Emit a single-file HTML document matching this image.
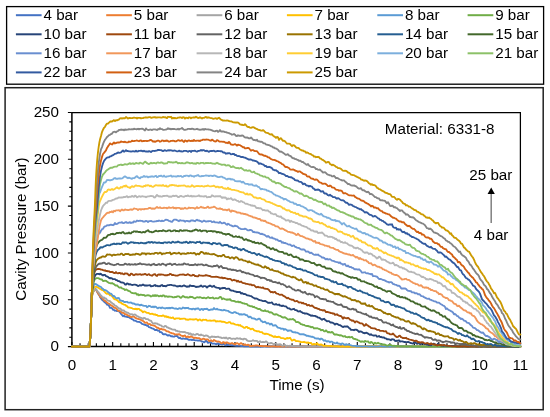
<!DOCTYPE html>
<html><head><meta charset="utf-8"><style>
html,body{margin:0;padding:0;background:#fff;width:550px;height:417px;overflow:hidden}
svg{display:block;will-change:transform}
text{font-family:"Liberation Sans",sans-serif;font-size:15.2px;fill:#000}
</style></head><body>
<svg width="550" height="417" viewBox="0 0 550 417">
<rect x="6.6" y="6.6" width="537" height="77.6" fill="#fff" stroke="#000" stroke-width="1.3"/>
<line x1="15.9" y1="15.2" x2="41.6" y2="15.2" stroke="#4472C4" stroke-width="2"/><text x="43.5" y="20.0">4 bar</text><line x1="106.2" y1="15.2" x2="131.9" y2="15.2" stroke="#ED7D31" stroke-width="2"/><text x="133.8" y="20.0">5 bar</text><line x1="196.6" y1="15.2" x2="222.3" y2="15.2" stroke="#A5A5A5" stroke-width="2"/><text x="224.2" y="20.0">6 bar</text><line x1="286.9" y1="15.2" x2="312.6" y2="15.2" stroke="#FFC000" stroke-width="2"/><text x="314.5" y="20.0">7 bar</text><line x1="377.3" y1="15.2" x2="403.0" y2="15.2" stroke="#5B9BD5" stroke-width="2"/><text x="404.9" y="20.0">8 bar</text><line x1="467.6" y1="15.2" x2="493.3" y2="15.2" stroke="#70AD47" stroke-width="2"/><text x="495.2" y="20.0">9 bar</text><line x1="15.9" y1="34.3" x2="41.6" y2="34.3" stroke="#264478" stroke-width="2"/><text x="43.5" y="39.1">10 bar</text><line x1="106.2" y1="34.3" x2="131.9" y2="34.3" stroke="#9E480E" stroke-width="2"/><text x="133.8" y="39.1">11 bar</text><line x1="196.6" y1="34.3" x2="222.3" y2="34.3" stroke="#636363" stroke-width="2"/><text x="224.2" y="39.1">12 bar</text><line x1="286.9" y1="34.3" x2="312.6" y2="34.3" stroke="#997300" stroke-width="2"/><text x="314.5" y="39.1">13 bar</text><line x1="377.3" y1="34.3" x2="403.0" y2="34.3" stroke="#255E91" stroke-width="2"/><text x="404.9" y="39.1">14 bar</text><line x1="467.6" y1="34.3" x2="493.3" y2="34.3" stroke="#43682B" stroke-width="2"/><text x="495.2" y="39.1">15 bar</text><line x1="15.9" y1="53.3" x2="41.6" y2="53.3" stroke="#698ED0" stroke-width="2"/><text x="43.5" y="58.1">16 bar</text><line x1="106.2" y1="53.3" x2="131.9" y2="53.3" stroke="#F1975A" stroke-width="2"/><text x="133.8" y="58.1">17 bar</text><line x1="196.6" y1="53.3" x2="222.3" y2="53.3" stroke="#B7B7B7" stroke-width="2"/><text x="224.2" y="58.1">18 bar</text><line x1="286.9" y1="53.3" x2="312.6" y2="53.3" stroke="#FFCD33" stroke-width="2"/><text x="314.5" y="58.1">19 bar</text><line x1="377.3" y1="53.3" x2="403.0" y2="53.3" stroke="#7CAFDD" stroke-width="2"/><text x="404.9" y="58.1">20 bar</text><line x1="467.6" y1="53.3" x2="493.3" y2="53.3" stroke="#8CC168" stroke-width="2"/><text x="495.2" y="58.1">21 bar</text><line x1="15.9" y1="72.4" x2="41.6" y2="72.4" stroke="#325AA0" stroke-width="2"/><text x="43.5" y="77.2">22 bar</text><line x1="106.2" y1="72.4" x2="131.9" y2="72.4" stroke="#D26012" stroke-width="2"/><text x="133.8" y="77.2">23 bar</text><line x1="196.6" y1="72.4" x2="222.3" y2="72.4" stroke="#848484" stroke-width="2"/><text x="224.2" y="77.2">24 bar</text><line x1="286.9" y1="72.4" x2="312.6" y2="72.4" stroke="#CC9A00" stroke-width="2"/><text x="314.5" y="77.2">25 bar</text>
<rect x="5.1" y="87.7" width="538.1" height="322" fill="#fff" stroke="#222" stroke-width="1.5"/>
<path d="M71.9,112.5H520.4V346.6" fill="none" stroke="#000" stroke-width="1.25"/>
<path d="M71.9,112.5V346.6H520.4" fill="none" stroke="#000" stroke-width="1.5"/>
<path d="M67.90,346.60H71.9 M69.30,337.24H71.9 M69.30,327.87H71.9 M69.30,318.51H71.9 M69.30,309.14H71.9 M67.90,299.78H71.9 M69.30,290.42H71.9 M69.30,281.05H71.9 M69.30,271.69H71.9 M69.30,262.32H71.9 M67.90,252.96H71.9 M69.30,243.60H71.9 M69.30,234.23H71.9 M69.30,224.87H71.9 M69.30,215.50H71.9 M67.90,206.14H71.9 M69.30,196.78H71.9 M69.30,187.41H71.9 M69.30,178.05H71.9 M69.30,168.68H71.9 M67.90,159.32H71.9 M69.30,149.96H71.9 M69.30,140.59H71.9 M69.30,131.23H71.9 M69.30,121.86H71.9 M67.90,112.50H71.9 M71.90,346.6V342.00 M80.05,346.6V343.20 M88.21,346.6V343.20 M96.36,346.6V343.20 M104.52,346.6V343.20 M112.67,346.6V342.00 M120.82,346.6V343.20 M128.98,346.6V343.20 M137.13,346.6V343.20 M145.29,346.6V343.20 M153.44,346.6V342.00 M161.59,346.6V343.20 M169.75,346.6V343.20 M177.90,346.6V343.20 M186.06,346.6V343.20 M194.21,346.6V342.00 M202.36,346.6V343.20 M210.52,346.6V343.20 M218.67,346.6V343.20 M226.83,346.6V343.20 M234.98,346.6V342.00 M243.13,346.6V343.20 M251.29,346.6V343.20 M259.44,346.6V343.20 M267.60,346.6V343.20 M275.75,346.6V342.00 M283.90,346.6V343.20 M292.06,346.6V343.20 M300.21,346.6V343.20 M308.37,346.6V343.20 M316.52,346.6V342.00 M324.67,346.6V343.20 M332.83,346.6V343.20 M340.98,346.6V343.20 M349.14,346.6V343.20 M357.29,346.6V342.00 M365.44,346.6V343.20 M373.60,346.6V343.20 M381.75,346.6V343.20 M389.91,346.6V343.20 M398.06,346.6V342.00 M406.21,346.6V343.20 M414.37,346.6V343.20 M422.52,346.6V343.20 M430.68,346.6V343.20 M438.83,346.6V342.00 M446.98,346.6V343.20 M455.14,346.6V343.20 M463.29,346.6V343.20 M471.45,346.6V343.20 M479.60,346.6V342.00 M487.75,346.6V343.20 M495.91,346.6V343.20 M504.06,346.6V343.20 M512.22,346.6V343.20 M520.37,346.6V342.00" fill="none" stroke="#000" stroke-width="1.1"/>
<g fill="none" stroke-width="1.85" stroke-linejoin="round" stroke-linecap="round">
<path d="M71.9,346.6 L75.9,346.6 L79.9,346.6 L83.9,346.6 L87.9,346.6 L89.0,346.6 L89.2,346.6 L89.4,346.1 L89.6,344.7 L89.8,342.6 L90.0,340.1 L90.2,337.4 L90.4,334.4 L90.6,330.1 L90.8,325.1 L91.0,319.8 L91.2,315.0 L91.4,310.3 L91.6,305.4 L91.8,300.7 L92.0,297.1 L92.2,295.0 L92.4,294.1 L92.6,293.3 L92.8,292.8 L93.0,292.3 L93.2,291.9 L93.4,291.5 L93.6,291.1 L93.8,290.8 L94.0,290.5 L94.2,290.2 L94.4,290.0 L94.6,289.8 L94.8,289.6 L95.0,289.5 L95.2,289.4 L95.4,289.3 L95.6,289.2 L95.8,289.2 L96.0,289.4 L96.2,289.7 L96.4,290.0 L96.6,290.5 L96.8,290.9 L97.0,291.4 L97.2,291.9 L97.4,292.3 L97.6,292.7 L97.8,293.0 L98.0,293.3 L98.2,293.7 L98.4,294.0 L98.6,294.3 L98.8,294.7 L99.0,295.0 L99.2,295.3 L99.4,295.6 L99.6,295.9 L99.8,296.2 L100.0,297.0 L101.0,298.4 L102.0,299.8 L103.0,300.6 L104.0,301.5 L105.0,302.5 L106.0,303.1 L107.0,304.7 L108.0,304.9 L109.0,305.7 L110.0,307.8 L111.0,307.8 L112.0,308.1 L113.0,309.8 L114.0,309.9 L115.0,310.7 L116.0,310.6 L117.0,311.1 L118.0,311.0 L119.0,311.4 L120.0,312.5 L121.0,313.8 L122.0,315.0 L123.0,316.2 L124.0,315.5 L125.0,316.6 L126.0,316.6 L127.0,317.0 L128.0,316.9 L129.0,317.3 L130.0,318.0 L131.0,318.3 L132.0,319.2 L133.0,319.5 L134.0,320.6 L135.0,320.6 L136.0,321.0 L137.0,321.7 L138.0,321.9 L139.0,321.9 L140.0,322.2 L141.0,322.8 L142.0,323.8 L143.0,324.2 L144.0,324.5 L145.0,325.0 L146.0,325.0 L147.0,325.7 L148.0,325.7 L149.0,327.2 L150.0,327.4 L151.0,327.8 L152.0,328.4 L153.0,328.6 L154.0,329.1 L155.0,330.0 L156.0,330.0 L157.0,330.0 L158.0,330.7 L159.0,330.6 L160.0,332.2 L161.0,332.1 L162.0,332.7 L163.0,334.1 L164.0,334.5 L165.0,334.0 L166.0,334.4 L167.0,335.1 L168.0,335.6 L169.0,335.1 L170.0,335.5 L171.0,336.2 L172.0,336.2 L173.0,336.6 L174.0,336.7 L175.0,336.1 L176.0,336.1 L177.0,335.8 L178.0,337.1 L179.0,338.1 L180.0,337.6 L181.0,338.6 L182.0,338.8 L183.0,338.5 L184.0,338.6 L185.0,338.8 L186.0,338.5 L187.0,338.9 L188.0,339.3 L189.0,339.8 L190.0,339.9 L191.0,339.5 L192.0,340.1 L193.0,339.7 L194.0,340.0 L195.0,340.4 L196.0,340.4 L197.0,340.4 L198.0,340.7 L199.0,340.5 L200.0,340.5 L201.0,341.0 L202.0,341.6 L203.0,341.6 L204.0,342.4 L205.0,341.7 L206.0,340.4 L207.0,341.7 L208.0,342.9 L209.0,342.5 L210.0,342.2 L211.0,342.4 L212.0,343.5 L213.0,343.7 L214.0,343.6 L215.0,343.7 L216.0,344.3 L217.0,344.0 L218.0,343.3 L219.0,344.1 L220.0,344.1 L221.0,344.2 L222.0,344.6 L223.0,344.2 L224.0,343.3 L225.0,345.1 L226.0,345.3 L227.0,344.8 L228.0,344.8 L229.0,345.0 L230.0,344.6 L231.0,345.2 L232.0,345.2 L233.0,345.2 L234.0,345.5 L235.0,345.6 L236.0,345.8 L237.0,345.9 L238.0,345.9 L239.0,345.9 L240.0,345.9 L241.0,346.1 L242.0,346.2 L243.0,346.1 L244.0,346.3 L245.0,346.2 L246.0,346.3 L247.0,346.4 L248.0,346.4 L249.0,346.4 L250.0,346.5 L251.0,346.6 L252.0,346.5 L253.0,346.6 L254.0,346.5 L255.0,346.6 L256.0,346.5 L257.0,346.5 L258.0,346.6 L259.0,346.6 L260.0,346.7 L261.0,346.7 L262.0,346.6 L263.0,346.5 L264.0,346.4 L265.0,346.4 L266.0,346.5 L267.0,346.5 L268.0,346.5 L269.0,346.5 L270.0,346.5 L271.0,346.4 L272.0,346.4 L273.0,346.6 L274.0,346.6 L275.0,346.5 L276.0,346.6 L277.0,346.5 L278.0,346.4 L279.0,346.4 L280.0,346.5 L281.0,346.5 L282.0,346.6 L283.0,346.6 L284.0,346.5 L285.0,346.5 L286.0,346.6 L287.0,346.5 L288.0,346.5 L289.0,346.5 L290.0,346.6 L291.0,346.6 L292.0,346.7 L293.0,346.5 L294.0,346.6 L295.0,346.5 L296.0,346.5 L297.0,346.5 L298.0,346.6 L299.0,346.6 L300.0,346.5 L301.0,346.5 L302.0,346.5 L303.0,346.5 L304.0,346.5 L305.0,346.5 L306.0,346.7 L307.0,346.6 L308.0,346.6 L309.0,346.4 L310.0,346.4 L311.0,346.5 L312.0,346.5 L313.0,346.5 L314.0,346.5 L315.0,346.6 L316.0,346.6 L317.0,346.5 L318.0,346.5 L319.0,346.5 L320.0,346.5 L321.0,346.6 L322.0,346.6 L323.0,346.5 L324.0,346.5 L325.0,346.6 L326.0,346.4 L327.0,346.5 L328.0,346.4 L329.0,346.5 L330.0,346.6 L331.0,346.6 L332.0,346.7 L333.0,346.7 L334.0,346.6 L335.0,346.5 L336.0,346.5 L337.0,346.5 L338.0,346.4 L339.0,346.6 L340.0,346.5 L341.0,346.4 L342.0,346.5 L343.0,346.6 L344.0,346.6 L345.0,346.5 L346.0,346.5 L347.0,346.5 L348.0,346.4 L349.0,346.5 L350.0,346.5 L351.0,346.4 L352.0,346.5 L353.0,346.4 L354.0,346.5 L355.0,346.4 L356.0,346.4 L357.0,346.5 L358.0,346.5 L359.0,346.4 L360.0,346.5 L361.0,346.6 L362.0,346.5 L363.0,346.5 L364.0,346.5 L365.0,346.5 L366.0,346.5 L367.0,346.5 L368.0,346.5 L369.0,346.5 L370.0,346.5 L371.0,346.6 L372.0,346.5 L373.0,346.5 L374.0,346.4 L375.0,346.5 L376.0,346.5 L377.0,346.5 L378.0,346.6 L379.0,346.4 L380.0,346.5 L381.0,346.6 L382.0,346.5 L383.0,346.6 L384.0,346.6 L385.0,346.6 L386.0,346.5 L387.0,346.5 L388.0,346.6 L389.0,346.6 L390.0,346.5 L391.0,346.5 L392.0,346.4 L393.0,346.6 L394.0,346.6 L395.0,346.5 L396.0,346.4 L397.0,346.4 L398.0,346.5 L399.0,346.5 L400.0,346.5 L401.0,346.5 L402.0,346.5 L403.0,346.4 L404.0,346.4 L405.0,346.4 L406.0,346.6 L407.0,346.5 L408.0,346.5 L409.0,346.5 L410.0,346.3 L411.0,346.4 L412.0,346.5 L413.0,346.4 L414.0,346.5 L415.0,346.4 L416.0,346.5 L417.0,346.5 L418.0,346.3 L419.0,346.4 L420.0,346.5 L421.0,346.5 L422.0,346.5 L423.0,346.5 L424.0,346.5 L425.0,346.4 L426.0,346.4 L427.0,346.4 L428.0,346.3 L429.0,346.3 L430.0,346.5 L431.0,346.5 L432.0,346.6 L433.0,346.4 L434.0,346.4 L435.0,346.5 L436.0,346.5 L437.0,346.5 L438.0,346.5 L439.0,346.4 L440.0,346.3 L441.0,346.4 L442.0,346.6 L443.0,346.6 L444.0,346.6 L445.0,346.5 L446.0,346.4 L447.0,346.4 L448.0,346.5 L449.0,346.5 L450.0,346.5 L451.0,346.6 L452.0,346.5 L453.0,346.5 L454.0,346.4 L455.0,346.5 L456.0,346.5 L457.0,346.5 L458.0,346.5 L459.0,346.6 L460.0,346.5 L461.0,346.4 L462.0,346.4 L463.0,346.5 L464.0,346.4 L465.0,346.4 L466.0,346.5 L467.0,346.5 L468.0,346.5 L469.0,346.6 L470.0,346.6 L471.0,346.4 L472.0,346.6 L473.0,346.7 L474.0,346.5 L475.0,346.5 L476.0,346.4 L477.0,346.5 L478.0,346.5 L479.0,346.5 L480.0,346.4 L481.0,346.4 L482.0,346.4 L483.0,346.4 L484.0,346.4 L485.0,346.4 L486.0,346.4 L487.0,346.5 L488.0,346.5 L489.0,346.3 L490.0,346.5 L491.0,346.4 L492.0,346.4 L493.0,346.4 L494.0,346.4 L495.0,346.4 L496.0,346.5 L497.0,346.4 L498.0,346.5 L499.0,346.5 L500.0,346.5 L501.0,346.6 L502.0,346.4 L503.0,346.6 L504.0,346.7 L505.0,346.5 L506.0,346.5 L507.0,346.5 L508.0,346.5 L509.0,346.5 L510.0,346.5 L511.0,346.6 L512.0,346.6 L513.0,346.5 L514.0,346.6 L515.0,346.6 L516.0,346.6 L517.0,346.5 L518.0,346.6 L519.0,346.6 L520.0,346.3 L520.4,346.4" stroke="#4472C4"/><path d="M71.9,346.6 L75.9,346.6 L79.9,346.6 L83.9,346.6 L87.9,346.6 L89.0,346.6 L89.2,346.6 L89.4,346.1 L89.6,344.7 L89.8,342.6 L90.0,340.1 L90.2,337.4 L90.4,334.4 L90.6,330.1 L90.8,325.1 L91.0,319.8 L91.2,315.0 L91.4,310.3 L91.6,305.4 L91.8,300.7 L92.0,297.1 L92.2,295.0 L92.4,294.1 L92.6,293.3 L92.8,292.7 L93.0,292.3 L93.2,291.9 L93.4,291.5 L93.6,291.2 L93.8,290.8 L94.0,290.5 L94.2,290.3 L94.4,290.1 L94.6,290.0 L94.8,289.9 L95.0,289.9 L95.2,289.8 L95.4,289.8 L95.6,289.8 L95.8,289.8 L96.0,289.9 L96.2,290.1 L96.4,290.4 L96.6,290.7 L96.8,291.1 L97.0,291.5 L97.2,291.8 L97.4,292.2 L97.6,292.5 L97.8,292.8 L98.0,293.1 L98.2,293.4 L98.4,293.7 L98.6,294.0 L98.8,294.2 L99.0,294.5 L99.2,294.8 L99.4,295.1 L99.6,295.4 L99.8,295.6 L100.0,296.5 L101.0,297.4 L102.0,297.7 L103.0,298.9 L104.0,300.3 L105.0,300.7 L106.0,301.6 L107.0,302.5 L108.0,303.3 L109.0,303.6 L110.0,304.4 L111.0,305.3 L112.0,305.9 L113.0,306.4 L114.0,307.7 L115.0,307.7 L116.0,308.3 L117.0,309.2 L118.0,310.8 L119.0,310.9 L120.0,311.1 L121.0,311.7 L122.0,312.8 L123.0,312.7 L124.0,313.2 L125.0,314.3 L126.0,314.2 L127.0,314.9 L128.0,315.5 L129.0,315.8 L130.0,316.4 L131.0,317.3 L132.0,316.8 L133.0,316.6 L134.0,316.7 L135.0,317.7 L136.0,318.2 L137.0,318.7 L138.0,318.8 L139.0,319.1 L140.0,319.4 L141.0,319.9 L142.0,320.6 L143.0,320.9 L144.0,321.7 L145.0,322.9 L146.0,322.7 L147.0,322.4 L148.0,324.0 L149.0,324.1 L150.0,324.0 L151.0,325.1 L152.0,325.2 L153.0,325.3 L154.0,325.6 L155.0,326.0 L156.0,326.9 L157.0,327.8 L158.0,327.7 L159.0,328.5 L160.0,329.4 L161.0,328.6 L162.0,329.3 L163.0,329.5 L164.0,329.5 L165.0,329.9 L166.0,330.8 L167.0,331.4 L168.0,331.4 L169.0,331.9 L170.0,332.6 L171.0,332.8 L172.0,333.3 L173.0,333.4 L174.0,333.8 L175.0,334.6 L176.0,334.4 L177.0,334.3 L178.0,334.7 L179.0,334.2 L180.0,334.7 L181.0,335.5 L182.0,335.9 L183.0,336.4 L184.0,335.8 L185.0,335.5 L186.0,337.1 L187.0,337.0 L188.0,336.4 L189.0,337.3 L190.0,337.0 L191.0,336.3 L192.0,336.9 L193.0,337.4 L194.0,338.3 L195.0,337.6 L196.0,337.8 L197.0,338.0 L198.0,338.1 L199.0,338.1 L200.0,338.8 L201.0,339.5 L202.0,339.3 L203.0,338.7 L204.0,338.7 L205.0,339.4 L206.0,339.3 L207.0,339.3 L208.0,339.4 L209.0,341.0 L210.0,340.9 L211.0,340.2 L212.0,341.1 L213.0,341.3 L214.0,339.9 L215.0,340.6 L216.0,341.1 L217.0,341.7 L218.0,341.5 L219.0,341.6 L220.0,342.0 L221.0,343.1 L222.0,343.3 L223.0,342.1 L224.0,342.2 L225.0,343.6 L226.0,342.4 L227.0,342.4 L228.0,342.9 L229.0,343.3 L230.0,343.7 L231.0,343.4 L232.0,343.0 L233.0,343.6 L234.0,343.9 L235.0,344.5 L236.0,343.8 L237.0,343.1 L238.0,343.5 L239.0,344.6 L240.0,343.8 L241.0,343.1 L242.0,343.8 L243.0,344.5 L244.0,345.0 L245.0,344.3 L246.0,345.0 L247.0,345.2 L248.0,344.6 L249.0,345.0 L250.0,346.0 L251.0,346.2 L252.0,345.8 L253.0,345.7 L254.0,345.9 L255.0,345.5 L256.0,345.5 L257.0,345.5 L258.0,345.7 L259.0,345.8 L260.0,346.0 L261.0,345.9 L262.0,346.0 L263.0,346.1 L264.0,346.1 L265.0,346.2 L266.0,346.0 L267.0,346.2 L268.0,346.3 L269.0,346.2 L270.0,346.3 L271.0,346.5 L272.0,346.4 L273.0,346.4 L274.0,346.4 L275.0,346.5 L276.0,346.5 L277.0,346.5 L278.0,346.5 L279.0,346.4 L280.0,346.5 L281.0,346.6 L282.0,346.6 L283.0,346.5 L284.0,346.5 L285.0,346.4 L286.0,346.4 L287.0,346.5 L288.0,346.5 L289.0,346.4 L290.0,346.4 L291.0,346.5 L292.0,346.5 L293.0,346.5 L294.0,346.5 L295.0,346.5 L296.0,346.5 L297.0,346.6 L298.0,346.6 L299.0,346.6 L300.0,346.6 L301.0,346.5 L302.0,346.5 L303.0,346.5 L304.0,346.5 L305.0,346.6 L306.0,346.6 L307.0,346.4 L308.0,346.4 L309.0,346.6 L310.0,346.5 L311.0,346.5 L312.0,346.4 L313.0,346.6 L314.0,346.6 L315.0,346.5 L316.0,346.5 L317.0,346.5 L318.0,346.5 L319.0,346.5 L320.0,346.4 L321.0,346.6 L322.0,346.5 L323.0,346.5 L324.0,346.5 L325.0,346.3 L326.0,346.5 L327.0,346.5 L328.0,346.5 L329.0,346.5 L330.0,346.4 L331.0,346.5 L332.0,346.4 L333.0,346.4 L334.0,346.4 L335.0,346.5 L336.0,346.5 L337.0,346.4 L338.0,346.4 L339.0,346.5 L340.0,346.5 L341.0,346.6 L342.0,346.5 L343.0,346.4 L344.0,346.5 L345.0,346.5 L346.0,346.6 L347.0,346.5 L348.0,346.6 L349.0,346.7 L350.0,346.5 L351.0,346.4 L352.0,346.4 L353.0,346.4 L354.0,346.4 L355.0,346.4 L356.0,346.4 L357.0,346.5 L358.0,346.3 L359.0,346.4 L360.0,346.6 L361.0,346.6 L362.0,346.6 L363.0,346.6 L364.0,346.6 L365.0,346.6 L366.0,346.5 L367.0,346.4 L368.0,346.5 L369.0,346.4 L370.0,346.4 L371.0,346.4 L372.0,346.5 L373.0,346.5 L374.0,346.5 L375.0,346.4 L376.0,346.5 L377.0,346.6 L378.0,346.5 L379.0,346.6 L380.0,346.6 L381.0,346.6 L382.0,346.6 L383.0,346.4 L384.0,346.5 L385.0,346.4 L386.0,346.4 L387.0,346.4 L388.0,346.4 L389.0,346.4 L390.0,346.5 L391.0,346.5 L392.0,346.4 L393.0,346.4 L394.0,346.4 L395.0,346.5 L396.0,346.5 L397.0,346.5 L398.0,346.5 L399.0,346.5 L400.0,346.5 L401.0,346.5 L402.0,346.4 L403.0,346.5 L404.0,346.5 L405.0,346.5 L406.0,346.5 L407.0,346.3 L408.0,346.3 L409.0,346.5 L410.0,346.5 L411.0,346.6 L412.0,346.6 L413.0,346.5 L414.0,346.5 L415.0,346.4 L416.0,346.5 L417.0,346.5 L418.0,346.5 L419.0,346.5 L420.0,346.5 L421.0,346.6 L422.0,346.5 L423.0,346.5 L424.0,346.4 L425.0,346.5 L426.0,346.6 L427.0,346.5 L428.0,346.6 L429.0,346.6 L430.0,346.6 L431.0,346.6 L432.0,346.4 L433.0,346.5 L434.0,346.6 L435.0,346.5 L436.0,346.5 L437.0,346.5 L438.0,346.5 L439.0,346.5 L440.0,346.6 L441.0,346.5 L442.0,346.4 L443.0,346.6 L444.0,346.6 L445.0,346.6 L446.0,346.5 L447.0,346.5 L448.0,346.5 L449.0,346.6 L450.0,346.6 L451.0,346.6 L452.0,346.5 L453.0,346.5 L454.0,346.5 L455.0,346.6 L456.0,346.6 L457.0,346.5 L458.0,346.5 L459.0,346.6 L460.0,346.6 L461.0,346.5 L462.0,346.4 L463.0,346.4 L464.0,346.5 L465.0,346.5 L466.0,346.4 L467.0,346.6 L468.0,346.5 L469.0,346.5 L470.0,346.4 L471.0,346.5 L472.0,346.6 L473.0,346.4 L474.0,346.5 L475.0,346.5 L476.0,346.5 L477.0,346.5 L478.0,346.5 L479.0,346.6 L480.0,346.6 L481.0,346.6 L482.0,346.7 L483.0,346.6 L484.0,346.6 L485.0,346.4 L486.0,346.4 L487.0,346.6 L488.0,346.6 L489.0,346.5 L490.0,346.5 L491.0,346.4 L492.0,346.5 L493.0,346.4 L494.0,346.5 L495.0,346.5 L496.0,346.4 L497.0,346.5 L498.0,346.6 L499.0,346.4 L500.0,346.5 L501.0,346.6 L502.0,346.5 L503.0,346.6 L504.0,346.5 L505.0,346.5 L506.0,346.6 L507.0,346.6 L508.0,346.6 L509.0,346.6 L510.0,346.5 L511.0,346.4 L512.0,346.4 L513.0,346.6 L514.0,346.6 L515.0,346.6 L516.0,346.5 L517.0,346.5 L518.0,346.5 L519.0,346.4 L520.0,346.5 L520.4,346.5" stroke="#ED7D31"/><path d="M71.9,346.6 L75.9,346.6 L79.9,346.6 L83.9,346.6 L87.9,346.6 L89.0,346.6 L89.2,346.6 L89.4,346.1 L89.6,344.7 L89.8,342.6 L90.0,340.1 L90.2,337.4 L90.4,334.4 L90.6,330.1 L90.8,325.1 L91.0,319.8 L91.2,315.0 L91.4,310.3 L91.6,305.4 L91.8,300.7 L92.0,297.1 L92.2,295.0 L92.4,294.1 L92.6,293.3 L92.8,292.7 L93.0,292.3 L93.2,291.9 L93.4,291.5 L93.6,291.2 L93.8,290.8 L94.0,290.6 L94.2,290.3 L94.4,290.1 L94.6,290.0 L94.8,289.9 L95.0,289.8 L95.2,289.8 L95.4,289.7 L95.6,289.7 L95.8,289.7 L96.0,289.8 L96.2,289.9 L96.4,290.0 L96.6,290.2 L96.8,290.4 L97.0,290.6 L97.2,290.9 L97.4,291.1 L97.6,291.3 L97.8,291.6 L98.0,291.8 L98.2,292.0 L98.4,292.2 L98.6,292.5 L98.8,292.7 L99.0,293.0 L99.2,293.3 L99.4,293.5 L99.6,293.7 L99.8,294.0 L100.0,294.7 L101.0,295.4 L102.0,296.6 L103.0,297.6 L104.0,297.4 L105.0,298.6 L106.0,298.4 L107.0,299.9 L108.0,300.6 L109.0,300.8 L110.0,301.2 L111.0,302.3 L112.0,303.0 L113.0,303.9 L114.0,304.4 L115.0,305.7 L116.0,305.9 L117.0,306.8 L118.0,307.7 L119.0,308.8 L120.0,308.4 L121.0,309.3 L122.0,310.6 L123.0,310.3 L124.0,310.5 L125.0,311.6 L126.0,312.0 L127.0,312.8 L128.0,312.6 L129.0,313.4 L130.0,314.1 L131.0,314.5 L132.0,314.1 L133.0,315.2 L134.0,314.7 L135.0,314.5 L136.0,315.2 L137.0,316.1 L138.0,316.4 L139.0,317.1 L140.0,317.5 L141.0,317.8 L142.0,318.1 L143.0,319.0 L144.0,317.8 L145.0,318.1 L146.0,319.1 L147.0,319.2 L148.0,319.1 L149.0,320.2 L150.0,320.6 L151.0,320.6 L152.0,322.4 L153.0,323.4 L154.0,323.6 L155.0,323.2 L156.0,323.6 L157.0,323.5 L158.0,324.3 L159.0,324.5 L160.0,325.2 L161.0,325.4 L162.0,326.3 L163.0,326.7 L164.0,326.9 L165.0,325.9 L166.0,326.1 L167.0,327.3 L168.0,327.5 L169.0,328.2 L170.0,328.5 L171.0,328.8 L172.0,329.4 L173.0,329.6 L174.0,329.7 L175.0,329.6 L176.0,330.9 L177.0,330.8 L178.0,331.3 L179.0,331.4 L180.0,331.9 L181.0,331.8 L182.0,331.9 L183.0,332.1 L184.0,331.9 L185.0,332.1 L186.0,332.6 L187.0,332.8 L188.0,332.9 L189.0,334.3 L190.0,333.3 L191.0,333.8 L192.0,335.0 L193.0,334.1 L194.0,334.7 L195.0,334.8 L196.0,334.5 L197.0,333.9 L198.0,334.1 L199.0,335.0 L200.0,335.2 L201.0,334.4 L202.0,335.2 L203.0,335.3 L204.0,336.0 L205.0,335.8 L206.0,335.4 L207.0,335.6 L208.0,336.1 L209.0,337.0 L210.0,337.8 L211.0,336.8 L212.0,336.5 L213.0,336.8 L214.0,336.7 L215.0,337.0 L216.0,337.0 L217.0,336.8 L218.0,336.6 L219.0,337.1 L220.0,337.5 L221.0,337.5 L222.0,338.1 L223.0,337.9 L224.0,337.6 L225.0,338.2 L226.0,337.4 L227.0,338.3 L228.0,338.8 L229.0,337.9 L230.0,338.0 L231.0,338.6 L232.0,339.0 L233.0,338.6 L234.0,338.6 L235.0,339.0 L236.0,338.7 L237.0,338.1 L238.0,338.6 L239.0,338.7 L240.0,338.3 L241.0,339.1 L242.0,339.0 L243.0,339.5 L244.0,338.7 L245.0,338.9 L246.0,339.1 L247.0,340.4 L248.0,340.9 L249.0,341.1 L250.0,341.2 L251.0,341.1 L252.0,340.9 L253.0,340.1 L254.0,340.9 L255.0,340.9 L256.0,340.9 L257.0,340.9 L258.0,342.1 L259.0,341.8 L260.0,341.2 L261.0,342.1 L262.0,342.1 L263.0,341.8 L264.0,342.1 L265.0,342.0 L266.0,341.4 L267.0,342.0 L268.0,343.2 L269.0,343.4 L270.0,343.4 L271.0,342.9 L272.0,343.2 L273.0,343.8 L274.0,344.1 L275.0,343.6 L276.0,343.7 L277.0,344.7 L278.0,344.5 L279.0,344.3 L280.0,344.2 L281.0,344.6 L282.0,345.7 L283.0,345.7 L284.0,345.0 L285.0,344.9 L286.0,346.3 L287.0,345.7 L288.0,345.8 L289.0,345.8 L290.0,345.7 L291.0,345.8 L292.0,346.0 L293.0,346.0 L294.0,346.1 L295.0,346.1 L296.0,346.1 L297.0,346.3 L298.0,346.3 L299.0,346.3 L300.0,346.4 L301.0,346.5 L302.0,346.6 L303.0,346.6 L304.0,346.4 L305.0,346.5 L306.0,346.5 L307.0,346.5 L308.0,346.4 L309.0,346.5 L310.0,346.6 L311.0,346.5 L312.0,346.4 L313.0,346.5 L314.0,346.4 L315.0,346.5 L316.0,346.6 L317.0,346.4 L318.0,346.4 L319.0,346.5 L320.0,346.5 L321.0,346.6 L322.0,346.5 L323.0,346.5 L324.0,346.4 L325.0,346.6 L326.0,346.5 L327.0,346.6 L328.0,346.5 L329.0,346.3 L330.0,346.3 L331.0,346.4 L332.0,346.5 L333.0,346.5 L334.0,346.5 L335.0,346.5 L336.0,346.5 L337.0,346.6 L338.0,346.5 L339.0,346.4 L340.0,346.5 L341.0,346.6 L342.0,346.5 L343.0,346.6 L344.0,346.6 L345.0,346.5 L346.0,346.5 L347.0,346.4 L348.0,346.5 L349.0,346.4 L350.0,346.4 L351.0,346.4 L352.0,346.5 L353.0,346.5 L354.0,346.5 L355.0,346.5 L356.0,346.5 L357.0,346.6 L358.0,346.7 L359.0,346.5 L360.0,346.4 L361.0,346.4 L362.0,346.5 L363.0,346.5 L364.0,346.5 L365.0,346.3 L366.0,346.4 L367.0,346.4 L368.0,346.5 L369.0,346.5 L370.0,346.3 L371.0,346.5 L372.0,346.6 L373.0,346.6 L374.0,346.3 L375.0,346.5 L376.0,346.6 L377.0,346.6 L378.0,346.5 L379.0,346.4 L380.0,346.4 L381.0,346.5 L382.0,346.5 L383.0,346.6 L384.0,346.5 L385.0,346.5 L386.0,346.4 L387.0,346.4 L388.0,346.5 L389.0,346.5 L390.0,346.5 L391.0,346.6 L392.0,346.5 L393.0,346.4 L394.0,346.5 L395.0,346.4 L396.0,346.4 L397.0,346.4 L398.0,346.6 L399.0,346.6 L400.0,346.4 L401.0,346.6 L402.0,346.6 L403.0,346.5 L404.0,346.6 L405.0,346.7 L406.0,346.6 L407.0,346.6 L408.0,346.6 L409.0,346.4 L410.0,346.4 L411.0,346.4 L412.0,346.5 L413.0,346.5 L414.0,346.4 L415.0,346.4 L416.0,346.5 L417.0,346.5 L418.0,346.5 L419.0,346.5 L420.0,346.5 L421.0,346.5 L422.0,346.5 L423.0,346.4 L424.0,346.4 L425.0,346.6 L426.0,346.8 L427.0,346.6 L428.0,346.4 L429.0,346.5 L430.0,346.6 L431.0,346.4 L432.0,346.4 L433.0,346.5 L434.0,346.4 L435.0,346.4 L436.0,346.6 L437.0,346.5 L438.0,346.5 L439.0,346.6 L440.0,346.4 L441.0,346.4 L442.0,346.6 L443.0,346.7 L444.0,346.6 L445.0,346.5 L446.0,346.4 L447.0,346.4 L448.0,346.6 L449.0,346.6 L450.0,346.6 L451.0,346.5 L452.0,346.4 L453.0,346.4 L454.0,346.4 L455.0,346.5 L456.0,346.4 L457.0,346.5 L458.0,346.6 L459.0,346.6 L460.0,346.5 L461.0,346.5 L462.0,346.5 L463.0,346.4 L464.0,346.5 L465.0,346.5 L466.0,346.5 L467.0,346.5 L468.0,346.5 L469.0,346.6 L470.0,346.5 L471.0,346.5 L472.0,346.5 L473.0,346.5 L474.0,346.6 L475.0,346.6 L476.0,346.5 L477.0,346.4 L478.0,346.4 L479.0,346.4 L480.0,346.5 L481.0,346.4 L482.0,346.4 L483.0,346.4 L484.0,346.4 L485.0,346.4 L486.0,346.5 L487.0,346.6 L488.0,346.6 L489.0,346.4 L490.0,346.4 L491.0,346.5 L492.0,346.6 L493.0,346.6 L494.0,346.5 L495.0,346.6 L496.0,346.6 L497.0,346.5 L498.0,346.5 L499.0,346.6 L500.0,346.6 L501.0,346.5 L502.0,346.6 L503.0,346.6 L504.0,346.5 L505.0,346.4 L506.0,346.5 L507.0,346.6 L508.0,346.6 L509.0,346.6 L510.0,346.5 L511.0,346.6 L512.0,346.5 L513.0,346.6 L514.0,346.5 L515.0,346.5 L516.0,346.6 L517.0,346.4 L518.0,346.4 L519.0,346.5 L520.0,346.4 L520.4,346.4" stroke="#A5A5A5"/><path d="M71.9,346.6 L75.9,346.6 L79.9,346.6 L83.9,346.6 L87.9,346.6 L89.0,346.6 L89.2,346.6 L89.4,346.1 L89.6,344.7 L89.8,342.6 L90.0,340.1 L90.2,337.4 L90.4,334.4 L90.6,330.2 L90.8,325.1 L91.0,319.8 L91.2,315.0 L91.4,310.2 L91.6,305.0 L91.8,300.2 L92.0,296.3 L92.2,294.0 L92.4,292.8 L92.6,291.9 L92.8,291.2 L93.0,290.6 L93.2,290.0 L93.4,289.5 L93.6,289.0 L93.8,288.5 L94.0,288.0 L94.2,287.7 L94.4,287.4 L94.6,287.2 L94.8,287.1 L95.0,286.9 L95.2,286.8 L95.4,286.7 L95.6,286.7 L95.8,286.7 L96.0,286.7 L96.2,286.8 L96.4,286.8 L96.6,286.9 L96.8,287.0 L97.0,287.1 L97.2,287.2 L97.4,287.3 L97.6,287.4 L97.8,287.5 L98.0,287.6 L98.2,287.7 L98.4,287.8 L98.6,287.9 L98.8,288.0 L99.0,288.2 L99.2,288.3 L99.4,288.4 L99.6,288.5 L99.8,288.7 L100.0,288.8 L101.0,289.3 L102.0,290.0 L103.0,290.2 L104.0,291.1 L105.0,292.1 L106.0,293.3 L107.0,293.9 L108.0,293.4 L109.0,294.2 L110.0,295.3 L111.0,295.0 L112.0,296.2 L113.0,297.4 L114.0,298.8 L115.0,299.3 L116.0,299.5 L117.0,300.1 L118.0,301.0 L119.0,302.3 L120.0,302.2 L121.0,302.8 L122.0,303.7 L123.0,304.2 L124.0,304.6 L125.0,304.8 L126.0,305.7 L127.0,306.2 L128.0,307.3 L129.0,307.5 L130.0,307.6 L131.0,308.0 L132.0,308.1 L133.0,308.9 L134.0,308.8 L135.0,309.1 L136.0,308.7 L137.0,309.4 L138.0,308.8 L139.0,308.9 L140.0,310.0 L141.0,310.3 L142.0,311.2 L143.0,312.3 L144.0,311.4 L145.0,311.6 L146.0,312.4 L147.0,312.8 L148.0,312.8 L149.0,313.2 L150.0,313.9 L151.0,314.0 L152.0,313.6 L153.0,314.2 L154.0,314.5 L155.0,314.3 L156.0,315.0 L157.0,315.0 L158.0,315.9 L159.0,315.9 L160.0,315.9 L161.0,315.8 L162.0,316.0 L163.0,315.4 L164.0,315.9 L165.0,316.7 L166.0,316.1 L167.0,317.2 L168.0,316.7 L169.0,317.6 L170.0,317.4 L171.0,318.0 L172.0,317.9 L173.0,317.4 L174.0,318.7 L175.0,319.0 L176.0,318.4 L177.0,318.3 L178.0,318.4 L179.0,318.3 L180.0,319.1 L181.0,318.7 L182.0,318.8 L183.0,318.6 L184.0,318.6 L185.0,318.7 L186.0,319.7 L187.0,319.5 L188.0,319.8 L189.0,319.5 L190.0,319.1 L191.0,319.3 L192.0,319.3 L193.0,319.5 L194.0,319.5 L195.0,319.4 L196.0,319.0 L197.0,319.5 L198.0,320.5 L199.0,319.7 L200.0,319.5 L201.0,320.3 L202.0,320.7 L203.0,319.6 L204.0,319.9 L205.0,319.8 L206.0,319.6 L207.0,320.6 L208.0,320.6 L209.0,320.6 L210.0,320.4 L211.0,320.8 L212.0,320.6 L213.0,320.7 L214.0,320.3 L215.0,320.5 L216.0,321.6 L217.0,321.1 L218.0,321.4 L219.0,321.4 L220.0,321.2 L221.0,321.4 L222.0,321.9 L223.0,321.7 L224.0,321.8 L225.0,322.2 L226.0,322.8 L227.0,322.8 L228.0,322.6 L229.0,322.2 L230.0,322.1 L231.0,323.3 L232.0,323.6 L233.0,323.4 L234.0,323.8 L235.0,324.3 L236.0,324.6 L237.0,324.8 L238.0,324.7 L239.0,325.5 L240.0,325.0 L241.0,326.0 L242.0,326.4 L243.0,327.0 L244.0,327.8 L245.0,327.8 L246.0,326.8 L247.0,326.8 L248.0,328.1 L249.0,328.0 L250.0,328.7 L251.0,329.4 L252.0,328.6 L253.0,328.8 L254.0,330.2 L255.0,330.7 L256.0,330.9 L257.0,331.3 L258.0,331.2 L259.0,331.3 L260.0,332.1 L261.0,332.1 L262.0,332.2 L263.0,333.4 L264.0,333.7 L265.0,334.0 L266.0,333.7 L267.0,333.9 L268.0,334.1 L269.0,334.5 L270.0,335.2 L271.0,335.2 L272.0,335.9 L273.0,336.4 L274.0,337.1 L275.0,336.1 L276.0,337.0 L277.0,337.0 L278.0,337.0 L279.0,336.7 L280.0,337.3 L281.0,338.1 L282.0,338.1 L283.0,338.2 L284.0,338.4 L285.0,339.1 L286.0,338.7 L287.0,337.9 L288.0,338.5 L289.0,338.1 L290.0,337.8 L291.0,339.3 L292.0,340.6 L293.0,340.2 L294.0,339.7 L295.0,340.1 L296.0,341.2 L297.0,341.1 L298.0,341.2 L299.0,341.3 L300.0,341.6 L301.0,342.1 L302.0,342.2 L303.0,342.1 L304.0,341.8 L305.0,342.4 L306.0,342.4 L307.0,343.0 L308.0,342.4 L309.0,342.8 L310.0,343.0 L311.0,342.9 L312.0,344.3 L313.0,344.5 L314.0,343.9 L315.0,344.4 L316.0,344.2 L317.0,343.2 L318.0,344.4 L319.0,344.7 L320.0,344.7 L321.0,344.4 L322.0,344.9 L323.0,345.3 L324.0,346.0 L325.0,345.6 L326.0,345.7 L327.0,345.8 L328.0,345.8 L329.0,345.9 L330.0,345.9 L331.0,346.2 L332.0,346.2 L333.0,346.3 L334.0,346.3 L335.0,346.4 L336.0,346.4 L337.0,346.4 L338.0,346.5 L339.0,346.5 L340.0,346.6 L341.0,346.6 L342.0,346.5 L343.0,346.4 L344.0,346.5 L345.0,346.6 L346.0,346.6 L347.0,346.5 L348.0,346.5 L349.0,346.4 L350.0,346.5 L351.0,346.6 L352.0,346.5 L353.0,346.5 L354.0,346.5 L355.0,346.5 L356.0,346.4 L357.0,346.4 L358.0,346.4 L359.0,346.5 L360.0,346.5 L361.0,346.6 L362.0,346.6 L363.0,346.5 L364.0,346.5 L365.0,346.5 L366.0,346.5 L367.0,346.4 L368.0,346.5 L369.0,346.6 L370.0,346.5 L371.0,346.5 L372.0,346.4 L373.0,346.5 L374.0,346.4 L375.0,346.4 L376.0,346.6 L377.0,346.5 L378.0,346.6 L379.0,346.6 L380.0,346.5 L381.0,346.6 L382.0,346.6 L383.0,346.5 L384.0,346.4 L385.0,346.4 L386.0,346.5 L387.0,346.6 L388.0,346.6 L389.0,346.4 L390.0,346.4 L391.0,346.5 L392.0,346.5 L393.0,346.5 L394.0,346.5 L395.0,346.5 L396.0,346.5 L397.0,346.5 L398.0,346.5 L399.0,346.5 L400.0,346.6 L401.0,346.6 L402.0,346.6 L403.0,346.5 L404.0,346.4 L405.0,346.5 L406.0,346.3 L407.0,346.4 L408.0,346.5 L409.0,346.6 L410.0,346.5 L411.0,346.4 L412.0,346.4 L413.0,346.5 L414.0,346.6 L415.0,346.7 L416.0,346.5 L417.0,346.4 L418.0,346.4 L419.0,346.5 L420.0,346.5 L421.0,346.4 L422.0,346.5 L423.0,346.4 L424.0,346.6 L425.0,346.6 L426.0,346.6 L427.0,346.5 L428.0,346.5 L429.0,346.5 L430.0,346.5 L431.0,346.5 L432.0,346.4 L433.0,346.4 L434.0,346.5 L435.0,346.5 L436.0,346.5 L437.0,346.5 L438.0,346.4 L439.0,346.4 L440.0,346.5 L441.0,346.5 L442.0,346.5 L443.0,346.6 L444.0,346.5 L445.0,346.4 L446.0,346.4 L447.0,346.5 L448.0,346.5 L449.0,346.4 L450.0,346.6 L451.0,346.6 L452.0,346.6 L453.0,346.5 L454.0,346.5 L455.0,346.5 L456.0,346.7 L457.0,346.6 L458.0,346.6 L459.0,346.5 L460.0,346.5 L461.0,346.4 L462.0,346.5 L463.0,346.5 L464.0,346.4 L465.0,346.6 L466.0,346.5 L467.0,346.4 L468.0,346.4 L469.0,346.5 L470.0,346.5 L471.0,346.4 L472.0,346.4 L473.0,346.5 L474.0,346.4 L475.0,346.4 L476.0,346.5 L477.0,346.5 L478.0,346.4 L479.0,346.5 L480.0,346.4 L481.0,346.4 L482.0,346.5 L483.0,346.5 L484.0,346.6 L485.0,346.5 L486.0,346.5 L487.0,346.5 L488.0,346.5 L489.0,346.5 L490.0,346.5 L491.0,346.5 L492.0,346.5 L493.0,346.4 L494.0,346.5 L495.0,346.5 L496.0,346.6 L497.0,346.4 L498.0,346.5 L499.0,346.4 L500.0,346.5 L501.0,346.4 L502.0,346.4 L503.0,346.5 L504.0,346.6 L505.0,346.4 L506.0,346.4 L507.0,346.4 L508.0,346.4 L509.0,346.5 L510.0,346.4 L511.0,346.4 L512.0,346.5 L513.0,346.5 L514.0,346.5 L515.0,346.4 L516.0,346.4 L517.0,346.4 L518.0,346.6 L519.0,346.5 L520.0,346.5 L520.4,346.5" stroke="#FFC000"/><path d="M71.9,346.6 L75.9,346.6 L79.9,346.6 L83.9,346.6 L87.9,346.6 L89.0,346.6 L89.2,346.6 L89.4,346.1 L89.6,344.7 L89.8,342.6 L90.0,340.1 L90.2,337.4 L90.4,334.4 L90.6,330.2 L90.8,325.1 L91.0,319.8 L91.2,315.0 L91.4,310.3 L91.6,305.3 L91.8,300.4 L92.0,296.2 L92.2,293.0 L92.4,291.2 L92.6,289.9 L92.8,288.8 L93.0,287.9 L93.2,287.1 L93.4,286.5 L93.6,285.9 L93.8,285.3 L94.0,284.8 L94.2,284.3 L94.4,284.0 L94.6,283.8 L94.8,283.8 L95.0,283.8 L95.2,283.9 L95.4,284.0 L95.6,284.0 L95.8,284.1 L96.0,284.2 L96.2,284.3 L96.4,284.4 L96.6,284.6 L96.8,284.7 L97.0,284.9 L97.2,285.0 L97.4,285.2 L97.6,285.3 L97.8,285.4 L98.0,285.5 L98.2,285.6 L98.4,285.7 L98.6,285.9 L98.8,286.0 L99.0,286.1 L99.2,286.2 L99.4,286.3 L99.6,286.4 L99.8,286.5 L100.0,286.5 L101.0,287.0 L102.0,288.4 L103.0,288.8 L104.0,290.2 L105.0,290.0 L106.0,290.4 L107.0,291.1 L108.0,292.1 L109.0,292.8 L110.0,293.7 L111.0,293.6 L112.0,294.7 L113.0,296.1 L114.0,296.0 L115.0,297.0 L116.0,298.1 L117.0,298.3 L118.0,298.0 L119.0,298.2 L120.0,300.5 L121.0,300.5 L122.0,301.0 L123.0,300.9 L124.0,302.0 L125.0,302.0 L126.0,301.9 L127.0,301.8 L128.0,302.5 L129.0,302.6 L130.0,302.7 L131.0,302.5 L132.0,303.2 L133.0,303.7 L134.0,303.5 L135.0,304.2 L136.0,304.7 L137.0,304.5 L138.0,304.5 L139.0,304.8 L140.0,305.4 L141.0,304.7 L142.0,305.2 L143.0,305.5 L144.0,305.9 L145.0,305.9 L146.0,305.8 L147.0,307.2 L148.0,306.6 L149.0,305.8 L150.0,306.1 L151.0,306.8 L152.0,307.1 L153.0,306.5 L154.0,307.2 L155.0,306.5 L156.0,306.9 L157.0,307.9 L158.0,308.3 L159.0,307.6 L160.0,307.6 L161.0,308.2 L162.0,307.4 L163.0,307.9 L164.0,308.1 L165.0,308.5 L166.0,308.2 L167.0,308.0 L168.0,308.3 L169.0,307.8 L170.0,308.4 L171.0,307.9 L172.0,307.7 L173.0,308.0 L174.0,308.4 L175.0,308.7 L176.0,308.4 L177.0,308.8 L178.0,309.0 L179.0,308.4 L180.0,308.1 L181.0,308.9 L182.0,308.5 L183.0,307.5 L184.0,307.9 L185.0,308.4 L186.0,307.9 L187.0,308.0 L188.0,307.8 L189.0,308.7 L190.0,308.8 L191.0,308.9 L192.0,309.4 L193.0,308.7 L194.0,308.8 L195.0,309.6 L196.0,308.5 L197.0,308.9 L198.0,308.3 L199.0,309.1 L200.0,310.0 L201.0,309.2 L202.0,308.9 L203.0,310.0 L204.0,309.0 L205.0,308.9 L206.0,309.1 L207.0,308.6 L208.0,309.7 L209.0,310.2 L210.0,309.8 L211.0,309.5 L212.0,309.4 L213.0,309.5 L214.0,308.0 L215.0,309.1 L216.0,309.4 L217.0,308.7 L218.0,309.6 L219.0,309.7 L220.0,309.8 L221.0,310.0 L222.0,310.3 L223.0,310.3 L224.0,309.8 L225.0,310.2 L226.0,310.5 L227.0,310.7 L228.0,310.8 L229.0,311.7 L230.0,312.2 L231.0,312.6 L232.0,313.0 L233.0,312.9 L234.0,312.2 L235.0,312.1 L236.0,312.6 L237.0,313.2 L238.0,313.3 L239.0,314.1 L240.0,314.6 L241.0,314.1 L242.0,314.7 L243.0,314.4 L244.0,314.2 L245.0,314.5 L246.0,315.1 L247.0,315.1 L248.0,316.5 L249.0,317.3 L250.0,316.6 L251.0,317.2 L252.0,318.4 L253.0,318.4 L254.0,318.5 L255.0,318.8 L256.0,319.6 L257.0,319.6 L258.0,319.1 L259.0,318.6 L260.0,319.1 L261.0,320.9 L262.0,321.3 L263.0,322.2 L264.0,322.1 L265.0,321.7 L266.0,322.7 L267.0,323.5 L268.0,323.0 L269.0,323.5 L270.0,324.6 L271.0,323.7 L272.0,324.2 L273.0,325.6 L274.0,325.6 L275.0,325.2 L276.0,325.5 L277.0,326.8 L278.0,327.7 L279.0,327.9 L280.0,328.1 L281.0,328.8 L282.0,328.6 L283.0,328.6 L284.0,329.8 L285.0,329.0 L286.0,329.5 L287.0,330.2 L288.0,331.0 L289.0,330.4 L290.0,330.6 L291.0,330.5 L292.0,331.6 L293.0,332.2 L294.0,332.4 L295.0,332.1 L296.0,332.7 L297.0,332.6 L298.0,333.0 L299.0,333.6 L300.0,334.4 L301.0,334.1 L302.0,334.4 L303.0,334.2 L304.0,334.5 L305.0,334.8 L306.0,335.4 L307.0,336.0 L308.0,335.6 L309.0,336.4 L310.0,336.2 L311.0,336.8 L312.0,336.7 L313.0,337.0 L314.0,337.4 L315.0,338.3 L316.0,338.3 L317.0,338.7 L318.0,338.4 L319.0,338.8 L320.0,339.6 L321.0,338.5 L322.0,338.9 L323.0,339.8 L324.0,340.8 L325.0,340.2 L326.0,341.0 L327.0,341.6 L328.0,341.1 L329.0,341.4 L330.0,342.3 L331.0,341.6 L332.0,341.6 L333.0,342.6 L334.0,342.6 L335.0,343.4 L336.0,343.3 L337.0,342.5 L338.0,343.5 L339.0,343.7 L340.0,343.7 L341.0,344.4 L342.0,343.4 L343.0,343.7 L344.0,344.4 L345.0,345.0 L346.0,344.2 L347.0,344.5 L348.0,344.6 L349.0,344.5 L350.0,345.0 L351.0,345.5 L352.0,345.7 L353.0,345.8 L354.0,345.8 L355.0,345.9 L356.0,346.0 L357.0,346.0 L358.0,346.1 L359.0,346.1 L360.0,346.3 L361.0,346.3 L362.0,346.6 L363.0,346.4 L364.0,346.4 L365.0,346.3 L366.0,346.4 L367.0,346.4 L368.0,346.5 L369.0,346.6 L370.0,346.5 L371.0,346.4 L372.0,346.5 L373.0,346.4 L374.0,346.5 L375.0,346.6 L376.0,346.6 L377.0,346.6 L378.0,346.6 L379.0,346.5 L380.0,346.4 L381.0,346.4 L382.0,346.5 L383.0,346.6 L384.0,346.6 L385.0,346.5 L386.0,346.5 L387.0,346.6 L388.0,346.6 L389.0,346.5 L390.0,346.5 L391.0,346.5 L392.0,346.5 L393.0,346.5 L394.0,346.5 L395.0,346.5 L396.0,346.5 L397.0,346.4 L398.0,346.4 L399.0,346.6 L400.0,346.4 L401.0,346.5 L402.0,346.5 L403.0,346.5 L404.0,346.5 L405.0,346.6 L406.0,346.5 L407.0,346.5 L408.0,346.4 L409.0,346.5 L410.0,346.4 L411.0,346.4 L412.0,346.5 L413.0,346.6 L414.0,346.6 L415.0,346.5 L416.0,346.5 L417.0,346.6 L418.0,346.6 L419.0,346.7 L420.0,346.6 L421.0,346.5 L422.0,346.6 L423.0,346.7 L424.0,346.6 L425.0,346.5 L426.0,346.5 L427.0,346.6 L428.0,346.5 L429.0,346.5 L430.0,346.5 L431.0,346.4 L432.0,346.4 L433.0,346.4 L434.0,346.5 L435.0,346.6 L436.0,346.6 L437.0,346.5 L438.0,346.6 L439.0,346.5 L440.0,346.4 L441.0,346.5 L442.0,346.5 L443.0,346.5 L444.0,346.3 L445.0,346.5 L446.0,346.5 L447.0,346.5 L448.0,346.6 L449.0,346.5 L450.0,346.7 L451.0,346.6 L452.0,346.5 L453.0,346.3 L454.0,346.4 L455.0,346.6 L456.0,346.6 L457.0,346.6 L458.0,346.5 L459.0,346.5 L460.0,346.5 L461.0,346.5 L462.0,346.6 L463.0,346.5 L464.0,346.5 L465.0,346.5 L466.0,346.6 L467.0,346.6 L468.0,346.5 L469.0,346.5 L470.0,346.5 L471.0,346.6 L472.0,346.5 L473.0,346.5 L474.0,346.6 L475.0,346.6 L476.0,346.6 L477.0,346.5 L478.0,346.5 L479.0,346.4 L480.0,346.4 L481.0,346.5 L482.0,346.5 L483.0,346.5 L484.0,346.5 L485.0,346.6 L486.0,346.6 L487.0,346.5 L488.0,346.5 L489.0,346.6 L490.0,346.5 L491.0,346.5 L492.0,346.6 L493.0,346.5 L494.0,346.5 L495.0,346.5 L496.0,346.4 L497.0,346.5 L498.0,346.5 L499.0,346.7 L500.0,346.6 L501.0,346.5 L502.0,346.5 L503.0,346.5 L504.0,346.6 L505.0,346.5 L506.0,346.4 L507.0,346.5 L508.0,346.4 L509.0,346.6 L510.0,346.6 L511.0,346.5 L512.0,346.5 L513.0,346.5 L514.0,346.5 L515.0,346.6 L516.0,346.5 L517.0,346.6 L518.0,346.5 L519.0,346.5 L520.0,346.6 L520.4,346.6" stroke="#5B9BD5"/><path d="M71.9,346.6 L75.9,346.6 L79.9,346.6 L83.9,346.6 L87.9,346.6 L89.0,346.6 L89.2,346.6 L89.4,346.1 L89.6,344.7 L89.8,342.6 L90.0,340.1 L90.2,337.4 L90.4,334.4 L90.6,330.2 L90.8,325.1 L91.0,319.8 L91.2,315.0 L91.4,310.4 L91.6,305.5 L91.8,300.6 L92.0,296.2 L92.2,292.6 L92.4,290.0 L92.6,288.2 L92.8,286.7 L93.0,285.4 L93.2,284.3 L93.4,283.4 L93.6,282.6 L93.8,281.9 L94.0,281.2 L94.2,280.6 L94.4,280.1 L94.6,279.7 L94.8,279.4 L95.0,279.1 L95.2,278.9 L95.4,278.7 L95.6,278.5 L95.8,278.3 L96.0,278.3 L96.2,278.2 L96.4,278.2 L96.6,278.2 L96.8,278.1 L97.0,278.1 L97.2,278.1 L97.4,278.1 L97.6,278.1 L97.8,278.1 L98.0,278.1 L98.2,278.2 L98.4,278.3 L98.6,278.3 L98.8,278.4 L99.0,278.5 L99.2,278.6 L99.4,278.7 L99.6,278.8 L99.8,278.9 L100.0,279.1 L101.0,279.5 L102.0,279.4 L103.0,281.1 L104.0,280.8 L105.0,280.6 L106.0,280.8 L107.0,281.6 L108.0,282.2 L109.0,282.9 L110.0,283.1 L111.0,283.5 L112.0,283.0 L113.0,283.6 L114.0,284.1 L115.0,285.1 L116.0,285.6 L117.0,285.3 L118.0,286.3 L119.0,287.3 L120.0,287.7 L121.0,287.3 L122.0,288.3 L123.0,288.7 L124.0,289.0 L125.0,290.1 L126.0,289.4 L127.0,289.9 L128.0,290.7 L129.0,291.0 L130.0,291.4 L131.0,292.5 L132.0,293.0 L133.0,293.2 L134.0,293.4 L135.0,293.2 L136.0,293.2 L137.0,294.7 L138.0,294.1 L139.0,295.3 L140.0,294.7 L141.0,294.7 L142.0,294.8 L143.0,295.2 L144.0,295.0 L145.0,295.9 L146.0,295.6 L147.0,295.3 L148.0,295.1 L149.0,295.5 L150.0,295.7 L151.0,296.5 L152.0,296.1 L153.0,295.2 L154.0,296.1 L155.0,295.0 L156.0,296.1 L157.0,295.2 L158.0,295.8 L159.0,296.4 L160.0,296.0 L161.0,295.7 L162.0,296.4 L163.0,295.3 L164.0,295.5 L165.0,296.7 L166.0,296.1 L167.0,296.5 L168.0,296.8 L169.0,296.5 L170.0,296.6 L171.0,296.7 L172.0,296.8 L173.0,297.3 L174.0,297.3 L175.0,297.0 L176.0,297.1 L177.0,296.5 L178.0,296.3 L179.0,296.4 L180.0,297.3 L181.0,297.8 L182.0,296.9 L183.0,296.0 L184.0,296.6 L185.0,297.2 L186.0,297.2 L187.0,297.2 L188.0,297.7 L189.0,297.5 L190.0,296.7 L191.0,297.2 L192.0,296.9 L193.0,297.4 L194.0,298.1 L195.0,298.4 L196.0,297.8 L197.0,297.2 L198.0,297.3 L199.0,297.6 L200.0,297.1 L201.0,297.5 L202.0,298.0 L203.0,298.1 L204.0,297.6 L205.0,298.0 L206.0,298.4 L207.0,297.9 L208.0,297.1 L209.0,297.8 L210.0,298.0 L211.0,297.8 L212.0,297.8 L213.0,297.5 L214.0,298.6 L215.0,298.4 L216.0,298.0 L217.0,298.4 L218.0,298.4 L219.0,297.8 L220.0,296.9 L221.0,297.2 L222.0,299.2 L223.0,298.5 L224.0,298.7 L225.0,299.3 L226.0,299.3 L227.0,299.8 L228.0,299.3 L229.0,299.7 L230.0,299.1 L231.0,300.4 L232.0,300.8 L233.0,300.9 L234.0,301.0 L235.0,301.3 L236.0,301.8 L237.0,301.9 L238.0,301.5 L239.0,302.3 L240.0,301.9 L241.0,302.5 L242.0,302.8 L243.0,303.3 L244.0,303.4 L245.0,303.9 L246.0,303.9 L247.0,304.1 L248.0,305.4 L249.0,305.7 L250.0,306.0 L251.0,306.4 L252.0,306.1 L253.0,307.0 L254.0,306.8 L255.0,307.6 L256.0,307.9 L257.0,308.4 L258.0,309.0 L259.0,308.9 L260.0,309.0 L261.0,310.1 L262.0,310.7 L263.0,310.9 L264.0,311.0 L265.0,310.3 L266.0,311.2 L267.0,311.4 L268.0,311.1 L269.0,312.2 L270.0,312.6 L271.0,312.2 L272.0,312.8 L273.0,313.7 L274.0,314.4 L275.0,314.7 L276.0,314.2 L277.0,314.4 L278.0,315.1 L279.0,315.6 L280.0,315.8 L281.0,316.4 L282.0,317.2 L283.0,317.5 L284.0,317.5 L285.0,317.2 L286.0,317.9 L287.0,318.8 L288.0,319.4 L289.0,319.6 L290.0,319.1 L291.0,319.4 L292.0,319.3 L293.0,318.9 L294.0,319.9 L295.0,320.4 L296.0,322.1 L297.0,322.2 L298.0,322.0 L299.0,322.6 L300.0,323.3 L301.0,324.2 L302.0,324.3 L303.0,324.8 L304.0,324.9 L305.0,325.5 L306.0,325.9 L307.0,326.0 L308.0,325.9 L309.0,326.5 L310.0,326.5 L311.0,327.3 L312.0,327.0 L313.0,327.2 L314.0,328.5 L315.0,328.1 L316.0,328.3 L317.0,328.1 L318.0,328.5 L319.0,329.0 L320.0,329.2 L321.0,330.3 L322.0,329.9 L323.0,330.0 L324.0,331.3 L325.0,331.3 L326.0,330.3 L327.0,331.3 L328.0,332.3 L329.0,332.0 L330.0,332.3 L331.0,332.5 L332.0,331.9 L333.0,332.8 L334.0,334.1 L335.0,334.7 L336.0,334.3 L337.0,334.5 L338.0,335.0 L339.0,335.2 L340.0,335.5 L341.0,335.2 L342.0,335.8 L343.0,336.4 L344.0,336.5 L345.0,336.0 L346.0,337.1 L347.0,337.2 L348.0,337.2 L349.0,336.8 L350.0,337.5 L351.0,337.1 L352.0,336.9 L353.0,338.3 L354.0,338.8 L355.0,339.0 L356.0,339.3 L357.0,339.6 L358.0,340.3 L359.0,340.6 L360.0,341.3 L361.0,341.8 L362.0,341.3 L363.0,341.5 L364.0,342.0 L365.0,341.0 L366.0,341.3 L367.0,341.6 L368.0,341.3 L369.0,342.6 L370.0,343.0 L371.0,342.0 L372.0,342.3 L373.0,343.4 L374.0,343.6 L375.0,342.6 L376.0,343.5 L377.0,343.3 L378.0,342.8 L379.0,343.4 L380.0,343.7 L381.0,344.1 L382.0,344.3 L383.0,344.3 L384.0,344.5 L385.0,344.7 L386.0,345.2 L387.0,345.6 L388.0,345.6 L389.0,344.8 L390.0,344.8 L391.0,345.2 L392.0,345.7 L393.0,345.8 L394.0,345.7 L395.0,345.8 L396.0,345.9 L397.0,346.0 L398.0,346.0 L399.0,346.2 L400.0,346.3 L401.0,346.2 L402.0,346.3 L403.0,346.2 L404.0,346.3 L405.0,346.4 L406.0,346.3 L407.0,346.5 L408.0,346.4 L409.0,346.4 L410.0,346.4 L411.0,346.5 L412.0,346.4 L413.0,346.5 L414.0,346.4 L415.0,346.5 L416.0,346.5 L417.0,346.5 L418.0,346.6 L419.0,346.5 L420.0,346.6 L421.0,346.6 L422.0,346.5 L423.0,346.5 L424.0,346.5 L425.0,346.6 L426.0,346.6 L427.0,346.7 L428.0,346.6 L429.0,346.5 L430.0,346.5 L431.0,346.6 L432.0,346.6 L433.0,346.6 L434.0,346.4 L435.0,346.5 L436.0,346.4 L437.0,346.4 L438.0,346.4 L439.0,346.5 L440.0,346.6 L441.0,346.5 L442.0,346.5 L443.0,346.5 L444.0,346.6 L445.0,346.4 L446.0,346.6 L447.0,346.5 L448.0,346.4 L449.0,346.5 L450.0,346.6 L451.0,346.7 L452.0,346.6 L453.0,346.5 L454.0,346.5 L455.0,346.4 L456.0,346.5 L457.0,346.6 L458.0,346.5 L459.0,346.5 L460.0,346.4 L461.0,346.4 L462.0,346.4 L463.0,346.4 L464.0,346.4 L465.0,346.5 L466.0,346.4 L467.0,346.5 L468.0,346.6 L469.0,346.6 L470.0,346.6 L471.0,346.4 L472.0,346.4 L473.0,346.5 L474.0,346.4 L475.0,346.4 L476.0,346.5 L477.0,346.5 L478.0,346.5 L479.0,346.4 L480.0,346.4 L481.0,346.5 L482.0,346.4 L483.0,346.5 L484.0,346.5 L485.0,346.5 L486.0,346.5 L487.0,346.5 L488.0,346.5 L489.0,346.4 L490.0,346.4 L491.0,346.6 L492.0,346.5 L493.0,346.3 L494.0,346.6 L495.0,346.5 L496.0,346.7 L497.0,346.7 L498.0,346.6 L499.0,346.5 L500.0,346.5 L501.0,346.5 L502.0,346.5 L503.0,346.6 L504.0,346.5 L505.0,346.4 L506.0,346.4 L507.0,346.5 L508.0,346.5 L509.0,346.5 L510.0,346.5 L511.0,346.6 L512.0,346.5 L513.0,346.5 L514.0,346.4 L515.0,346.6 L516.0,346.6 L517.0,346.6 L518.0,346.5 L519.0,346.4 L520.0,346.5 L520.4,346.6" stroke="#70AD47"/><path d="M71.9,346.6 L75.9,346.6 L79.9,346.6 L83.9,346.6 L87.9,346.6 L89.0,346.6 L89.2,346.6 L89.4,346.1 L89.6,344.7 L89.8,342.6 L90.0,340.1 L90.2,337.4 L90.4,334.5 L90.6,330.5 L90.8,325.8 L91.0,320.5 L91.2,315.0 L91.4,308.2 L91.6,300.3 L91.8,293.9 L92.0,290.8 L92.2,289.1 L92.4,287.7 L92.6,286.3 L92.8,284.8 L93.0,283.4 L93.2,282.1 L93.4,281.0 L93.6,280.0 L93.8,279.2 L94.0,278.5 L94.2,277.8 L94.4,277.2 L94.6,276.7 L94.8,276.3 L95.0,275.9 L95.2,275.5 L95.4,275.2 L95.6,274.9 L95.8,274.7 L96.0,274.5 L96.2,274.4 L96.4,274.2 L96.6,274.1 L96.8,274.0 L97.0,273.9 L97.2,273.9 L97.4,273.8 L97.6,273.8 L97.8,273.8 L98.0,273.8 L98.2,273.9 L98.4,273.9 L98.6,274.0 L98.8,274.0 L99.0,274.1 L99.2,274.1 L99.4,274.2 L99.6,274.2 L99.8,274.3 L100.0,273.7 L101.0,274.0 L102.0,274.9 L103.0,275.5 L104.0,274.9 L105.0,274.9 L106.0,276.1 L107.0,276.5 L108.0,276.8 L109.0,277.8 L110.0,278.3 L111.0,278.0 L112.0,278.4 L113.0,279.2 L114.0,279.1 L115.0,279.1 L116.0,280.0 L117.0,280.2 L118.0,281.0 L119.0,281.2 L120.0,281.7 L121.0,282.4 L122.0,282.5 L123.0,282.6 L124.0,283.0 L125.0,284.5 L126.0,284.5 L127.0,283.5 L128.0,283.7 L129.0,284.5 L130.0,284.2 L131.0,284.6 L132.0,285.0 L133.0,284.8 L134.0,284.7 L135.0,284.6 L136.0,284.8 L137.0,285.3 L138.0,286.0 L139.0,285.7 L140.0,285.2 L141.0,285.6 L142.0,285.2 L143.0,284.5 L144.0,285.2 L145.0,285.7 L146.0,285.3 L147.0,285.7 L148.0,285.4 L149.0,285.3 L150.0,285.1 L151.0,286.4 L152.0,286.1 L153.0,286.1 L154.0,285.4 L155.0,285.0 L156.0,286.0 L157.0,285.6 L158.0,286.4 L159.0,286.0 L160.0,286.4 L161.0,285.4 L162.0,285.0 L163.0,286.0 L164.0,285.9 L165.0,286.0 L166.0,286.3 L167.0,285.5 L168.0,285.1 L169.0,285.1 L170.0,284.9 L171.0,284.9 L172.0,285.2 L173.0,285.4 L174.0,285.7 L175.0,285.5 L176.0,286.0 L177.0,286.5 L178.0,286.2 L179.0,286.2 L180.0,285.8 L181.0,286.3 L182.0,286.4 L183.0,285.8 L184.0,285.4 L185.0,286.0 L186.0,286.3 L187.0,286.9 L188.0,286.4 L189.0,286.7 L190.0,285.3 L191.0,285.8 L192.0,286.0 L193.0,286.0 L194.0,286.0 L195.0,286.4 L196.0,287.1 L197.0,286.6 L198.0,286.9 L199.0,286.5 L200.0,286.3 L201.0,285.4 L202.0,286.4 L203.0,286.8 L204.0,286.1 L205.0,286.2 L206.0,286.5 L207.0,287.6 L208.0,286.5 L209.0,286.2 L210.0,285.5 L211.0,286.1 L212.0,286.9 L213.0,286.3 L214.0,285.8 L215.0,287.0 L216.0,287.5 L217.0,287.7 L218.0,287.8 L219.0,287.8 L220.0,289.1 L221.0,288.2 L222.0,288.3 L223.0,287.8 L224.0,288.0 L225.0,288.0 L226.0,288.9 L227.0,288.9 L228.0,288.7 L229.0,288.6 L230.0,289.9 L231.0,290.5 L232.0,290.7 L233.0,290.6 L234.0,291.1 L235.0,291.5 L236.0,291.7 L237.0,292.2 L238.0,291.9 L239.0,292.1 L240.0,292.0 L241.0,293.6 L242.0,293.0 L243.0,293.6 L244.0,294.1 L245.0,293.9 L246.0,294.6 L247.0,295.3 L248.0,295.4 L249.0,295.6 L250.0,295.9 L251.0,296.1 L252.0,296.8 L253.0,297.5 L254.0,298.0 L255.0,298.6 L256.0,298.5 L257.0,298.6 L258.0,299.4 L259.0,299.8 L260.0,300.2 L261.0,300.3 L262.0,300.7 L263.0,301.0 L264.0,301.2 L265.0,300.9 L266.0,301.4 L267.0,302.1 L268.0,302.9 L269.0,302.6 L270.0,302.9 L271.0,302.7 L272.0,302.4 L273.0,304.0 L274.0,304.4 L275.0,304.6 L276.0,303.9 L277.0,304.7 L278.0,304.9 L279.0,304.5 L280.0,305.5 L281.0,305.6 L282.0,306.1 L283.0,305.5 L284.0,306.0 L285.0,306.4 L286.0,306.4 L287.0,307.5 L288.0,308.4 L289.0,308.3 L290.0,308.9 L291.0,309.6 L292.0,309.4 L293.0,309.1 L294.0,308.8 L295.0,310.0 L296.0,310.2 L297.0,310.5 L298.0,311.4 L299.0,311.5 L300.0,311.0 L301.0,311.9 L302.0,312.3 L303.0,313.1 L304.0,313.2 L305.0,313.7 L306.0,313.5 L307.0,313.7 L308.0,314.1 L309.0,314.6 L310.0,315.1 L311.0,315.8 L312.0,315.4 L313.0,315.9 L314.0,315.8 L315.0,315.9 L316.0,316.5 L317.0,316.7 L318.0,317.6 L319.0,317.7 L320.0,318.2 L321.0,319.1 L322.0,319.8 L323.0,319.1 L324.0,318.8 L325.0,319.7 L326.0,320.5 L327.0,321.3 L328.0,321.1 L329.0,321.1 L330.0,322.2 L331.0,322.7 L332.0,322.5 L333.0,322.9 L334.0,323.6 L335.0,324.6 L336.0,323.7 L337.0,323.8 L338.0,324.4 L339.0,325.1 L340.0,325.1 L341.0,325.7 L342.0,326.4 L343.0,327.1 L344.0,326.5 L345.0,326.5 L346.0,326.7 L347.0,326.3 L348.0,326.9 L349.0,327.9 L350.0,328.6 L351.0,329.9 L352.0,329.8 L353.0,329.8 L354.0,330.2 L355.0,329.6 L356.0,329.7 L357.0,330.0 L358.0,330.8 L359.0,332.0 L360.0,331.4 L361.0,331.4 L362.0,332.1 L363.0,332.8 L364.0,333.0 L365.0,333.3 L366.0,332.7 L367.0,333.0 L368.0,333.6 L369.0,334.3 L370.0,334.9 L371.0,334.3 L372.0,335.1 L373.0,335.3 L374.0,335.7 L375.0,335.4 L376.0,335.4 L377.0,336.7 L378.0,336.6 L379.0,335.9 L380.0,337.0 L381.0,336.8 L382.0,337.3 L383.0,337.5 L384.0,337.4 L385.0,338.4 L386.0,338.4 L387.0,339.3 L388.0,339.2 L389.0,339.3 L390.0,339.6 L391.0,340.2 L392.0,339.2 L393.0,339.3 L394.0,339.7 L395.0,340.8 L396.0,341.0 L397.0,340.7 L398.0,340.7 L399.0,340.3 L400.0,341.6 L401.0,341.3 L402.0,341.4 L403.0,341.5 L404.0,342.0 L405.0,341.9 L406.0,342.1 L407.0,342.2 L408.0,342.0 L409.0,342.2 L410.0,342.8 L411.0,343.0 L412.0,343.4 L413.0,343.6 L414.0,342.4 L415.0,342.1 L416.0,343.0 L417.0,343.9 L418.0,343.4 L419.0,342.9 L420.0,344.3 L421.0,344.1 L422.0,343.2 L423.0,343.5 L424.0,344.0 L425.0,343.9 L426.0,344.2 L427.0,344.6 L428.0,344.6 L429.0,345.2 L430.0,344.8 L431.0,345.3 L432.0,344.5 L433.0,344.0 L434.0,343.7 L435.0,344.4 L436.0,345.1 L437.0,345.2 L438.0,343.6 L439.0,344.8 L440.0,344.9 L441.0,345.5 L442.0,345.3 L443.0,345.7 L444.0,345.7 L445.0,345.6 L446.0,345.7 L447.0,345.8 L448.0,345.8 L449.0,345.8 L450.0,345.8 L451.0,345.9 L452.0,345.9 L453.0,346.0 L454.0,346.1 L455.0,346.2 L456.0,346.3 L457.0,346.2 L458.0,346.3 L459.0,346.3 L460.0,346.2 L461.0,346.4 L462.0,346.4 L463.0,346.5 L464.0,346.4 L465.0,346.4 L466.0,346.4 L467.0,346.5 L468.0,346.6 L469.0,346.5 L470.0,346.4 L471.0,346.4 L472.0,346.4 L473.0,346.4 L474.0,346.4 L475.0,346.4 L476.0,346.5 L477.0,346.5 L478.0,346.5 L479.0,346.5 L480.0,346.5 L481.0,346.6 L482.0,346.5 L483.0,346.4 L484.0,346.4 L485.0,346.4 L486.0,346.4 L487.0,346.6 L488.0,346.4 L489.0,346.5 L490.0,346.4 L491.0,346.5 L492.0,346.4 L493.0,346.3 L494.0,346.5 L495.0,346.5 L496.0,346.4 L497.0,346.5 L498.0,346.4 L499.0,346.6 L500.0,346.6 L501.0,346.6 L502.0,346.5 L503.0,346.5 L504.0,346.5 L505.0,346.5 L506.0,346.5 L507.0,346.5 L508.0,346.4 L509.0,346.5 L510.0,346.6 L511.0,346.6 L512.0,346.5 L513.0,346.5 L514.0,346.6 L515.0,346.5 L516.0,346.3 L517.0,346.5 L518.0,346.6 L519.0,346.5 L520.0,346.4 L520.4,346.4" stroke="#264478"/><path d="M71.9,346.6 L75.9,346.6 L79.9,346.6 L83.9,346.6 L87.9,346.6 L89.0,346.6 L89.2,346.6 L89.4,346.1 L89.6,344.7 L89.8,342.6 L90.0,340.1 L90.2,337.4 L90.4,334.5 L90.6,330.5 L90.8,325.8 L91.0,320.5 L91.2,315.0 L91.4,308.3 L91.6,300.5 L91.8,294.1 L92.0,290.6 L92.2,288.4 L92.4,286.7 L92.6,285.0 L92.8,283.0 L93.0,281.0 L93.2,279.0 L93.4,277.3 L93.6,276.0 L93.8,275.0 L94.0,274.1 L94.2,273.2 L94.4,272.5 L94.6,272.0 L94.8,271.5 L95.0,271.1 L95.2,270.8 L95.4,270.4 L95.6,270.2 L95.8,269.9 L96.0,269.7 L96.2,269.6 L96.4,269.5 L96.6,269.4 L96.8,269.3 L97.0,269.2 L97.2,269.1 L97.4,269.1 L97.6,269.0 L97.8,269.0 L98.0,269.0 L98.2,269.0 L98.4,269.0 L98.6,269.0 L98.8,269.0 L99.0,269.0 L99.2,269.0 L99.4,269.0 L99.6,269.1 L99.8,269.1 L100.0,269.1 L101.0,269.6 L102.0,269.7 L103.0,270.1 L104.0,270.5 L105.0,270.3 L106.0,271.0 L107.0,271.0 L108.0,271.3 L109.0,271.2 L110.0,272.0 L111.0,272.0 L112.0,271.8 L113.0,272.4 L114.0,273.0 L115.0,273.2 L116.0,272.1 L117.0,273.1 L118.0,273.3 L119.0,273.0 L120.0,272.9 L121.0,273.8 L122.0,273.2 L123.0,274.0 L124.0,274.4 L125.0,273.3 L126.0,273.6 L127.0,273.5 L128.0,274.3 L129.0,275.2 L130.0,275.2 L131.0,273.6 L132.0,273.9 L133.0,274.8 L134.0,275.2 L135.0,274.7 L136.0,274.2 L137.0,274.5 L138.0,274.5 L139.0,274.3 L140.0,274.2 L141.0,274.7 L142.0,274.7 L143.0,274.5 L144.0,274.3 L145.0,273.9 L146.0,274.4 L147.0,275.1 L148.0,274.5 L149.0,274.1 L150.0,275.2 L151.0,275.3 L152.0,275.7 L153.0,274.9 L154.0,274.4 L155.0,274.1 L156.0,275.5 L157.0,276.0 L158.0,274.6 L159.0,274.4 L160.0,274.9 L161.0,274.4 L162.0,274.6 L163.0,274.6 L164.0,275.0 L165.0,275.4 L166.0,275.1 L167.0,275.3 L168.0,274.8 L169.0,274.8 L170.0,273.8 L171.0,274.1 L172.0,275.1 L173.0,274.8 L174.0,275.2 L175.0,275.4 L176.0,275.7 L177.0,275.6 L178.0,275.5 L179.0,275.0 L180.0,274.6 L181.0,274.6 L182.0,274.6 L183.0,274.4 L184.0,274.7 L185.0,275.0 L186.0,275.1 L187.0,274.7 L188.0,274.1 L189.0,274.9 L190.0,275.3 L191.0,275.7 L192.0,275.5 L193.0,274.8 L194.0,275.0 L195.0,276.1 L196.0,276.0 L197.0,276.4 L198.0,276.4 L199.0,275.1 L200.0,275.4 L201.0,275.6 L202.0,275.7 L203.0,275.8 L204.0,275.7 L205.0,275.6 L206.0,275.0 L207.0,275.5 L208.0,275.6 L209.0,276.0 L210.0,276.0 L211.0,276.6 L212.0,276.9 L213.0,276.8 L214.0,276.9 L215.0,276.8 L216.0,276.7 L217.0,276.9 L218.0,277.0 L219.0,277.5 L220.0,277.7 L221.0,277.9 L222.0,277.4 L223.0,278.3 L224.0,277.9 L225.0,278.0 L226.0,278.4 L227.0,278.6 L228.0,279.1 L229.0,278.9 L230.0,278.9 L231.0,279.3 L232.0,280.5 L233.0,280.2 L234.0,279.8 L235.0,280.3 L236.0,280.3 L237.0,281.6 L238.0,280.8 L239.0,281.7 L240.0,282.0 L241.0,281.5 L242.0,282.4 L243.0,283.1 L244.0,283.2 L245.0,283.4 L246.0,283.9 L247.0,283.9 L248.0,284.1 L249.0,284.3 L250.0,284.7 L251.0,284.5 L252.0,285.3 L253.0,285.1 L254.0,285.2 L255.0,286.2 L256.0,287.2 L257.0,287.2 L258.0,286.8 L259.0,287.4 L260.0,287.3 L261.0,287.7 L262.0,287.9 L263.0,287.4 L264.0,288.5 L265.0,288.6 L266.0,288.9 L267.0,288.9 L268.0,289.2 L269.0,290.0 L270.0,291.4 L271.0,292.2 L272.0,291.9 L273.0,292.5 L274.0,292.2 L275.0,291.9 L276.0,293.1 L277.0,293.7 L278.0,293.8 L279.0,294.5 L280.0,294.9 L281.0,294.6 L282.0,294.7 L283.0,295.6 L284.0,296.1 L285.0,296.6 L286.0,297.6 L287.0,298.3 L288.0,297.8 L289.0,298.5 L290.0,299.1 L291.0,299.4 L292.0,299.8 L293.0,299.6 L294.0,300.5 L295.0,301.4 L296.0,301.2 L297.0,300.9 L298.0,301.8 L299.0,302.5 L300.0,302.4 L301.0,302.4 L302.0,303.4 L303.0,302.8 L304.0,303.7 L305.0,303.9 L306.0,303.9 L307.0,305.2 L308.0,305.2 L309.0,304.9 L310.0,305.9 L311.0,305.8 L312.0,305.5 L313.0,306.3 L314.0,307.3 L315.0,307.9 L316.0,308.0 L317.0,308.3 L318.0,308.8 L319.0,309.0 L320.0,309.8 L321.0,309.9 L322.0,310.2 L323.0,310.5 L324.0,310.2 L325.0,310.7 L326.0,312.1 L327.0,312.0 L328.0,312.0 L329.0,312.5 L330.0,312.6 L331.0,313.1 L332.0,313.2 L333.0,313.7 L334.0,313.5 L335.0,314.9 L336.0,314.5 L337.0,314.3 L338.0,315.2 L339.0,315.6 L340.0,316.0 L341.0,316.0 L342.0,317.2 L343.0,318.8 L344.0,317.3 L345.0,317.8 L346.0,318.1 L347.0,318.4 L348.0,317.9 L349.0,318.5 L350.0,319.6 L351.0,320.0 L352.0,320.9 L353.0,320.4 L354.0,321.2 L355.0,322.5 L356.0,321.4 L357.0,321.4 L358.0,322.1 L359.0,322.6 L360.0,323.3 L361.0,323.4 L362.0,323.4 L363.0,324.3 L364.0,325.8 L365.0,325.4 L366.0,324.0 L367.0,325.1 L368.0,325.6 L369.0,326.5 L370.0,326.8 L371.0,328.0 L372.0,328.1 L373.0,328.3 L374.0,328.3 L375.0,328.5 L376.0,329.1 L377.0,329.9 L378.0,329.9 L379.0,329.9 L380.0,330.9 L381.0,330.8 L382.0,330.9 L383.0,330.9 L384.0,331.3 L385.0,331.4 L386.0,331.1 L387.0,333.0 L388.0,333.4 L389.0,333.5 L390.0,334.3 L391.0,334.4 L392.0,334.3 L393.0,333.5 L394.0,334.7 L395.0,335.7 L396.0,336.6 L397.0,337.1 L398.0,336.9 L399.0,335.9 L400.0,335.7 L401.0,337.1 L402.0,337.5 L403.0,338.1 L404.0,338.0 L405.0,338.1 L406.0,337.8 L407.0,338.7 L408.0,338.9 L409.0,339.4 L410.0,339.7 L411.0,339.8 L412.0,340.1 L413.0,340.4 L414.0,340.9 L415.0,341.0 L416.0,340.7 L417.0,341.1 L418.0,342.3 L419.0,342.0 L420.0,342.5 L421.0,342.5 L422.0,342.2 L423.0,342.3 L424.0,343.0 L425.0,343.4 L426.0,343.6 L427.0,342.9 L428.0,343.3 L429.0,343.9 L430.0,344.5 L431.0,343.2 L432.0,344.1 L433.0,344.2 L434.0,344.5 L435.0,344.4 L436.0,344.9 L437.0,345.5 L438.0,345.2 L439.0,345.1 L440.0,345.0 L441.0,344.8 L442.0,345.3 L443.0,345.1 L444.0,344.9 L445.0,345.3 L446.0,345.6 L447.0,345.7 L448.0,345.8 L449.0,345.9 L450.0,346.1 L451.0,346.2 L452.0,346.3 L453.0,346.3 L454.0,346.3 L455.0,346.3 L456.0,346.4 L457.0,346.5 L458.0,346.5 L459.0,346.4 L460.0,346.5 L461.0,346.4 L462.0,346.5 L463.0,346.4 L464.0,346.4 L465.0,346.5 L466.0,346.5 L467.0,346.4 L468.0,346.6 L469.0,346.6 L470.0,346.5 L471.0,346.6 L472.0,346.5 L473.0,346.5 L474.0,346.5 L475.0,346.4 L476.0,346.6 L477.0,346.5 L478.0,346.5 L479.0,346.4 L480.0,346.4 L481.0,346.5 L482.0,346.5 L483.0,346.4 L484.0,346.4 L485.0,346.5 L486.0,346.6 L487.0,346.6 L488.0,346.5 L489.0,346.4 L490.0,346.5 L491.0,346.5 L492.0,346.5 L493.0,346.6 L494.0,346.6 L495.0,346.5 L496.0,346.5 L497.0,346.5 L498.0,346.4 L499.0,346.5 L500.0,346.5 L501.0,346.7 L502.0,346.6 L503.0,346.5 L504.0,346.5 L505.0,346.3 L506.0,346.5 L507.0,346.6 L508.0,346.5 L509.0,346.5 L510.0,346.5 L511.0,346.4 L512.0,346.6 L513.0,346.6 L514.0,346.5 L515.0,346.5 L516.0,346.5 L517.0,346.4 L518.0,346.5 L519.0,346.6 L520.0,346.4 L520.4,346.6" stroke="#9E480E"/><path d="M71.9,346.6 L75.9,346.6 L79.9,346.6 L83.9,346.6 L87.9,346.6 L89.0,346.6 L89.2,346.6 L89.4,346.1 L89.6,344.7 L89.8,342.6 L90.0,340.1 L90.2,337.4 L90.4,334.5 L90.6,330.5 L90.8,325.8 L91.0,320.5 L91.2,315.0 L91.4,308.3 L91.6,300.6 L91.8,294.1 L92.0,290.5 L92.2,287.9 L92.4,285.7 L92.6,283.9 L92.8,282.3 L93.0,280.8 L93.2,279.2 L93.4,277.6 L93.6,276.1 L93.8,274.8 L94.0,273.5 L94.2,272.5 L94.4,271.6 L94.6,270.8 L94.8,270.1 L95.0,269.4 L95.2,268.8 L95.4,268.3 L95.6,267.8 L95.8,267.4 L96.0,267.0 L96.2,266.7 L96.4,266.3 L96.6,266.0 L96.8,265.8 L97.0,265.5 L97.2,265.3 L97.4,265.1 L97.6,264.9 L97.8,264.7 L98.0,264.5 L98.2,264.4 L98.4,264.2 L98.6,264.1 L98.8,263.9 L99.0,263.8 L99.2,263.7 L99.4,263.6 L99.6,263.6 L99.8,263.5 L100.0,263.8 L101.0,263.4 L102.0,263.5 L103.0,262.9 L104.0,262.7 L105.0,263.2 L106.0,264.0 L107.0,264.1 L108.0,263.3 L109.0,263.2 L110.0,264.0 L111.0,264.3 L112.0,264.5 L113.0,264.9 L114.0,265.2 L115.0,264.8 L116.0,264.7 L117.0,263.9 L118.0,263.8 L119.0,264.5 L120.0,264.9 L121.0,264.9 L122.0,264.9 L123.0,264.9 L124.0,264.7 L125.0,263.6 L126.0,263.9 L127.0,264.6 L128.0,264.6 L129.0,263.9 L130.0,264.8 L131.0,264.3 L132.0,264.3 L133.0,264.6 L134.0,264.6 L135.0,263.9 L136.0,264.7 L137.0,264.5 L138.0,264.0 L139.0,264.0 L140.0,263.3 L141.0,263.9 L142.0,264.3 L143.0,264.1 L144.0,264.2 L145.0,264.3 L146.0,264.5 L147.0,264.9 L148.0,264.5 L149.0,264.3 L150.0,264.8 L151.0,265.4 L152.0,264.5 L153.0,264.4 L154.0,263.8 L155.0,264.9 L156.0,265.0 L157.0,265.1 L158.0,264.4 L159.0,264.0 L160.0,264.8 L161.0,264.8 L162.0,263.9 L163.0,263.7 L164.0,264.4 L165.0,264.6 L166.0,265.6 L167.0,264.3 L168.0,264.1 L169.0,264.1 L170.0,263.5 L171.0,264.0 L172.0,265.1 L173.0,264.4 L174.0,264.0 L175.0,263.8 L176.0,264.6 L177.0,264.8 L178.0,264.6 L179.0,264.3 L180.0,264.6 L181.0,264.6 L182.0,264.3 L183.0,264.5 L184.0,263.5 L185.0,263.7 L186.0,264.3 L187.0,264.4 L188.0,264.1 L189.0,264.8 L190.0,265.2 L191.0,265.0 L192.0,264.9 L193.0,265.2 L194.0,264.9 L195.0,264.2 L196.0,264.7 L197.0,265.3 L198.0,264.4 L199.0,264.7 L200.0,264.6 L201.0,264.4 L202.0,264.4 L203.0,265.0 L204.0,265.3 L205.0,265.2 L206.0,264.6 L207.0,265.1 L208.0,265.7 L209.0,266.1 L210.0,266.2 L211.0,266.4 L212.0,266.6 L213.0,266.5 L214.0,265.9 L215.0,266.2 L216.0,265.9 L217.0,265.2 L218.0,265.9 L219.0,267.6 L220.0,266.5 L221.0,266.0 L222.0,267.0 L223.0,268.2 L224.0,267.9 L225.0,268.1 L226.0,268.1 L227.0,268.4 L228.0,269.3 L229.0,269.3 L230.0,269.1 L231.0,269.7 L232.0,270.0 L233.0,269.7 L234.0,270.0 L235.0,270.2 L236.0,270.2 L237.0,271.0 L238.0,270.8 L239.0,270.6 L240.0,270.4 L241.0,271.0 L242.0,272.3 L243.0,271.8 L244.0,272.4 L245.0,272.6 L246.0,273.2 L247.0,273.5 L248.0,273.1 L249.0,273.6 L250.0,274.1 L251.0,274.4 L252.0,274.6 L253.0,274.8 L254.0,275.6 L255.0,276.2 L256.0,276.1 L257.0,275.8 L258.0,276.5 L259.0,276.8 L260.0,277.4 L261.0,278.2 L262.0,277.7 L263.0,277.8 L264.0,277.8 L265.0,278.3 L266.0,278.8 L267.0,280.0 L268.0,279.8 L269.0,279.9 L270.0,281.0 L271.0,280.3 L272.0,281.4 L273.0,282.0 L274.0,282.1 L275.0,282.0 L276.0,282.3 L277.0,282.7 L278.0,283.3 L279.0,282.5 L280.0,283.4 L281.0,284.2 L282.0,284.2 L283.0,284.1 L284.0,285.0 L285.0,285.4 L286.0,286.5 L287.0,287.2 L288.0,286.8 L289.0,286.2 L290.0,287.1 L291.0,287.5 L292.0,288.6 L293.0,289.4 L294.0,289.4 L295.0,290.4 L296.0,290.6 L297.0,290.3 L298.0,289.9 L299.0,290.5 L300.0,290.4 L301.0,291.7 L302.0,292.0 L303.0,292.7 L304.0,292.5 L305.0,291.9 L306.0,293.3 L307.0,294.1 L308.0,294.5 L309.0,293.7 L310.0,293.9 L311.0,294.6 L312.0,294.5 L313.0,294.6 L314.0,295.4 L315.0,297.2 L316.0,296.4 L317.0,296.2 L318.0,296.9 L319.0,297.6 L320.0,298.6 L321.0,298.9 L322.0,299.0 L323.0,299.0 L324.0,299.3 L325.0,299.2 L326.0,299.4 L327.0,301.1 L328.0,300.8 L329.0,301.4 L330.0,301.3 L331.0,301.7 L332.0,301.9 L333.0,301.8 L334.0,302.7 L335.0,303.4 L336.0,304.0 L337.0,304.3 L338.0,304.8 L339.0,304.8 L340.0,304.8 L341.0,304.3 L342.0,305.4 L343.0,306.7 L344.0,306.7 L345.0,307.1 L346.0,307.0 L347.0,307.3 L348.0,308.8 L349.0,308.7 L350.0,309.4 L351.0,309.3 L352.0,309.0 L353.0,308.6 L354.0,309.7 L355.0,309.4 L356.0,309.7 L357.0,311.6 L358.0,312.0 L359.0,312.2 L360.0,312.3 L361.0,312.7 L362.0,313.3 L363.0,313.6 L364.0,314.0 L365.0,314.4 L366.0,313.7 L367.0,315.2 L368.0,315.4 L369.0,316.3 L370.0,316.8 L371.0,316.5 L372.0,317.5 L373.0,317.9 L374.0,317.6 L375.0,318.0 L376.0,318.5 L377.0,318.0 L378.0,319.1 L379.0,319.9 L380.0,319.9 L381.0,319.8 L382.0,320.9 L383.0,322.3 L384.0,322.6 L385.0,322.3 L386.0,322.3 L387.0,323.0 L388.0,323.4 L389.0,323.5 L390.0,324.1 L391.0,325.0 L392.0,325.3 L393.0,324.4 L394.0,326.0 L395.0,326.4 L396.0,327.0 L397.0,327.0 L398.0,327.6 L399.0,328.1 L400.0,326.9 L401.0,328.8 L402.0,328.7 L403.0,327.9 L404.0,328.0 L405.0,329.5 L406.0,329.7 L407.0,330.8 L408.0,331.0 L409.0,331.2 L410.0,332.0 L411.0,332.1 L412.0,332.7 L413.0,333.1 L414.0,333.3 L415.0,333.8 L416.0,334.0 L417.0,333.5 L418.0,334.1 L419.0,334.7 L420.0,334.8 L421.0,334.7 L422.0,335.5 L423.0,336.4 L424.0,336.9 L425.0,337.7 L426.0,337.1 L427.0,337.3 L428.0,337.5 L429.0,337.9 L430.0,337.9 L431.0,337.8 L432.0,339.0 L433.0,339.8 L434.0,339.9 L435.0,339.2 L436.0,339.8 L437.0,340.9 L438.0,340.4 L439.0,340.5 L440.0,340.6 L441.0,341.3 L442.0,341.7 L443.0,342.4 L444.0,341.8 L445.0,341.6 L446.0,341.1 L447.0,341.5 L448.0,341.6 L449.0,341.8 L450.0,341.8 L451.0,342.9 L452.0,342.3 L453.0,342.7 L454.0,342.5 L455.0,343.4 L456.0,344.0 L457.0,343.3 L458.0,343.7 L459.0,343.8 L460.0,344.0 L461.0,344.2 L462.0,343.8 L463.0,344.0 L464.0,344.0 L465.0,343.9 L466.0,344.0 L467.0,344.9 L468.0,344.6 L469.0,345.2 L470.0,345.2 L471.0,344.8 L472.0,345.5 L473.0,345.1 L474.0,345.8 L475.0,345.6 L476.0,345.6 L477.0,345.6 L478.0,345.8 L479.0,346.0 L480.0,346.0 L481.0,346.0 L482.0,346.2 L483.0,346.2 L484.0,346.3 L485.0,346.3 L486.0,346.2 L487.0,346.3 L488.0,346.4 L489.0,346.3 L490.0,346.4 L491.0,346.4 L492.0,346.6 L493.0,346.6 L494.0,346.5 L495.0,346.4 L496.0,346.4 L497.0,346.5 L498.0,346.6 L499.0,346.6 L500.0,346.5 L501.0,346.5 L502.0,346.5 L503.0,346.4 L504.0,346.4 L505.0,346.5 L506.0,346.4 L507.0,346.5 L508.0,346.6 L509.0,346.5 L510.0,346.5 L511.0,346.4 L512.0,346.5 L513.0,346.5 L514.0,346.5 L515.0,346.5 L516.0,346.5 L517.0,346.6 L518.0,346.6 L519.0,346.5 L520.0,346.5 L520.4,346.5" stroke="#636363"/><path d="M71.9,346.6 L75.9,346.6 L79.9,346.6 L83.9,346.6 L87.9,346.6 L89.0,346.6 L89.2,346.6 L89.4,346.1 L89.6,344.7 L89.8,342.6 L90.0,340.1 L90.2,337.4 L90.4,334.5 L90.6,330.5 L90.8,325.8 L91.0,320.5 L91.2,315.0 L91.4,308.3 L91.6,300.7 L91.8,294.2 L92.0,290.4 L92.2,287.6 L92.4,285.2 L92.6,283.2 L92.8,281.4 L93.0,279.7 L93.2,278.0 L93.4,276.2 L93.6,274.5 L93.8,272.9 L94.0,271.3 L94.2,269.9 L94.4,268.6 L94.6,267.4 L94.8,266.3 L95.0,265.3 L95.2,264.3 L95.4,263.5 L95.6,262.7 L95.8,262.1 L96.0,261.6 L96.2,261.1 L96.4,260.8 L96.6,260.4 L96.8,260.1 L97.0,259.8 L97.2,259.6 L97.4,259.4 L97.6,259.2 L97.8,259.0 L98.0,258.9 L98.2,258.7 L98.4,258.6 L98.6,258.4 L98.8,258.3 L99.0,258.2 L99.2,258.1 L99.4,258.0 L99.6,257.9 L99.8,257.8 L100.0,257.5 L101.0,257.5 L102.0,256.6 L103.0,256.3 L104.0,256.7 L105.0,256.8 L106.0,256.0 L107.0,254.4 L108.0,254.7 L109.0,254.6 L110.0,254.5 L111.0,255.0 L112.0,255.8 L113.0,254.9 L114.0,254.6 L115.0,255.1 L116.0,254.9 L117.0,254.7 L118.0,254.4 L119.0,254.6 L120.0,254.6 L121.0,253.6 L122.0,253.7 L123.0,255.0 L124.0,255.0 L125.0,254.2 L126.0,253.9 L127.0,254.1 L128.0,253.8 L129.0,254.3 L130.0,255.1 L131.0,254.6 L132.0,254.8 L133.0,254.3 L134.0,254.5 L135.0,254.7 L136.0,253.6 L137.0,253.8 L138.0,254.0 L139.0,254.3 L140.0,254.8 L141.0,254.3 L142.0,253.2 L143.0,253.5 L144.0,253.3 L145.0,253.5 L146.0,254.5 L147.0,253.4 L148.0,253.6 L149.0,253.4 L150.0,254.0 L151.0,253.8 L152.0,253.6 L153.0,253.6 L154.0,253.9 L155.0,253.0 L156.0,252.9 L157.0,252.9 L158.0,253.8 L159.0,253.2 L160.0,252.7 L161.0,253.2 L162.0,254.4 L163.0,253.5 L164.0,253.7 L165.0,253.5 L166.0,253.2 L167.0,252.8 L168.0,252.9 L169.0,252.8 L170.0,252.4 L171.0,254.3 L172.0,253.9 L173.0,253.3 L174.0,253.0 L175.0,252.9 L176.0,253.6 L177.0,253.3 L178.0,253.3 L179.0,252.6 L180.0,253.5 L181.0,254.2 L182.0,253.4 L183.0,253.6 L184.0,253.4 L185.0,253.9 L186.0,253.8 L187.0,253.3 L188.0,253.0 L189.0,253.3 L190.0,253.2 L191.0,253.0 L192.0,253.4 L193.0,253.4 L194.0,252.9 L195.0,253.4 L196.0,254.7 L197.0,254.0 L198.0,253.7 L199.0,254.4 L200.0,253.1 L201.0,251.9 L202.0,252.0 L203.0,252.5 L204.0,253.5 L205.0,253.8 L206.0,252.8 L207.0,253.8 L208.0,253.3 L209.0,253.9 L210.0,254.2 L211.0,254.3 L212.0,254.2 L213.0,254.2 L214.0,253.9 L215.0,254.6 L216.0,255.2 L217.0,255.6 L218.0,256.3 L219.0,255.9 L220.0,255.9 L221.0,256.3 L222.0,255.8 L223.0,255.0 L224.0,254.9 L225.0,256.6 L226.0,256.9 L227.0,257.1 L228.0,256.8 L229.0,257.4 L230.0,258.3 L231.0,257.8 L232.0,257.2 L233.0,257.8 L234.0,258.7 L235.0,257.8 L236.0,257.1 L237.0,257.5 L238.0,258.4 L239.0,259.7 L240.0,259.7 L241.0,259.5 L242.0,259.5 L243.0,260.3 L244.0,260.6 L245.0,260.7 L246.0,261.1 L247.0,261.4 L248.0,262.4 L249.0,261.3 L250.0,262.2 L251.0,262.4 L252.0,263.3 L253.0,263.3 L254.0,263.9 L255.0,264.3 L256.0,264.5 L257.0,264.9 L258.0,264.4 L259.0,265.5 L260.0,265.5 L261.0,266.1 L262.0,267.0 L263.0,267.4 L264.0,267.6 L265.0,266.2 L266.0,266.9 L267.0,268.1 L268.0,267.7 L269.0,268.5 L270.0,269.8 L271.0,269.8 L272.0,269.3 L273.0,270.2 L274.0,270.8 L275.0,270.9 L276.0,271.1 L277.0,271.4 L278.0,271.2 L279.0,272.1 L280.0,272.3 L281.0,273.2 L282.0,273.6 L283.0,273.5 L284.0,274.5 L285.0,274.8 L286.0,275.1 L287.0,275.7 L288.0,275.6 L289.0,276.0 L290.0,276.5 L291.0,277.0 L292.0,277.5 L293.0,276.6 L294.0,277.4 L295.0,277.3 L296.0,278.3 L297.0,279.2 L298.0,279.6 L299.0,280.3 L300.0,280.2 L301.0,279.2 L302.0,280.3 L303.0,282.1 L304.0,282.6 L305.0,282.2 L306.0,282.0 L307.0,283.5 L308.0,282.5 L309.0,283.6 L310.0,284.0 L311.0,284.4 L312.0,284.2 L313.0,284.9 L314.0,285.9 L315.0,285.6 L316.0,285.5 L317.0,286.5 L318.0,287.0 L319.0,287.2 L320.0,287.4 L321.0,288.3 L322.0,288.4 L323.0,288.3 L324.0,289.2 L325.0,289.6 L326.0,289.9 L327.0,289.5 L328.0,290.2 L329.0,291.3 L330.0,292.0 L331.0,292.1 L332.0,292.4 L333.0,293.0 L334.0,293.6 L335.0,294.3 L336.0,294.0 L337.0,293.8 L338.0,294.4 L339.0,293.9 L340.0,294.9 L341.0,295.3 L342.0,295.8 L343.0,296.5 L344.0,296.5 L345.0,296.2 L346.0,296.9 L347.0,297.3 L348.0,298.0 L349.0,298.5 L350.0,298.4 L351.0,299.5 L352.0,300.2 L353.0,300.0 L354.0,300.4 L355.0,299.9 L356.0,300.7 L357.0,301.6 L358.0,300.9 L359.0,301.6 L360.0,302.1 L361.0,303.4 L362.0,303.8 L363.0,303.5 L364.0,303.8 L365.0,303.3 L366.0,305.0 L367.0,305.6 L368.0,306.0 L369.0,305.1 L370.0,306.3 L371.0,306.4 L372.0,305.9 L373.0,307.0 L374.0,308.0 L375.0,308.8 L376.0,309.0 L377.0,309.1 L378.0,309.8 L379.0,310.0 L380.0,310.0 L381.0,310.3 L382.0,311.3 L383.0,312.0 L384.0,313.0 L385.0,312.7 L386.0,313.7 L387.0,313.8 L388.0,314.3 L389.0,313.8 L390.0,314.1 L391.0,314.8 L392.0,315.8 L393.0,316.0 L394.0,316.6 L395.0,316.9 L396.0,317.5 L397.0,317.5 L398.0,317.5 L399.0,318.3 L400.0,318.8 L401.0,319.7 L402.0,319.4 L403.0,319.7 L404.0,320.1 L405.0,321.1 L406.0,321.5 L407.0,321.6 L408.0,321.0 L409.0,321.3 L410.0,322.5 L411.0,323.4 L412.0,323.9 L413.0,323.0 L414.0,323.8 L415.0,323.7 L416.0,324.4 L417.0,325.4 L418.0,326.4 L419.0,326.2 L420.0,326.5 L421.0,327.3 L422.0,328.6 L423.0,329.4 L424.0,328.2 L425.0,328.9 L426.0,329.5 L427.0,330.5 L428.0,330.8 L429.0,331.4 L430.0,330.8 L431.0,331.3 L432.0,331.5 L433.0,331.6 L434.0,332.2 L435.0,332.5 L436.0,334.2 L437.0,333.8 L438.0,333.3 L439.0,333.9 L440.0,335.1 L441.0,334.8 L442.0,335.4 L443.0,335.9 L444.0,336.4 L445.0,336.5 L446.0,336.4 L447.0,336.3 L448.0,336.2 L449.0,337.3 L450.0,337.8 L451.0,337.9 L452.0,338.2 L453.0,338.4 L454.0,339.9 L455.0,339.2 L456.0,339.0 L457.0,339.5 L458.0,340.2 L459.0,340.6 L460.0,339.7 L461.0,341.0 L462.0,341.0 L463.0,341.5 L464.0,342.3 L465.0,342.4 L466.0,341.9 L467.0,342.5 L468.0,343.6 L469.0,343.7 L470.0,343.5 L471.0,343.2 L472.0,343.7 L473.0,343.6 L474.0,343.2 L475.0,343.2 L476.0,344.0 L477.0,344.3 L478.0,344.6 L479.0,344.2 L480.0,344.9 L481.0,344.6 L482.0,345.2 L483.0,345.0 L484.0,344.5 L485.0,344.4 L486.0,344.9 L487.0,345.1 L488.0,345.6 L489.0,344.9 L490.0,344.6 L491.0,345.5 L492.0,345.7 L493.0,345.8 L494.0,345.7 L495.0,345.7 L496.0,345.8 L497.0,345.8 L498.0,345.9 L499.0,345.9 L500.0,345.9 L501.0,346.0 L502.0,346.0 L503.0,346.1 L504.0,346.1 L505.0,346.2 L506.0,346.1 L507.0,346.2 L508.0,346.3 L509.0,346.6 L510.0,346.5 L511.0,346.5 L512.0,346.5 L513.0,346.4 L514.0,346.4 L515.0,346.5 L516.0,346.5 L517.0,346.6 L518.0,346.6 L519.0,346.3 L520.0,346.4 L520.4,346.5" stroke="#997300"/><path d="M71.9,346.6 L75.9,346.6 L79.9,346.6 L83.9,346.6 L87.9,346.6 L89.0,346.6 L89.2,346.6 L89.4,346.1 L89.6,344.7 L89.8,342.6 L90.0,340.1 L90.2,337.4 L90.4,334.5 L90.6,330.5 L90.8,325.8 L91.0,320.5 L91.2,315.0 L91.4,308.4 L91.6,300.9 L91.8,294.3 L92.0,290.2 L92.2,287.1 L92.4,284.5 L92.6,282.2 L92.8,280.2 L93.0,278.2 L93.2,276.1 L93.4,273.8 L93.6,271.5 L93.8,269.1 L94.0,266.8 L94.2,264.7 L94.4,262.8 L94.6,261.3 L94.8,259.8 L95.0,258.5 L95.2,257.3 L95.4,256.1 L95.6,255.2 L95.8,254.3 L96.0,253.7 L96.2,253.1 L96.4,252.6 L96.6,252.1 L96.8,251.7 L97.0,251.3 L97.2,251.0 L97.4,250.7 L97.6,250.4 L97.8,250.1 L98.0,249.9 L98.2,249.7 L98.4,249.5 L98.6,249.3 L98.8,249.2 L99.0,249.0 L99.2,248.9 L99.4,248.7 L99.6,248.6 L99.8,248.5 L100.0,247.7 L101.0,247.2 L102.0,247.6 L103.0,247.1 L104.0,246.4 L105.0,246.1 L106.0,245.6 L107.0,245.2 L108.0,245.1 L109.0,245.3 L110.0,245.4 L111.0,244.5 L112.0,244.3 L113.0,244.0 L114.0,243.5 L115.0,244.1 L116.0,244.2 L117.0,243.5 L118.0,243.9 L119.0,243.5 L120.0,244.1 L121.0,244.1 L122.0,243.1 L123.0,242.3 L124.0,242.8 L125.0,242.4 L126.0,242.4 L127.0,243.0 L128.0,243.7 L129.0,243.1 L130.0,242.7 L131.0,242.1 L132.0,242.4 L133.0,242.3 L134.0,243.0 L135.0,242.7 L136.0,242.8 L137.0,242.8 L138.0,242.8 L139.0,243.3 L140.0,243.1 L141.0,242.7 L142.0,242.8 L143.0,243.1 L144.0,243.4 L145.0,243.0 L146.0,243.3 L147.0,242.5 L148.0,242.3 L149.0,242.0 L150.0,242.7 L151.0,242.1 L152.0,242.0 L153.0,242.8 L154.0,242.3 L155.0,242.2 L156.0,242.8 L157.0,242.6 L158.0,242.8 L159.0,242.4 L160.0,242.9 L161.0,243.0 L162.0,242.8 L163.0,243.2 L164.0,242.4 L165.0,242.3 L166.0,242.5 L167.0,242.9 L168.0,242.3 L169.0,242.2 L170.0,242.6 L171.0,243.0 L172.0,242.2 L173.0,241.7 L174.0,242.3 L175.0,242.6 L176.0,242.2 L177.0,242.2 L178.0,241.5 L179.0,242.2 L180.0,242.5 L181.0,242.7 L182.0,242.7 L183.0,242.7 L184.0,242.1 L185.0,242.5 L186.0,241.7 L187.0,242.1 L188.0,243.0 L189.0,242.8 L190.0,241.7 L191.0,242.5 L192.0,242.2 L193.0,242.1 L194.0,242.5 L195.0,242.7 L196.0,243.0 L197.0,241.9 L198.0,242.1 L199.0,242.2 L200.0,241.7 L201.0,243.1 L202.0,243.4 L203.0,242.5 L204.0,242.7 L205.0,242.6 L206.0,242.8 L207.0,242.7 L208.0,243.2 L209.0,242.7 L210.0,243.7 L211.0,243.8 L212.0,244.4 L213.0,242.9 L214.0,243.2 L215.0,243.1 L216.0,243.7 L217.0,244.1 L218.0,243.6 L219.0,243.3 L220.0,243.5 L221.0,244.7 L222.0,245.5 L223.0,245.7 L224.0,245.2 L225.0,244.9 L226.0,245.2 L227.0,244.9 L228.0,245.3 L229.0,246.6 L230.0,246.5 L231.0,246.8 L232.0,247.0 L233.0,247.9 L234.0,248.2 L235.0,247.4 L236.0,247.6 L237.0,247.9 L238.0,249.1 L239.0,249.4 L240.0,249.2 L241.0,250.3 L242.0,249.6 L243.0,249.0 L244.0,249.0 L245.0,250.1 L246.0,250.7 L247.0,250.7 L248.0,251.5 L249.0,252.1 L250.0,252.0 L251.0,252.7 L252.0,253.3 L253.0,253.1 L254.0,252.9 L255.0,253.5 L256.0,254.2 L257.0,255.0 L258.0,254.1 L259.0,253.8 L260.0,254.9 L261.0,255.4 L262.0,255.4 L263.0,256.1 L264.0,256.5 L265.0,257.0 L266.0,256.5 L267.0,256.8 L268.0,257.4 L269.0,257.8 L270.0,258.9 L271.0,259.0 L272.0,259.2 L273.0,260.1 L274.0,260.2 L275.0,260.6 L276.0,260.9 L277.0,260.8 L278.0,261.0 L279.0,261.4 L280.0,261.3 L281.0,262.0 L282.0,263.0 L283.0,263.1 L284.0,263.2 L285.0,264.6 L286.0,263.9 L287.0,264.7 L288.0,265.3 L289.0,265.7 L290.0,265.2 L291.0,265.8 L292.0,266.2 L293.0,267.1 L294.0,267.3 L295.0,267.6 L296.0,268.1 L297.0,269.1 L298.0,269.0 L299.0,269.1 L300.0,268.8 L301.0,269.6 L302.0,269.4 L303.0,270.5 L304.0,270.6 L305.0,270.4 L306.0,270.6 L307.0,271.5 L308.0,272.0 L309.0,272.1 L310.0,272.5 L311.0,272.8 L312.0,273.1 L313.0,273.7 L314.0,274.4 L315.0,275.2 L316.0,275.3 L317.0,275.2 L318.0,276.4 L319.0,276.7 L320.0,276.5 L321.0,277.1 L322.0,276.9 L323.0,277.0 L324.0,277.6 L325.0,278.9 L326.0,278.8 L327.0,279.1 L328.0,279.4 L329.0,279.6 L330.0,280.3 L331.0,281.0 L332.0,281.7 L333.0,281.2 L334.0,282.3 L335.0,282.3 L336.0,281.7 L337.0,283.2 L338.0,284.1 L339.0,284.2 L340.0,284.1 L341.0,284.1 L342.0,283.7 L343.0,284.9 L344.0,285.4 L345.0,285.3 L346.0,286.0 L347.0,286.4 L348.0,287.7 L349.0,286.8 L350.0,286.8 L351.0,286.8 L352.0,287.9 L353.0,288.7 L354.0,289.0 L355.0,289.2 L356.0,290.1 L357.0,290.5 L358.0,291.1 L359.0,290.8 L360.0,290.4 L361.0,291.3 L362.0,291.6 L363.0,292.7 L364.0,292.6 L365.0,293.0 L366.0,293.4 L367.0,293.3 L368.0,294.2 L369.0,295.1 L370.0,295.0 L371.0,295.5 L372.0,296.0 L373.0,296.1 L374.0,296.7 L375.0,297.4 L376.0,297.5 L377.0,298.0 L378.0,298.3 L379.0,298.2 L380.0,298.8 L381.0,300.6 L382.0,300.9 L383.0,300.7 L384.0,301.5 L385.0,302.1 L386.0,302.3 L387.0,302.0 L388.0,301.8 L389.0,302.3 L390.0,303.3 L391.0,304.6 L392.0,305.1 L393.0,304.6 L394.0,304.9 L395.0,306.1 L396.0,306.8 L397.0,306.0 L398.0,306.7 L399.0,307.1 L400.0,307.2 L401.0,307.6 L402.0,308.0 L403.0,308.4 L404.0,308.3 L405.0,309.3 L406.0,310.3 L407.0,310.8 L408.0,311.1 L409.0,311.3 L410.0,311.8 L411.0,312.9 L412.0,312.5 L413.0,313.0 L414.0,313.9 L415.0,313.8 L416.0,313.5 L417.0,314.2 L418.0,314.9 L419.0,315.4 L420.0,315.9 L421.0,317.0 L422.0,317.5 L423.0,317.8 L424.0,318.0 L425.0,319.0 L426.0,319.7 L427.0,320.4 L428.0,319.7 L429.0,320.2 L430.0,321.1 L431.0,320.6 L432.0,321.4 L433.0,321.9 L434.0,322.2 L435.0,322.2 L436.0,322.8 L437.0,322.9 L438.0,324.2 L439.0,324.1 L440.0,324.7 L441.0,325.1 L442.0,325.6 L443.0,326.1 L444.0,326.6 L445.0,326.8 L446.0,327.3 L447.0,327.2 L448.0,327.6 L449.0,328.2 L450.0,328.6 L451.0,328.9 L452.0,329.8 L453.0,330.9 L454.0,331.3 L455.0,331.4 L456.0,332.1 L457.0,332.9 L458.0,334.0 L459.0,332.9 L460.0,333.6 L461.0,333.8 L462.0,335.1 L463.0,335.2 L464.0,335.7 L465.0,336.1 L466.0,336.4 L467.0,335.3 L468.0,336.3 L469.0,337.3 L470.0,337.4 L471.0,338.6 L472.0,339.2 L473.0,338.6 L474.0,339.2 L475.0,340.3 L476.0,341.2 L477.0,341.3 L478.0,341.3 L479.0,341.0 L480.0,341.6 L481.0,342.0 L482.0,342.1 L483.0,342.8 L484.0,342.8 L485.0,343.3 L486.0,344.5 L487.0,344.1 L488.0,344.8 L489.0,344.2 L490.0,344.3 L491.0,344.0 L492.0,344.7 L493.0,345.8 L494.0,345.2 L495.0,344.7 L496.0,345.7 L497.0,345.7 L498.0,345.8 L499.0,345.9 L500.0,345.9 L501.0,346.1 L502.0,346.2 L503.0,346.1 L504.0,346.2 L505.0,346.2 L506.0,346.2 L507.0,346.2 L508.0,346.2 L509.0,346.3 L510.0,346.3 L511.0,346.5 L512.0,346.4 L513.0,346.5 L514.0,346.5 L515.0,346.5 L516.0,346.5 L517.0,346.6 L518.0,346.6 L519.0,346.5 L520.0,346.5 L520.4,346.5" stroke="#255E91"/><path d="M71.9,346.6 L75.9,346.6 L79.9,346.6 L83.9,346.6 L87.9,346.6 L89.0,346.6 L89.2,346.6 L89.4,346.1 L89.6,344.7 L89.8,342.6 L90.0,340.1 L90.2,337.4 L90.4,334.5 L90.6,330.5 L90.8,325.8 L91.0,320.5 L91.2,315.0 L91.4,308.5 L91.6,301.0 L91.8,294.4 L92.0,290.1 L92.2,286.6 L92.4,283.6 L92.6,281.0 L92.8,278.6 L93.0,276.4 L93.2,274.2 L93.4,272.0 L93.6,269.8 L93.8,267.6 L94.0,265.6 L94.2,263.6 L94.4,261.7 L94.6,259.8 L94.8,258.0 L95.0,256.2 L95.2,254.3 L95.4,252.5 L95.6,250.9 L95.8,249.5 L96.0,248.5 L96.2,247.6 L96.4,246.8 L96.6,246.1 L96.8,245.5 L97.0,245.0 L97.2,244.5 L97.4,244.1 L97.6,243.7 L97.8,243.4 L98.0,243.0 L98.2,242.8 L98.4,242.5 L98.6,242.2 L98.8,242.0 L99.0,241.8 L99.2,241.6 L99.4,241.4 L99.6,241.2 L99.8,241.0 L100.0,240.8 L101.0,240.2 L102.0,239.8 L103.0,238.9 L104.0,237.6 L105.0,237.8 L106.0,237.6 L107.0,236.4 L108.0,235.1 L109.0,234.9 L110.0,234.8 L111.0,234.0 L112.0,234.1 L113.0,233.7 L114.0,234.4 L115.0,234.2 L116.0,233.5 L117.0,232.9 L118.0,233.2 L119.0,232.8 L120.0,232.7 L121.0,233.3 L122.0,232.4 L123.0,232.0 L124.0,233.0 L125.0,233.6 L126.0,233.4 L127.0,233.1 L128.0,233.3 L129.0,232.5 L130.0,233.4 L131.0,233.3 L132.0,232.2 L133.0,232.1 L134.0,231.3 L135.0,231.4 L136.0,231.9 L137.0,231.4 L138.0,231.8 L139.0,232.0 L140.0,231.9 L141.0,232.3 L142.0,232.6 L143.0,231.9 L144.0,232.2 L145.0,232.2 L146.0,231.3 L147.0,230.8 L148.0,230.2 L149.0,231.4 L150.0,231.9 L151.0,231.8 L152.0,232.4 L153.0,232.2 L154.0,231.7 L155.0,231.1 L156.0,230.7 L157.0,231.1 L158.0,231.3 L159.0,231.0 L160.0,230.8 L161.0,230.8 L162.0,231.1 L163.0,230.2 L164.0,230.6 L165.0,231.0 L166.0,231.3 L167.0,231.2 L168.0,230.7 L169.0,230.4 L170.0,230.3 L171.0,231.3 L172.0,231.2 L173.0,230.9 L174.0,230.3 L175.0,230.3 L176.0,231.2 L177.0,230.9 L178.0,231.1 L179.0,231.5 L180.0,230.1 L181.0,230.2 L182.0,230.9 L183.0,230.9 L184.0,230.3 L185.0,230.5 L186.0,230.3 L187.0,230.4 L188.0,230.8 L189.0,230.9 L190.0,231.3 L191.0,231.2 L192.0,231.3 L193.0,230.4 L194.0,230.6 L195.0,229.8 L196.0,229.5 L197.0,229.9 L198.0,230.8 L199.0,230.6 L200.0,230.0 L201.0,231.2 L202.0,231.2 L203.0,230.7 L204.0,230.6 L205.0,230.7 L206.0,230.6 L207.0,231.9 L208.0,231.1 L209.0,231.1 L210.0,231.1 L211.0,231.0 L212.0,231.1 L213.0,231.7 L214.0,231.2 L215.0,231.3 L216.0,231.7 L217.0,232.5 L218.0,231.9 L219.0,232.1 L220.0,232.7 L221.0,232.4 L222.0,233.0 L223.0,233.8 L224.0,233.9 L225.0,234.0 L226.0,234.7 L227.0,234.2 L228.0,234.0 L229.0,233.9 L230.0,234.9 L231.0,235.5 L232.0,235.4 L233.0,236.7 L234.0,236.8 L235.0,236.7 L236.0,236.1 L237.0,236.9 L238.0,237.1 L239.0,236.4 L240.0,237.4 L241.0,237.7 L242.0,237.5 L243.0,238.8 L244.0,240.0 L245.0,239.7 L246.0,239.1 L247.0,239.7 L248.0,240.6 L249.0,240.2 L250.0,240.9 L251.0,241.2 L252.0,241.7 L253.0,242.4 L254.0,241.7 L255.0,242.9 L256.0,243.0 L257.0,242.9 L258.0,242.7 L259.0,243.7 L260.0,243.6 L261.0,242.9 L262.0,243.7 L263.0,244.3 L264.0,244.8 L265.0,245.3 L266.0,245.8 L267.0,247.3 L268.0,247.5 L269.0,247.4 L270.0,248.5 L271.0,249.2 L272.0,248.6 L273.0,248.1 L274.0,249.2 L275.0,250.0 L276.0,249.5 L277.0,250.2 L278.0,251.1 L279.0,251.7 L280.0,251.9 L281.0,251.9 L282.0,252.0 L283.0,252.2 L284.0,253.3 L285.0,253.7 L286.0,253.3 L287.0,253.7 L288.0,254.9 L289.0,255.2 L290.0,254.6 L291.0,254.5 L292.0,255.7 L293.0,256.6 L294.0,257.1 L295.0,257.1 L296.0,256.5 L297.0,257.4 L298.0,257.7 L299.0,258.2 L300.0,259.8 L301.0,259.3 L302.0,259.5 L303.0,259.7 L304.0,260.5 L305.0,261.1 L306.0,260.8 L307.0,261.1 L308.0,261.2 L309.0,261.4 L310.0,262.1 L311.0,262.8 L312.0,263.0 L313.0,263.1 L314.0,262.9 L315.0,264.1 L316.0,264.7 L317.0,265.5 L318.0,264.9 L319.0,264.6 L320.0,264.8 L321.0,265.7 L322.0,266.5 L323.0,266.9 L324.0,266.5 L325.0,267.3 L326.0,268.4 L327.0,268.5 L328.0,268.5 L329.0,268.7 L330.0,268.5 L331.0,268.9 L332.0,269.9 L333.0,271.1 L334.0,271.5 L335.0,271.3 L336.0,271.8 L337.0,272.3 L338.0,272.7 L339.0,272.4 L340.0,273.1 L341.0,273.6 L342.0,273.1 L343.0,273.8 L344.0,274.5 L345.0,275.0 L346.0,275.4 L347.0,275.8 L348.0,276.4 L349.0,276.9 L350.0,277.0 L351.0,277.9 L352.0,277.2 L353.0,277.5 L354.0,278.0 L355.0,277.8 L356.0,277.8 L357.0,278.4 L358.0,279.8 L359.0,279.4 L360.0,279.6 L361.0,281.3 L362.0,281.3 L363.0,281.4 L364.0,281.3 L365.0,282.1 L366.0,282.3 L367.0,283.0 L368.0,283.3 L369.0,283.7 L370.0,284.1 L371.0,284.1 L372.0,284.6 L373.0,285.0 L374.0,286.0 L375.0,286.6 L376.0,286.9 L377.0,286.4 L378.0,288.0 L379.0,287.9 L380.0,288.2 L381.0,288.6 L382.0,289.2 L383.0,290.1 L384.0,290.1 L385.0,290.6 L386.0,291.4 L387.0,291.8 L388.0,291.1 L389.0,291.1 L390.0,291.2 L391.0,291.7 L392.0,293.1 L393.0,293.6 L394.0,294.0 L395.0,294.5 L396.0,295.0 L397.0,295.9 L398.0,296.4 L399.0,295.9 L400.0,297.1 L401.0,297.3 L402.0,296.9 L403.0,297.5 L404.0,297.6 L405.0,297.5 L406.0,298.5 L407.0,298.5 L408.0,299.4 L409.0,299.6 L410.0,300.3 L411.0,301.3 L412.0,301.4 L413.0,301.5 L414.0,302.3 L415.0,303.1 L416.0,303.6 L417.0,303.4 L418.0,304.4 L419.0,304.4 L420.0,304.7 L421.0,305.9 L422.0,306.3 L423.0,306.6 L424.0,306.6 L425.0,306.4 L426.0,307.6 L427.0,308.3 L428.0,308.5 L429.0,309.6 L430.0,309.6 L431.0,310.6 L432.0,310.8 L433.0,310.3 L434.0,310.5 L435.0,311.2 L436.0,312.0 L437.0,312.7 L438.0,312.6 L439.0,313.1 L440.0,314.8 L441.0,314.8 L442.0,315.5 L443.0,316.7 L444.0,316.6 L445.0,316.2 L446.0,317.9 L447.0,318.6 L448.0,319.7 L449.0,319.5 L450.0,321.0 L451.0,322.3 L452.0,323.3 L453.0,323.9 L454.0,324.4 L455.0,324.6 L456.0,325.1 L457.0,325.4 L458.0,327.0 L459.0,328.0 L460.0,328.0 L461.0,327.8 L462.0,328.1 L463.0,329.3 L464.0,330.8 L465.0,330.8 L466.0,330.7 L467.0,331.5 L468.0,332.5 L469.0,332.5 L470.0,332.9 L471.0,333.3 L472.0,333.9 L473.0,335.4 L474.0,334.9 L475.0,335.7 L476.0,336.5 L477.0,336.4 L478.0,336.6 L479.0,337.1 L480.0,337.5 L481.0,337.8 L482.0,338.0 L483.0,338.5 L484.0,339.2 L485.0,340.1 L486.0,339.7 L487.0,340.3 L488.0,340.2 L489.0,340.0 L490.0,340.3 L491.0,341.1 L492.0,340.9 L493.0,341.8 L494.0,342.1 L495.0,342.9 L496.0,342.3 L497.0,343.3 L498.0,343.9 L499.0,343.8 L500.0,343.4 L501.0,343.9 L502.0,344.2 L503.0,344.4 L504.0,345.0 L505.0,345.0 L506.0,345.4 L507.0,345.9 L508.0,345.5 L509.0,345.7 L510.0,345.8 L511.0,345.8 L512.0,345.8 L513.0,346.0 L514.0,346.2 L515.0,346.2 L516.0,346.2 L517.0,346.4 L518.0,346.4 L519.0,346.5 L520.0,346.6 L520.4,346.6" stroke="#43682B"/><path d="M71.9,346.6 L75.9,346.6 L79.9,346.6 L83.9,346.6 L87.9,346.6 L89.0,346.6 L89.2,346.6 L89.4,346.1 L89.6,344.7 L89.8,342.6 L90.0,340.1 L90.2,337.4 L90.4,334.5 L90.6,330.5 L90.8,325.8 L91.0,320.5 L91.2,315.0 L91.4,308.6 L91.6,301.2 L91.8,294.6 L92.0,289.8 L92.2,285.7 L92.4,282.0 L92.6,278.6 L92.8,275.5 L93.0,272.8 L93.2,270.3 L93.4,268.0 L93.6,266.0 L93.8,264.2 L94.0,262.6 L94.2,261.1 L94.4,259.7 L94.6,258.2 L94.8,256.7 L95.0,255.0 L95.2,253.0 L95.4,250.9 L95.6,248.6 L95.8,246.5 L96.0,244.6 L96.2,243.0 L96.4,241.8 L96.6,240.6 L96.8,239.7 L97.0,238.8 L97.2,238.0 L97.4,237.3 L97.6,236.6 L97.8,236.0 L98.0,235.4 L98.2,234.9 L98.4,234.4 L98.6,234.0 L98.8,233.6 L99.0,233.3 L99.2,232.9 L99.4,232.6 L99.6,232.3 L99.8,232.1 L100.0,232.8 L101.0,230.7 L102.0,229.2 L103.0,228.9 L104.0,227.0 L105.0,226.4 L106.0,226.1 L107.0,225.3 L108.0,225.2 L109.0,225.3 L110.0,224.9 L111.0,224.6 L112.0,225.0 L113.0,225.2 L114.0,224.6 L115.0,223.0 L116.0,224.1 L117.0,223.9 L118.0,223.4 L119.0,222.6 L120.0,222.6 L121.0,222.6 L122.0,222.2 L123.0,223.1 L124.0,223.1 L125.0,222.4 L126.0,222.0 L127.0,222.9 L128.0,222.7 L129.0,222.7 L130.0,222.2 L131.0,223.1 L132.0,222.4 L133.0,222.6 L134.0,221.2 L135.0,221.8 L136.0,221.6 L137.0,220.5 L138.0,221.0 L139.0,220.8 L140.0,220.7 L141.0,220.9 L142.0,220.9 L143.0,221.5 L144.0,221.7 L145.0,221.5 L146.0,220.9 L147.0,221.1 L148.0,222.0 L149.0,221.2 L150.0,221.1 L151.0,220.9 L152.0,221.4 L153.0,221.6 L154.0,221.6 L155.0,221.4 L156.0,221.3 L157.0,221.0 L158.0,221.1 L159.0,220.5 L160.0,220.9 L161.0,221.2 L162.0,220.6 L163.0,221.1 L164.0,220.9 L165.0,220.1 L166.0,219.7 L167.0,219.8 L168.0,220.2 L169.0,220.9 L170.0,221.1 L171.0,221.6 L172.0,221.9 L173.0,220.6 L174.0,219.6 L175.0,219.7 L176.0,219.6 L177.0,220.2 L178.0,220.6 L179.0,221.2 L180.0,220.2 L181.0,220.5 L182.0,220.6 L183.0,220.7 L184.0,220.7 L185.0,221.7 L186.0,220.9 L187.0,220.9 L188.0,221.2 L189.0,221.2 L190.0,221.5 L191.0,220.4 L192.0,220.5 L193.0,220.5 L194.0,220.8 L195.0,221.2 L196.0,220.4 L197.0,219.8 L198.0,220.5 L199.0,220.4 L200.0,221.0 L201.0,221.2 L202.0,221.9 L203.0,221.3 L204.0,220.6 L205.0,221.2 L206.0,221.6 L207.0,221.3 L208.0,221.2 L209.0,221.2 L210.0,221.1 L211.0,221.2 L212.0,222.2 L213.0,221.9 L214.0,221.4 L215.0,222.4 L216.0,222.3 L217.0,222.4 L218.0,222.6 L219.0,222.9 L220.0,221.8 L221.0,222.8 L222.0,223.4 L223.0,223.2 L224.0,222.7 L225.0,223.1 L226.0,224.2 L227.0,224.8 L228.0,223.7 L229.0,224.3 L230.0,225.1 L231.0,225.4 L232.0,225.9 L233.0,226.4 L234.0,226.3 L235.0,225.6 L236.0,226.1 L237.0,226.2 L238.0,227.0 L239.0,228.1 L240.0,228.4 L241.0,229.1 L242.0,229.1 L243.0,229.1 L244.0,229.2 L245.0,228.7 L246.0,229.1 L247.0,229.8 L248.0,230.3 L249.0,230.4 L250.0,229.9 L251.0,230.0 L252.0,230.5 L253.0,232.1 L254.0,231.8 L255.0,232.3 L256.0,232.3 L257.0,232.5 L258.0,232.7 L259.0,233.0 L260.0,233.6 L261.0,234.1 L262.0,233.7 L263.0,234.4 L264.0,234.7 L265.0,235.1 L266.0,236.0 L267.0,236.7 L268.0,235.9 L269.0,236.8 L270.0,237.7 L271.0,237.8 L272.0,237.3 L273.0,238.3 L274.0,238.5 L275.0,238.9 L276.0,239.7 L277.0,239.5 L278.0,240.4 L279.0,241.0 L280.0,240.8 L281.0,241.2 L282.0,242.7 L283.0,242.2 L284.0,243.1 L285.0,242.9 L286.0,243.4 L287.0,243.7 L288.0,244.3 L289.0,244.6 L290.0,244.5 L291.0,245.3 L292.0,246.1 L293.0,245.7 L294.0,245.5 L295.0,246.8 L296.0,247.0 L297.0,247.7 L298.0,247.9 L299.0,248.0 L300.0,248.7 L301.0,249.4 L302.0,249.7 L303.0,249.3 L304.0,249.5 L305.0,250.2 L306.0,251.6 L307.0,251.6 L308.0,251.5 L309.0,252.2 L310.0,253.1 L311.0,252.6 L312.0,253.2 L313.0,254.2 L314.0,254.6 L315.0,254.8 L316.0,254.5 L317.0,254.9 L318.0,254.5 L319.0,255.5 L320.0,256.0 L321.0,256.5 L322.0,257.6 L323.0,257.5 L324.0,257.8 L325.0,258.7 L326.0,259.4 L327.0,258.8 L328.0,259.5 L329.0,259.4 L330.0,259.1 L331.0,259.9 L332.0,260.7 L333.0,260.9 L334.0,261.1 L335.0,261.6 L336.0,261.9 L337.0,262.1 L338.0,262.3 L339.0,263.0 L340.0,262.4 L341.0,263.6 L342.0,263.9 L343.0,264.7 L344.0,264.1 L345.0,264.0 L346.0,265.7 L347.0,266.3 L348.0,265.5 L349.0,266.7 L350.0,267.1 L351.0,267.0 L352.0,267.8 L353.0,267.8 L354.0,268.9 L355.0,269.4 L356.0,269.1 L357.0,269.3 L358.0,269.7 L359.0,269.3 L360.0,270.1 L361.0,271.2 L362.0,272.6 L363.0,272.6 L364.0,272.4 L365.0,272.3 L366.0,273.1 L367.0,273.4 L368.0,273.2 L369.0,273.8 L370.0,273.9 L371.0,274.3 L372.0,274.0 L373.0,276.2 L374.0,276.1 L375.0,276.1 L376.0,276.5 L377.0,276.6 L378.0,277.8 L379.0,279.0 L380.0,279.0 L381.0,279.0 L382.0,279.5 L383.0,280.0 L384.0,280.2 L385.0,280.5 L386.0,281.2 L387.0,281.7 L388.0,281.9 L389.0,282.5 L390.0,282.2 L391.0,282.1 L392.0,282.6 L393.0,284.0 L394.0,284.1 L395.0,284.7 L396.0,284.8 L397.0,285.4 L398.0,285.9 L399.0,285.7 L400.0,286.5 L401.0,288.1 L402.0,288.7 L403.0,288.3 L404.0,288.5 L405.0,288.5 L406.0,288.8 L407.0,290.1 L408.0,290.8 L409.0,290.9 L410.0,291.2 L411.0,291.2 L412.0,292.3 L413.0,292.4 L414.0,292.5 L415.0,293.4 L416.0,293.1 L417.0,293.4 L418.0,294.2 L419.0,294.2 L420.0,294.7 L421.0,295.8 L422.0,296.1 L423.0,296.3 L424.0,297.2 L425.0,297.6 L426.0,298.2 L427.0,298.7 L428.0,298.9 L429.0,298.5 L430.0,299.6 L431.0,299.8 L432.0,300.3 L433.0,300.7 L434.0,301.3 L435.0,301.4 L436.0,301.7 L437.0,302.5 L438.0,302.6 L439.0,302.7 L440.0,303.5 L441.0,304.2 L442.0,304.8 L443.0,305.5 L444.0,305.9 L445.0,306.9 L446.0,309.0 L447.0,308.4 L448.0,309.4 L449.0,310.1 L450.0,310.5 L451.0,311.1 L452.0,311.6 L453.0,312.5 L454.0,314.3 L455.0,314.0 L456.0,314.7 L457.0,316.0 L458.0,316.1 L459.0,317.6 L460.0,318.0 L461.0,319.0 L462.0,318.7 L463.0,319.4 L464.0,320.6 L465.0,320.8 L466.0,321.4 L467.0,322.7 L468.0,322.9 L469.0,323.2 L470.0,324.3 L471.0,325.2 L472.0,325.9 L473.0,327.6 L474.0,327.8 L475.0,328.1 L476.0,329.0 L477.0,330.1 L478.0,330.2 L479.0,331.0 L480.0,331.9 L481.0,332.5 L482.0,332.8 L483.0,332.5 L484.0,333.9 L485.0,335.1 L486.0,336.0 L487.0,335.8 L488.0,336.4 L489.0,336.9 L490.0,337.6 L491.0,338.9 L492.0,339.3 L493.0,339.5 L494.0,338.6 L495.0,339.0 L496.0,339.9 L497.0,339.8 L498.0,341.1 L499.0,342.4 L500.0,341.1 L501.0,341.9 L502.0,342.1 L503.0,342.5 L504.0,342.4 L505.0,342.1 L506.0,342.8 L507.0,343.0 L508.0,343.2 L509.0,344.0 L510.0,344.4 L511.0,344.3 L512.0,345.1 L513.0,345.2 L514.0,345.6 L515.0,345.6 L516.0,345.7 L517.0,346.0 L518.0,346.1 L519.0,346.2 L520.0,346.2 L520.4,346.3" stroke="#698ED0"/><path d="M71.9,346.6 L75.9,346.6 L79.9,346.6 L83.9,346.6 L87.9,346.6 L89.0,346.6 L89.2,346.6 L89.4,346.1 L89.6,344.7 L89.8,342.6 L90.0,340.1 L90.2,337.4 L90.4,334.5 L90.6,330.5 L90.8,325.8 L91.0,320.5 L91.2,315.0 L91.4,308.6 L91.6,301.4 L91.8,294.7 L92.0,289.6 L92.2,285.2 L92.4,281.0 L92.6,277.2 L92.8,273.8 L93.0,270.8 L93.2,268.1 L93.4,265.9 L93.6,264.0 L93.8,262.2 L94.0,260.6 L94.2,259.2 L94.4,257.8 L94.6,256.5 L94.8,255.2 L95.0,254.0 L95.2,252.8 L95.4,251.7 L95.6,250.6 L95.8,249.6 L96.0,248.6 L96.2,247.6 L96.4,246.6 L96.6,245.4 L96.8,244.3 L97.0,243.1 L97.2,241.9 L97.4,240.6 L97.6,239.4 L97.8,238.1 L98.0,236.7 L98.2,235.4 L98.4,234.0 L98.6,232.7 L98.8,231.3 L99.0,230.0 L99.2,228.6 L99.4,227.2 L99.6,226.0 L99.8,225.0 L100.0,224.3 L101.0,220.3 L102.0,218.5 L103.0,217.4 L104.0,216.2 L105.0,215.1 L106.0,214.0 L107.0,213.0 L108.0,212.6 L109.0,212.9 L110.0,211.8 L111.0,212.1 L112.0,211.3 L113.0,212.3 L114.0,210.7 L115.0,211.3 L116.0,210.4 L117.0,210.4 L118.0,210.3 L119.0,210.2 L120.0,211.2 L121.0,210.3 L122.0,209.5 L123.0,210.2 L124.0,210.2 L125.0,209.4 L126.0,209.9 L127.0,209.8 L128.0,210.1 L129.0,210.0 L130.0,209.5 L131.0,209.3 L132.0,209.8 L133.0,209.4 L134.0,208.5 L135.0,208.7 L136.0,208.8 L137.0,209.1 L138.0,210.0 L139.0,209.1 L140.0,209.2 L141.0,209.7 L142.0,209.2 L143.0,209.1 L144.0,209.4 L145.0,208.9 L146.0,208.8 L147.0,208.9 L148.0,208.7 L149.0,208.0 L150.0,207.8 L151.0,208.3 L152.0,208.9 L153.0,208.4 L154.0,208.8 L155.0,208.5 L156.0,207.8 L157.0,206.9 L158.0,207.9 L159.0,207.8 L160.0,207.3 L161.0,208.1 L162.0,208.1 L163.0,208.1 L164.0,207.7 L165.0,207.9 L166.0,207.8 L167.0,208.4 L168.0,207.9 L169.0,207.3 L170.0,207.9 L171.0,207.9 L172.0,207.7 L173.0,207.3 L174.0,208.2 L175.0,207.8 L176.0,208.5 L177.0,207.8 L178.0,207.9 L179.0,207.9 L180.0,208.2 L181.0,209.1 L182.0,208.2 L183.0,208.9 L184.0,208.4 L185.0,207.8 L186.0,208.5 L187.0,208.6 L188.0,208.3 L189.0,207.5 L190.0,208.0 L191.0,207.8 L192.0,207.8 L193.0,207.9 L194.0,208.1 L195.0,208.8 L196.0,208.1 L197.0,207.1 L198.0,208.2 L199.0,207.9 L200.0,207.5 L201.0,206.8 L202.0,207.5 L203.0,207.4 L204.0,208.0 L205.0,207.9 L206.0,207.9 L207.0,207.2 L208.0,206.7 L209.0,207.9 L210.0,207.9 L211.0,207.5 L212.0,207.3 L213.0,207.1 L214.0,206.7 L215.0,207.1 L216.0,207.9 L217.0,208.7 L218.0,208.6 L219.0,208.9 L220.0,208.2 L221.0,209.0 L222.0,208.9 L223.0,209.8 L224.0,209.9 L225.0,209.6 L226.0,209.9 L227.0,210.4 L228.0,209.7 L229.0,209.3 L230.0,211.0 L231.0,211.8 L232.0,210.4 L233.0,211.1 L234.0,211.0 L235.0,211.5 L236.0,211.7 L237.0,212.6 L238.0,212.4 L239.0,212.6 L240.0,212.7 L241.0,213.6 L242.0,213.5 L243.0,213.7 L244.0,214.0 L245.0,213.9 L246.0,214.5 L247.0,214.4 L248.0,215.1 L249.0,215.6 L250.0,215.9 L251.0,216.3 L252.0,216.5 L253.0,217.4 L254.0,217.5 L255.0,217.7 L256.0,218.0 L257.0,218.3 L258.0,218.8 L259.0,219.0 L260.0,219.0 L261.0,220.6 L262.0,220.4 L263.0,220.5 L264.0,221.1 L265.0,220.6 L266.0,221.7 L267.0,222.5 L268.0,222.7 L269.0,223.2 L270.0,223.4 L271.0,223.8 L272.0,224.4 L273.0,224.9 L274.0,224.9 L275.0,225.8 L276.0,226.3 L277.0,226.3 L278.0,226.7 L279.0,227.6 L280.0,228.6 L281.0,228.9 L282.0,228.4 L283.0,228.8 L284.0,229.4 L285.0,230.2 L286.0,230.5 L287.0,231.1 L288.0,231.9 L289.0,231.9 L290.0,232.2 L291.0,232.5 L292.0,232.4 L293.0,233.0 L294.0,233.3 L295.0,233.8 L296.0,235.0 L297.0,234.8 L298.0,233.7 L299.0,234.8 L300.0,235.7 L301.0,236.1 L302.0,236.2 L303.0,236.7 L304.0,237.1 L305.0,237.6 L306.0,238.4 L307.0,238.5 L308.0,238.6 L309.0,239.1 L310.0,239.6 L311.0,239.5 L312.0,240.2 L313.0,241.2 L314.0,241.6 L315.0,240.9 L316.0,242.9 L317.0,242.5 L318.0,243.0 L319.0,242.7 L320.0,243.8 L321.0,244.1 L322.0,244.3 L323.0,244.6 L324.0,245.0 L325.0,245.7 L326.0,245.6 L327.0,246.0 L328.0,246.3 L329.0,246.2 L330.0,247.3 L331.0,247.7 L332.0,247.8 L333.0,247.8 L334.0,248.6 L335.0,249.2 L336.0,249.6 L337.0,249.9 L338.0,249.9 L339.0,251.2 L340.0,251.7 L341.0,252.0 L342.0,252.4 L343.0,253.0 L344.0,253.3 L345.0,253.7 L346.0,253.7 L347.0,254.0 L348.0,254.5 L349.0,254.3 L350.0,254.8 L351.0,255.4 L352.0,255.3 L353.0,254.9 L354.0,256.0 L355.0,256.6 L356.0,257.5 L357.0,256.9 L358.0,257.8 L359.0,259.0 L360.0,258.0 L361.0,258.9 L362.0,259.3 L363.0,259.4 L364.0,260.4 L365.0,260.4 L366.0,260.1 L367.0,261.3 L368.0,261.8 L369.0,263.2 L370.0,263.3 L371.0,263.2 L372.0,264.4 L373.0,265.4 L374.0,264.6 L375.0,264.9 L376.0,265.8 L377.0,266.4 L378.0,266.8 L379.0,266.6 L380.0,267.5 L381.0,267.6 L382.0,268.3 L383.0,269.4 L384.0,269.4 L385.0,270.2 L386.0,270.4 L387.0,271.0 L388.0,271.5 L389.0,272.2 L390.0,272.6 L391.0,272.6 L392.0,273.9 L393.0,274.1 L394.0,274.6 L395.0,275.0 L396.0,274.8 L397.0,275.2 L398.0,275.8 L399.0,276.5 L400.0,277.6 L401.0,278.5 L402.0,279.5 L403.0,279.3 L404.0,279.3 L405.0,278.9 L406.0,278.8 L407.0,279.6 L408.0,279.9 L409.0,280.0 L410.0,280.8 L411.0,281.6 L412.0,282.0 L413.0,282.8 L414.0,283.2 L415.0,283.5 L416.0,284.2 L417.0,284.1 L418.0,284.6 L419.0,285.6 L420.0,285.7 L421.0,285.1 L422.0,286.1 L423.0,287.3 L424.0,287.4 L425.0,287.8 L426.0,287.2 L427.0,287.9 L428.0,287.6 L429.0,288.8 L430.0,288.9 L431.0,290.1 L432.0,289.9 L433.0,290.5 L434.0,291.0 L435.0,291.2 L436.0,291.1 L437.0,292.3 L438.0,292.7 L439.0,294.2 L440.0,293.8 L441.0,294.3 L442.0,294.9 L443.0,296.4 L444.0,297.1 L445.0,297.5 L446.0,298.1 L447.0,298.0 L448.0,298.7 L449.0,300.3 L450.0,300.3 L451.0,300.9 L452.0,301.2 L453.0,302.4 L454.0,303.6 L455.0,304.0 L456.0,304.2 L457.0,305.8 L458.0,306.2 L459.0,305.7 L460.0,306.8 L461.0,307.9 L462.0,308.5 L463.0,309.5 L464.0,310.3 L465.0,310.3 L466.0,310.8 L467.0,312.0 L468.0,312.5 L469.0,312.4 L470.0,313.5 L471.0,313.2 L472.0,315.2 L473.0,315.8 L474.0,316.0 L475.0,317.2 L476.0,318.8 L477.0,320.7 L478.0,321.9 L479.0,322.7 L480.0,323.4 L481.0,324.2 L482.0,324.4 L483.0,325.3 L484.0,325.9 L485.0,326.9 L486.0,328.1 L487.0,328.6 L488.0,329.1 L489.0,331.1 L490.0,331.8 L491.0,332.6 L492.0,333.0 L493.0,333.9 L494.0,334.9 L495.0,336.2 L496.0,336.1 L497.0,337.5 L498.0,338.1 L499.0,339.0 L500.0,339.0 L501.0,339.3 L502.0,340.9 L503.0,341.2 L504.0,342.0 L505.0,342.5 L506.0,341.9 L507.0,342.8 L508.0,343.6 L509.0,344.4 L510.0,344.8 L511.0,345.1 L512.0,345.1 L513.0,345.8 L514.0,345.6 L515.0,345.6 L516.0,345.8 L517.0,345.9 L518.0,346.1 L519.0,346.2 L520.0,346.3 L520.4,346.5" stroke="#F1975A"/><path d="M71.9,346.6 L75.9,346.6 L79.9,346.6 L83.9,346.6 L87.9,346.6 L89.0,346.6 L89.2,346.6 L89.4,346.1 L89.6,344.7 L89.8,342.6 L90.0,340.1 L90.2,337.4 L90.4,334.5 L90.6,330.5 L90.8,325.8 L91.0,320.5 L91.2,315.0 L91.4,308.7 L91.6,301.6 L91.8,294.9 L92.0,289.4 L92.2,284.6 L92.4,280.1 L92.6,275.9 L92.8,272.0 L93.0,268.3 L93.2,265.0 L93.4,261.9 L93.6,258.8 L93.8,256.0 L94.0,253.4 L94.2,251.0 L94.4,248.9 L94.6,247.1 L94.8,245.5 L95.0,244.1 L95.2,242.7 L95.4,241.5 L95.6,240.3 L95.8,239.2 L96.0,238.0 L96.2,236.9 L96.4,235.6 L96.6,234.3 L96.8,233.0 L97.0,231.7 L97.2,230.4 L97.4,229.0 L97.6,227.7 L97.8,226.4 L98.0,225.2 L98.2,224.0 L98.4,222.8 L98.6,221.7 L98.8,220.6 L99.0,219.5 L99.2,218.5 L99.4,217.5 L99.6,216.5 L99.8,215.6 L100.0,214.6 L101.0,210.5 L102.0,208.0 L103.0,206.0 L104.0,204.8 L105.0,203.8 L106.0,202.7 L107.0,202.9 L108.0,201.3 L109.0,200.9 L110.0,200.9 L111.0,200.8 L112.0,200.3 L113.0,199.8 L114.0,199.6 L115.0,199.1 L116.0,198.4 L117.0,198.6 L118.0,197.9 L119.0,197.4 L120.0,197.6 L121.0,197.4 L122.0,197.5 L123.0,197.4 L124.0,196.9 L125.0,197.1 L126.0,196.7 L127.0,196.2 L128.0,197.3 L129.0,196.9 L130.0,196.7 L131.0,196.9 L132.0,196.0 L133.0,196.3 L134.0,196.8 L135.0,195.7 L136.0,196.2 L137.0,197.3 L138.0,196.9 L139.0,196.1 L140.0,196.5 L141.0,196.8 L142.0,196.2 L143.0,196.4 L144.0,196.6 L145.0,196.6 L146.0,197.2 L147.0,196.6 L148.0,196.4 L149.0,196.4 L150.0,196.1 L151.0,195.9 L152.0,196.1 L153.0,196.2 L154.0,197.4 L155.0,197.5 L156.0,196.1 L157.0,194.9 L158.0,195.9 L159.0,196.5 L160.0,196.2 L161.0,196.6 L162.0,196.6 L163.0,196.0 L164.0,196.0 L165.0,195.8 L166.0,195.9 L167.0,195.7 L168.0,196.1 L169.0,196.9 L170.0,196.4 L171.0,196.8 L172.0,196.4 L173.0,195.6 L174.0,196.1 L175.0,196.0 L176.0,195.6 L177.0,196.1 L178.0,197.0 L179.0,197.0 L180.0,196.2 L181.0,195.9 L182.0,196.3 L183.0,196.6 L184.0,196.9 L185.0,196.1 L186.0,195.8 L187.0,196.0 L188.0,195.4 L189.0,196.2 L190.0,196.4 L191.0,195.6 L192.0,196.6 L193.0,196.2 L194.0,196.2 L195.0,196.3 L196.0,196.3 L197.0,196.2 L198.0,195.8 L199.0,195.3 L200.0,196.3 L201.0,196.2 L202.0,196.3 L203.0,196.3 L204.0,196.6 L205.0,196.1 L206.0,196.1 L207.0,197.4 L208.0,197.2 L209.0,196.8 L210.0,197.0 L211.0,196.8 L212.0,195.3 L213.0,195.8 L214.0,196.4 L215.0,196.6 L216.0,196.2 L217.0,196.4 L218.0,196.1 L219.0,196.4 L220.0,196.0 L221.0,196.9 L222.0,198.0 L223.0,197.2 L224.0,197.8 L225.0,197.4 L226.0,197.9 L227.0,199.4 L228.0,198.5 L229.0,198.8 L230.0,198.7 L231.0,198.1 L232.0,199.3 L233.0,200.1 L234.0,199.4 L235.0,199.5 L236.0,200.1 L237.0,200.9 L238.0,200.8 L239.0,201.8 L240.0,201.9 L241.0,201.0 L242.0,201.4 L243.0,202.2 L244.0,202.4 L245.0,203.5 L246.0,203.9 L247.0,203.6 L248.0,204.4 L249.0,204.7 L250.0,204.8 L251.0,205.5 L252.0,205.3 L253.0,205.8 L254.0,205.7 L255.0,206.1 L256.0,207.6 L257.0,208.1 L258.0,207.9 L259.0,208.4 L260.0,208.2 L261.0,208.4 L262.0,209.4 L263.0,210.2 L264.0,210.0 L265.0,210.3 L266.0,210.6 L267.0,210.4 L268.0,210.5 L269.0,211.6 L270.0,211.8 L271.0,213.4 L272.0,213.5 L273.0,214.0 L274.0,214.4 L275.0,214.0 L276.0,214.4 L277.0,216.0 L278.0,216.2 L279.0,216.5 L280.0,216.9 L281.0,216.4 L282.0,218.0 L283.0,218.3 L284.0,218.9 L285.0,219.6 L286.0,220.5 L287.0,220.4 L288.0,220.2 L289.0,220.5 L290.0,222.0 L291.0,220.7 L292.0,221.5 L293.0,222.0 L294.0,222.1 L295.0,222.5 L296.0,223.1 L297.0,223.0 L298.0,223.8 L299.0,224.4 L300.0,224.1 L301.0,225.0 L302.0,225.7 L303.0,225.9 L304.0,226.3 L305.0,226.7 L306.0,226.9 L307.0,227.3 L308.0,228.3 L309.0,228.6 L310.0,229.2 L311.0,230.3 L312.0,230.5 L313.0,230.4 L314.0,231.5 L315.0,231.4 L316.0,231.9 L317.0,231.4 L318.0,233.0 L319.0,232.8 L320.0,232.7 L321.0,232.8 L322.0,232.5 L323.0,233.4 L324.0,234.4 L325.0,235.7 L326.0,235.6 L327.0,235.8 L328.0,236.8 L329.0,236.9 L330.0,236.7 L331.0,236.8 L332.0,236.9 L333.0,237.8 L334.0,237.7 L335.0,239.0 L336.0,238.7 L337.0,239.8 L338.0,240.6 L339.0,240.3 L340.0,241.1 L341.0,242.2 L342.0,241.9 L343.0,242.7 L344.0,242.9 L345.0,242.2 L346.0,243.2 L347.0,243.3 L348.0,244.2 L349.0,244.9 L350.0,245.6 L351.0,245.5 L352.0,245.9 L353.0,246.7 L354.0,247.8 L355.0,247.7 L356.0,248.4 L357.0,247.7 L358.0,247.9 L359.0,248.9 L360.0,248.9 L361.0,249.7 L362.0,250.3 L363.0,251.7 L364.0,252.3 L365.0,252.8 L366.0,252.5 L367.0,252.4 L368.0,253.0 L369.0,254.1 L370.0,253.4 L371.0,253.8 L372.0,254.3 L373.0,255.6 L374.0,255.8 L375.0,256.6 L376.0,257.5 L377.0,258.5 L378.0,257.9 L379.0,256.6 L380.0,257.1 L381.0,258.6 L382.0,259.9 L383.0,259.4 L384.0,259.8 L385.0,259.9 L386.0,260.7 L387.0,261.6 L388.0,262.0 L389.0,262.6 L390.0,263.3 L391.0,263.3 L392.0,263.1 L393.0,262.7 L394.0,263.9 L395.0,265.4 L396.0,264.9 L397.0,265.4 L398.0,265.8 L399.0,266.7 L400.0,267.4 L401.0,267.2 L402.0,267.6 L403.0,268.5 L404.0,268.2 L405.0,269.2 L406.0,269.4 L407.0,270.1 L408.0,271.1 L409.0,271.6 L410.0,271.9 L411.0,271.7 L412.0,272.2 L413.0,272.3 L414.0,272.5 L415.0,273.3 L416.0,274.0 L417.0,274.4 L418.0,274.6 L419.0,274.6 L420.0,275.4 L421.0,276.2 L422.0,277.1 L423.0,276.7 L424.0,277.5 L425.0,277.9 L426.0,279.3 L427.0,279.0 L428.0,279.5 L429.0,279.3 L430.0,278.8 L431.0,279.1 L432.0,279.7 L433.0,279.9 L434.0,280.7 L435.0,280.8 L436.0,281.2 L437.0,281.4 L438.0,283.0 L439.0,282.5 L440.0,283.1 L441.0,283.6 L442.0,284.7 L443.0,286.0 L444.0,286.3 L445.0,286.0 L446.0,287.5 L447.0,288.9 L448.0,289.7 L449.0,289.6 L450.0,290.0 L451.0,290.6 L452.0,292.9 L453.0,292.8 L454.0,293.2 L455.0,293.9 L456.0,295.0 L457.0,296.1 L458.0,296.8 L459.0,296.9 L460.0,297.3 L461.0,298.8 L462.0,299.3 L463.0,301.0 L464.0,301.3 L465.0,301.6 L466.0,302.8 L467.0,302.5 L468.0,303.8 L469.0,304.8 L470.0,305.5 L471.0,305.7 L472.0,306.8 L473.0,307.9 L474.0,308.7 L475.0,308.9 L476.0,309.2 L477.0,310.6 L478.0,311.0 L479.0,312.3 L480.0,313.8 L481.0,315.9 L482.0,315.8 L483.0,316.3 L484.0,318.1 L485.0,320.1 L486.0,321.1 L487.0,323.0 L488.0,323.6 L489.0,325.1 L490.0,326.2 L491.0,326.7 L492.0,328.4 L493.0,329.7 L494.0,331.4 L495.0,332.7 L496.0,334.4 L497.0,335.4 L498.0,336.9 L499.0,337.7 L500.0,338.8 L501.0,340.4 L502.0,340.7 L503.0,341.0 L504.0,341.8 L505.0,343.1 L506.0,344.2 L507.0,344.2 L508.0,344.7 L509.0,344.6 L510.0,344.8 L511.0,345.3 L512.0,345.5 L513.0,345.7 L514.0,345.8 L515.0,346.0 L516.0,346.0 L517.0,346.1 L518.0,346.1 L519.0,346.2 L520.0,346.2 L520.4,346.2" stroke="#B7B7B7"/><path d="M71.9,346.6 L75.9,346.6 L79.9,346.6 L83.9,346.6 L87.9,346.6 L89.0,346.6 L89.2,346.6 L89.4,346.1 L89.6,344.7 L89.8,342.6 L90.0,340.1 L90.2,337.4 L90.4,334.5 L90.6,330.5 L90.8,325.8 L91.0,320.5 L91.2,315.0 L91.4,308.7 L91.6,301.7 L91.8,294.9 L92.0,289.3 L92.2,284.3 L92.4,279.6 L92.6,275.1 L92.8,270.9 L93.0,266.9 L93.2,263.1 L93.4,259.3 L93.6,255.6 L93.8,252.2 L94.0,249.0 L94.2,246.2 L94.4,243.9 L94.6,241.8 L94.8,239.9 L95.0,238.2 L95.2,236.5 L95.4,235.0 L95.6,233.5 L95.8,232.0 L96.0,230.5 L96.2,228.8 L96.4,227.1 L96.6,225.4 L96.8,223.7 L97.0,221.9 L97.2,220.2 L97.4,218.4 L97.6,216.7 L97.8,215.0 L98.0,213.2 L98.2,211.4 L98.4,209.5 L98.6,207.8 L98.8,206.2 L99.0,205.0 L99.2,204.0 L99.4,203.1 L99.6,202.3 L99.8,201.6 L100.0,201.1 L101.0,198.8 L102.0,196.6 L103.0,194.7 L104.0,192.9 L105.0,191.8 L106.0,192.0 L107.0,191.2 L108.0,189.6 L109.0,189.5 L110.0,190.0 L111.0,189.7 L112.0,189.0 L113.0,189.8 L114.0,189.4 L115.0,188.8 L116.0,188.0 L117.0,187.3 L118.0,188.2 L119.0,188.6 L120.0,188.0 L121.0,187.0 L122.0,187.5 L123.0,186.6 L124.0,185.9 L125.0,186.5 L126.0,185.5 L127.0,186.5 L128.0,187.2 L129.0,187.4 L130.0,188.0 L131.0,187.0 L132.0,186.1 L133.0,186.7 L134.0,186.7 L135.0,185.9 L136.0,185.4 L137.0,185.8 L138.0,185.8 L139.0,185.9 L140.0,186.1 L141.0,186.5 L142.0,186.6 L143.0,186.8 L144.0,186.0 L145.0,186.2 L146.0,185.3 L147.0,185.6 L148.0,185.1 L149.0,185.5 L150.0,186.2 L151.0,185.7 L152.0,186.6 L153.0,186.9 L154.0,186.2 L155.0,185.6 L156.0,185.2 L157.0,185.3 L158.0,185.6 L159.0,185.3 L160.0,185.5 L161.0,185.4 L162.0,185.8 L163.0,185.0 L164.0,185.9 L165.0,186.1 L166.0,185.5 L167.0,186.5 L168.0,186.6 L169.0,186.0 L170.0,185.1 L171.0,185.5 L172.0,184.9 L173.0,185.2 L174.0,185.1 L175.0,185.6 L176.0,185.4 L177.0,185.9 L178.0,186.2 L179.0,185.6 L180.0,185.9 L181.0,185.6 L182.0,185.7 L183.0,185.6 L184.0,185.4 L185.0,185.6 L186.0,186.4 L187.0,186.5 L188.0,186.2 L189.0,186.5 L190.0,186.7 L191.0,186.3 L192.0,185.2 L193.0,186.0 L194.0,186.8 L195.0,186.5 L196.0,186.1 L197.0,186.0 L198.0,186.2 L199.0,186.0 L200.0,186.4 L201.0,186.1 L202.0,186.0 L203.0,186.4 L204.0,186.6 L205.0,186.1 L206.0,186.2 L207.0,185.8 L208.0,185.5 L209.0,186.0 L210.0,186.4 L211.0,186.4 L212.0,186.2 L213.0,186.0 L214.0,185.7 L215.0,186.4 L216.0,187.2 L217.0,186.6 L218.0,186.7 L219.0,187.5 L220.0,187.2 L221.0,187.2 L222.0,187.0 L223.0,188.0 L224.0,188.5 L225.0,188.3 L226.0,188.9 L227.0,188.8 L228.0,187.7 L229.0,189.2 L230.0,188.7 L231.0,189.5 L232.0,189.9 L233.0,189.8 L234.0,189.9 L235.0,190.2 L236.0,190.4 L237.0,190.6 L238.0,190.8 L239.0,191.4 L240.0,191.8 L241.0,192.0 L242.0,192.4 L243.0,192.3 L244.0,193.1 L245.0,193.8 L246.0,194.3 L247.0,193.5 L248.0,194.5 L249.0,194.6 L250.0,194.0 L251.0,194.7 L252.0,195.2 L253.0,196.3 L254.0,197.3 L255.0,197.5 L256.0,197.5 L257.0,198.2 L258.0,198.2 L259.0,198.2 L260.0,197.9 L261.0,198.5 L262.0,199.1 L263.0,199.3 L264.0,199.6 L265.0,200.3 L266.0,201.4 L267.0,201.7 L268.0,201.9 L269.0,202.0 L270.0,202.3 L271.0,202.9 L272.0,203.1 L273.0,203.8 L274.0,204.2 L275.0,204.6 L276.0,205.2 L277.0,205.6 L278.0,206.0 L279.0,205.9 L280.0,206.2 L281.0,206.7 L282.0,207.3 L283.0,208.6 L284.0,208.3 L285.0,209.2 L286.0,209.9 L287.0,210.5 L288.0,210.2 L289.0,210.3 L290.0,211.2 L291.0,212.2 L292.0,211.9 L293.0,212.6 L294.0,213.0 L295.0,212.6 L296.0,213.8 L297.0,214.0 L298.0,213.6 L299.0,214.9 L300.0,215.6 L301.0,215.5 L302.0,215.9 L303.0,216.5 L304.0,216.7 L305.0,216.5 L306.0,216.6 L307.0,217.2 L308.0,217.8 L309.0,218.6 L310.0,218.3 L311.0,218.8 L312.0,219.4 L313.0,220.9 L314.0,221.6 L315.0,221.5 L316.0,221.9 L317.0,222.1 L318.0,221.8 L319.0,222.3 L320.0,223.3 L321.0,223.4 L322.0,222.9 L323.0,223.7 L324.0,224.5 L325.0,224.6 L326.0,225.8 L327.0,226.5 L328.0,227.0 L329.0,226.4 L330.0,227.1 L331.0,228.0 L332.0,227.8 L333.0,228.4 L334.0,228.7 L335.0,229.2 L336.0,229.3 L337.0,230.3 L338.0,231.6 L339.0,231.8 L340.0,231.4 L341.0,231.8 L342.0,232.0 L343.0,233.3 L344.0,233.6 L345.0,234.3 L346.0,234.2 L347.0,234.4 L348.0,235.2 L349.0,235.0 L350.0,235.9 L351.0,236.8 L352.0,236.4 L353.0,235.8 L354.0,237.2 L355.0,238.9 L356.0,238.5 L357.0,238.4 L358.0,239.3 L359.0,240.5 L360.0,240.3 L361.0,240.6 L362.0,242.2 L363.0,242.2 L364.0,242.6 L365.0,242.4 L366.0,243.9 L367.0,244.3 L368.0,245.3 L369.0,245.6 L370.0,245.5 L371.0,246.0 L372.0,246.7 L373.0,248.3 L374.0,248.2 L375.0,248.7 L376.0,248.7 L377.0,247.9 L378.0,248.7 L379.0,250.4 L380.0,250.5 L381.0,250.5 L382.0,251.4 L383.0,252.1 L384.0,253.2 L385.0,252.5 L386.0,252.8 L387.0,253.8 L388.0,254.6 L389.0,254.7 L390.0,255.3 L391.0,255.4 L392.0,255.8 L393.0,256.1 L394.0,256.6 L395.0,257.4 L396.0,257.5 L397.0,258.3 L398.0,257.5 L399.0,257.9 L400.0,260.2 L401.0,259.5 L402.0,260.4 L403.0,260.8 L404.0,261.6 L405.0,262.6 L406.0,262.2 L407.0,262.6 L408.0,262.6 L409.0,263.2 L410.0,263.1 L411.0,264.5 L412.0,264.4 L413.0,264.3 L414.0,265.0 L415.0,265.6 L416.0,266.4 L417.0,265.7 L418.0,266.2 L419.0,267.3 L420.0,267.3 L421.0,267.9 L422.0,268.4 L423.0,268.3 L424.0,269.0 L425.0,268.6 L426.0,268.9 L427.0,269.9 L428.0,270.0 L429.0,270.2 L430.0,270.6 L431.0,271.4 L432.0,271.8 L433.0,272.3 L434.0,273.2 L435.0,274.0 L436.0,273.7 L437.0,274.5 L438.0,274.3 L439.0,274.4 L440.0,275.4 L441.0,276.1 L442.0,277.3 L443.0,277.1 L444.0,278.2 L445.0,279.3 L446.0,280.1 L447.0,281.3 L448.0,280.9 L449.0,282.0 L450.0,283.1 L451.0,284.3 L452.0,283.8 L453.0,284.4 L454.0,286.0 L455.0,287.3 L456.0,287.9 L457.0,288.8 L458.0,289.9 L459.0,291.2 L460.0,292.2 L461.0,292.3 L462.0,292.7 L463.0,293.8 L464.0,294.1 L465.0,295.4 L466.0,295.3 L467.0,296.0 L468.0,296.3 L469.0,297.7 L470.0,298.4 L471.0,299.3 L472.0,300.6 L473.0,301.6 L474.0,302.9 L475.0,303.7 L476.0,304.9 L477.0,305.7 L478.0,306.6 L479.0,308.4 L480.0,309.1 L481.0,310.1 L482.0,311.2 L483.0,312.5 L484.0,312.6 L485.0,313.3 L486.0,315.0 L487.0,316.2 L488.0,317.5 L489.0,319.3 L490.0,321.2 L491.0,321.8 L492.0,322.5 L493.0,323.4 L494.0,324.8 L495.0,326.0 L496.0,327.3 L497.0,329.5 L498.0,331.7 L499.0,333.2 L500.0,334.6 L501.0,335.9 L502.0,337.2 L503.0,338.1 L504.0,338.9 L505.0,340.5 L506.0,341.2 L507.0,341.8 L508.0,342.1 L509.0,343.8 L510.0,344.2 L511.0,343.5 L512.0,343.6 L513.0,344.2 L514.0,345.4 L515.0,345.9 L516.0,345.6 L517.0,345.7 L518.0,345.9 L519.0,346.1 L520.0,346.2 L520.4,346.2" stroke="#FFCD33"/><path d="M71.9,346.6 L75.9,346.6 L79.9,346.6 L83.9,346.6 L87.9,346.6 L89.0,346.6 L89.2,346.6 L89.4,346.1 L89.6,344.7 L89.8,342.6 L90.0,340.1 L90.2,337.4 L90.4,334.5 L90.6,330.5 L90.8,325.8 L91.0,320.5 L91.2,315.0 L91.4,308.8 L91.6,301.8 L91.8,295.0 L92.0,289.2 L92.2,283.8 L92.4,278.7 L92.6,273.9 L92.8,269.3 L93.0,265.0 L93.2,260.9 L93.4,256.9 L93.6,253.1 L93.8,249.6 L94.0,246.4 L94.2,243.7 L94.4,241.2 L94.6,238.9 L94.8,236.7 L95.0,234.7 L95.2,232.7 L95.4,230.8 L95.6,228.9 L95.8,227.0 L96.0,225.0 L96.2,223.0 L96.4,221.0 L96.6,219.0 L96.8,217.0 L97.0,215.1 L97.2,213.1 L97.4,211.0 L97.6,208.9 L97.8,206.5 L98.0,204.1 L98.2,201.7 L98.4,199.6 L98.6,198.0 L98.8,196.8 L99.0,195.6 L99.2,194.6 L99.4,193.8 L99.6,192.9 L99.8,192.2 L100.0,192.5 L101.0,189.4 L102.0,187.0 L103.0,184.6 L104.0,182.4 L105.0,182.6 L106.0,181.7 L107.0,179.9 L108.0,180.1 L109.0,180.0 L110.0,180.5 L111.0,180.0 L112.0,179.8 L113.0,179.4 L114.0,178.4 L115.0,178.0 L116.0,178.8 L117.0,178.7 L118.0,178.7 L119.0,178.5 L120.0,178.3 L121.0,178.6 L122.0,178.4 L123.0,177.7 L124.0,176.9 L125.0,176.4 L126.0,177.0 L127.0,177.7 L128.0,178.2 L129.0,177.7 L130.0,178.1 L131.0,178.5 L132.0,178.8 L133.0,178.1 L134.0,178.2 L135.0,177.6 L136.0,176.6 L137.0,176.1 L138.0,177.3 L139.0,177.9 L140.0,178.3 L141.0,177.1 L142.0,177.2 L143.0,176.8 L144.0,175.9 L145.0,176.8 L146.0,176.6 L147.0,176.4 L148.0,177.4 L149.0,176.7 L150.0,176.8 L151.0,176.5 L152.0,176.3 L153.0,176.5 L154.0,176.9 L155.0,176.1 L156.0,175.8 L157.0,177.2 L158.0,176.8 L159.0,176.0 L160.0,176.1 L161.0,175.6 L162.0,176.3 L163.0,176.6 L164.0,175.6 L165.0,176.6 L166.0,176.8 L167.0,176.3 L168.0,176.3 L169.0,176.1 L170.0,175.9 L171.0,175.5 L172.0,176.8 L173.0,176.2 L174.0,176.3 L175.0,176.3 L176.0,176.5 L177.0,176.5 L178.0,175.9 L179.0,176.3 L180.0,176.1 L181.0,176.0 L182.0,176.9 L183.0,176.9 L184.0,176.0 L185.0,176.0 L186.0,175.7 L187.0,175.6 L188.0,175.8 L189.0,176.3 L190.0,175.5 L191.0,175.5 L192.0,176.2 L193.0,176.1 L194.0,176.7 L195.0,175.9 L196.0,175.8 L197.0,175.5 L198.0,175.0 L199.0,176.0 L200.0,176.4 L201.0,176.4 L202.0,175.9 L203.0,176.1 L204.0,175.8 L205.0,175.7 L206.0,175.5 L207.0,175.7 L208.0,175.6 L209.0,176.1 L210.0,175.7 L211.0,175.6 L212.0,176.0 L213.0,176.1 L214.0,175.4 L215.0,175.7 L216.0,176.1 L217.0,176.7 L218.0,177.0 L219.0,177.2 L220.0,176.9 L221.0,176.6 L222.0,176.7 L223.0,177.5 L224.0,177.7 L225.0,178.3 L226.0,179.0 L227.0,179.5 L228.0,178.6 L229.0,179.0 L230.0,178.6 L231.0,179.6 L232.0,179.2 L233.0,179.6 L234.0,179.7 L235.0,181.0 L236.0,181.1 L237.0,181.3 L238.0,181.2 L239.0,181.4 L240.0,181.1 L241.0,181.7 L242.0,182.5 L243.0,181.6 L244.0,182.6 L245.0,183.6 L246.0,183.9 L247.0,183.9 L248.0,184.0 L249.0,184.7 L250.0,184.4 L251.0,184.5 L252.0,184.3 L253.0,185.4 L254.0,185.6 L255.0,185.8 L256.0,185.3 L257.0,186.0 L258.0,186.9 L259.0,187.0 L260.0,188.3 L261.0,189.3 L262.0,188.9 L263.0,189.2 L264.0,189.3 L265.0,189.5 L266.0,189.6 L267.0,190.7 L268.0,190.6 L269.0,191.2 L270.0,191.6 L271.0,191.8 L272.0,192.5 L273.0,193.4 L274.0,194.4 L275.0,194.6 L276.0,195.5 L277.0,195.6 L278.0,196.0 L279.0,196.5 L280.0,196.8 L281.0,197.7 L282.0,197.9 L283.0,198.5 L284.0,199.5 L285.0,198.9 L286.0,199.1 L287.0,200.0 L288.0,200.6 L289.0,201.0 L290.0,201.8 L291.0,202.1 L292.0,202.3 L293.0,202.3 L294.0,203.8 L295.0,203.7 L296.0,203.7 L297.0,205.0 L298.0,205.0 L299.0,204.9 L300.0,205.2 L301.0,206.1 L302.0,206.3 L303.0,206.6 L304.0,207.4 L305.0,207.8 L306.0,208.3 L307.0,209.4 L308.0,210.3 L309.0,210.6 L310.0,210.1 L311.0,210.2 L312.0,210.3 L313.0,211.2 L314.0,211.5 L315.0,212.4 L316.0,212.8 L317.0,213.5 L318.0,213.8 L319.0,214.4 L320.0,214.6 L321.0,213.8 L322.0,214.7 L323.0,215.8 L324.0,216.3 L325.0,216.7 L326.0,216.9 L327.0,217.7 L328.0,217.7 L329.0,218.1 L330.0,218.5 L331.0,219.5 L332.0,220.0 L333.0,220.1 L334.0,220.3 L335.0,219.9 L336.0,221.2 L337.0,220.7 L338.0,221.3 L339.0,221.2 L340.0,222.2 L341.0,223.1 L342.0,224.4 L343.0,223.4 L344.0,223.1 L345.0,224.6 L346.0,225.3 L347.0,226.3 L348.0,226.4 L349.0,225.8 L350.0,226.6 L351.0,227.2 L352.0,227.8 L353.0,228.0 L354.0,228.5 L355.0,229.0 L356.0,228.5 L357.0,229.4 L358.0,231.0 L359.0,231.5 L360.0,231.4 L361.0,232.0 L362.0,232.7 L363.0,233.3 L364.0,233.0 L365.0,233.2 L366.0,234.4 L367.0,234.2 L368.0,234.4 L369.0,235.4 L370.0,235.7 L371.0,236.1 L372.0,236.6 L373.0,237.4 L374.0,237.7 L375.0,237.9 L376.0,237.6 L377.0,238.0 L378.0,238.6 L379.0,239.5 L380.0,240.7 L381.0,240.5 L382.0,241.1 L383.0,242.6 L384.0,242.4 L385.0,242.5 L386.0,243.3 L387.0,243.8 L388.0,244.7 L389.0,244.8 L390.0,244.7 L391.0,245.7 L392.0,245.5 L393.0,247.1 L394.0,246.9 L395.0,246.4 L396.0,248.3 L397.0,247.6 L398.0,247.4 L399.0,249.4 L400.0,249.0 L401.0,249.5 L402.0,250.0 L403.0,250.6 L404.0,251.1 L405.0,250.9 L406.0,253.0 L407.0,252.9 L408.0,252.9 L409.0,253.5 L410.0,253.9 L411.0,254.6 L412.0,255.0 L413.0,255.5 L414.0,255.8 L415.0,255.9 L416.0,256.4 L417.0,256.7 L418.0,257.3 L419.0,256.9 L420.0,257.4 L421.0,258.7 L422.0,258.4 L423.0,259.6 L424.0,260.1 L425.0,259.4 L426.0,260.8 L427.0,262.0 L428.0,261.7 L429.0,262.7 L430.0,261.9 L431.0,261.7 L432.0,262.6 L433.0,263.4 L434.0,264.6 L435.0,264.7 L436.0,264.9 L437.0,265.5 L438.0,266.7 L439.0,265.9 L440.0,266.5 L441.0,267.6 L442.0,268.7 L443.0,269.9 L444.0,270.7 L445.0,270.8 L446.0,271.8 L447.0,272.3 L448.0,274.5 L449.0,274.3 L450.0,274.4 L451.0,276.1 L452.0,276.8 L453.0,278.0 L454.0,278.5 L455.0,278.3 L456.0,279.9 L457.0,280.4 L458.0,281.1 L459.0,282.1 L460.0,283.0 L461.0,284.0 L462.0,285.1 L463.0,285.5 L464.0,286.4 L465.0,287.6 L466.0,287.7 L467.0,288.5 L468.0,289.2 L469.0,290.1 L470.0,289.9 L471.0,291.0 L472.0,292.1 L473.0,292.7 L474.0,293.7 L475.0,294.7 L476.0,296.0 L477.0,297.1 L478.0,298.5 L479.0,299.3 L480.0,300.2 L481.0,301.5 L482.0,302.9 L483.0,305.4 L484.0,306.1 L485.0,307.1 L486.0,308.5 L487.0,310.4 L488.0,311.3 L489.0,312.7 L490.0,314.0 L491.0,315.4 L492.0,316.7 L493.0,317.9 L494.0,319.8 L495.0,321.0 L496.0,323.6 L497.0,326.0 L498.0,327.1 L499.0,328.9 L500.0,331.1 L501.0,332.1 L502.0,333.8 L503.0,335.3 L504.0,336.6 L505.0,337.5 L506.0,339.1 L507.0,339.8 L508.0,340.4 L509.0,341.0 L510.0,341.3 L511.0,342.6 L512.0,343.3 L513.0,344.0 L514.0,343.8 L515.0,345.0 L516.0,345.0 L517.0,345.4 L518.0,344.6 L519.0,345.4 L520.0,345.7 L520.4,344.8" stroke="#7CAFDD"/><path d="M71.9,346.6 L75.9,346.6 L79.9,346.6 L83.9,346.6 L87.9,346.6 L89.0,346.6 L89.2,346.6 L89.4,346.1 L89.6,344.7 L89.8,342.6 L90.0,340.1 L90.2,337.4 L90.4,334.5 L90.6,330.5 L90.8,325.8 L91.0,320.5 L91.2,315.0 L91.4,308.9 L91.6,302.0 L91.8,295.1 L92.0,289.0 L92.2,283.2 L92.4,277.6 L92.6,272.3 L92.8,267.3 L93.0,262.7 L93.2,258.3 L93.4,254.1 L93.6,250.2 L93.8,246.6 L94.0,243.5 L94.2,240.5 L94.4,237.6 L94.6,235.0 L94.8,232.5 L95.0,230.1 L95.2,228.0 L95.4,225.9 L95.6,224.1 L95.8,222.5 L96.0,221.1 L96.2,219.8 L96.4,218.5 L96.6,217.3 L96.8,216.1 L97.0,214.8 L97.2,213.4 L97.4,211.8 L97.6,210.0 L97.8,207.7 L98.0,204.9 L98.2,202.0 L98.4,199.2 L98.6,196.9 L98.8,194.6 L99.0,192.5 L99.2,190.5 L99.4,188.8 L99.6,187.3 L99.8,186.0 L100.0,184.4 L101.0,180.1 L102.0,176.6 L103.0,174.5 L104.0,173.5 L105.0,172.4 L106.0,171.0 L107.0,170.1 L108.0,169.4 L109.0,168.7 L110.0,168.1 L111.0,167.6 L112.0,167.9 L113.0,167.3 L114.0,166.9 L115.0,166.7 L116.0,166.6 L117.0,166.5 L118.0,165.4 L119.0,165.0 L120.0,164.9 L121.0,164.5 L122.0,165.1 L123.0,165.0 L124.0,164.6 L125.0,164.2 L126.0,164.4 L127.0,164.6 L128.0,164.2 L129.0,163.6 L130.0,163.1 L131.0,164.0 L132.0,163.5 L133.0,163.3 L134.0,164.0 L135.0,163.7 L136.0,162.9 L137.0,163.3 L138.0,163.4 L139.0,163.7 L140.0,162.6 L141.0,163.0 L142.0,163.4 L143.0,163.8 L144.0,162.6 L145.0,161.6 L146.0,162.3 L147.0,163.2 L148.0,163.7 L149.0,164.1 L150.0,163.4 L151.0,162.8 L152.0,163.4 L153.0,163.1 L154.0,162.9 L155.0,163.1 L156.0,163.5 L157.0,162.6 L158.0,162.4 L159.0,162.8 L160.0,162.8 L161.0,162.5 L162.0,162.5 L163.0,163.1 L164.0,163.7 L165.0,163.5 L166.0,163.4 L167.0,163.4 L168.0,161.9 L169.0,161.9 L170.0,162.3 L171.0,162.2 L172.0,162.3 L173.0,162.7 L174.0,162.3 L175.0,162.4 L176.0,161.8 L177.0,162.4 L178.0,163.4 L179.0,162.9 L180.0,163.1 L181.0,163.3 L182.0,162.9 L183.0,163.3 L184.0,163.3 L185.0,163.4 L186.0,162.7 L187.0,162.3 L188.0,162.5 L189.0,162.9 L190.0,163.4 L191.0,163.1 L192.0,163.0 L193.0,163.3 L194.0,163.7 L195.0,163.3 L196.0,163.8 L197.0,162.8 L198.0,162.9 L199.0,163.6 L200.0,163.4 L201.0,162.8 L202.0,162.9 L203.0,162.8 L204.0,163.5 L205.0,163.4 L206.0,162.9 L207.0,163.2 L208.0,163.0 L209.0,163.1 L210.0,163.2 L211.0,163.0 L212.0,163.5 L213.0,163.6 L214.0,163.7 L215.0,163.9 L216.0,163.3 L217.0,162.8 L218.0,163.3 L219.0,163.9 L220.0,164.1 L221.0,164.5 L222.0,164.8 L223.0,164.6 L224.0,164.7 L225.0,164.7 L226.0,165.6 L227.0,165.4 L228.0,165.1 L229.0,165.3 L230.0,166.0 L231.0,167.2 L232.0,167.0 L233.0,166.2 L234.0,166.9 L235.0,167.6 L236.0,168.0 L237.0,168.1 L238.0,167.9 L239.0,168.5 L240.0,168.2 L241.0,167.8 L242.0,168.6 L243.0,169.2 L244.0,170.2 L245.0,170.5 L246.0,170.0 L247.0,170.6 L248.0,170.8 L249.0,170.4 L250.0,170.5 L251.0,171.7 L252.0,172.3 L253.0,172.1 L254.0,171.6 L255.0,173.0 L256.0,173.4 L257.0,173.6 L258.0,174.1 L259.0,174.3 L260.0,175.4 L261.0,175.6 L262.0,175.8 L263.0,176.5 L264.0,176.7 L265.0,176.5 L266.0,177.4 L267.0,177.7 L268.0,177.6 L269.0,178.6 L270.0,179.6 L271.0,179.9 L272.0,181.2 L273.0,181.8 L274.0,181.5 L275.0,182.3 L276.0,183.3 L277.0,182.8 L278.0,182.8 L279.0,183.4 L280.0,183.5 L281.0,184.1 L282.0,185.2 L283.0,185.7 L284.0,186.4 L285.0,187.0 L286.0,186.9 L287.0,187.5 L288.0,187.9 L289.0,188.1 L290.0,188.6 L291.0,189.5 L292.0,189.9 L293.0,190.5 L294.0,191.3 L295.0,191.6 L296.0,191.1 L297.0,191.5 L298.0,192.3 L299.0,193.0 L300.0,193.7 L301.0,193.4 L302.0,194.0 L303.0,194.9 L304.0,195.9 L305.0,196.2 L306.0,195.6 L307.0,196.2 L308.0,196.6 L309.0,197.7 L310.0,198.0 L311.0,198.0 L312.0,198.4 L313.0,199.3 L314.0,200.0 L315.0,199.7 L316.0,200.2 L317.0,200.9 L318.0,201.4 L319.0,201.8 L320.0,201.7 L321.0,202.0 L322.0,202.0 L323.0,203.4 L324.0,204.3 L325.0,203.5 L326.0,204.4 L327.0,205.6 L328.0,205.6 L329.0,205.4 L330.0,206.8 L331.0,206.6 L332.0,208.0 L333.0,207.7 L334.0,208.0 L335.0,208.8 L336.0,209.3 L337.0,210.1 L338.0,210.5 L339.0,210.7 L340.0,211.7 L341.0,212.0 L342.0,212.2 L343.0,212.5 L344.0,212.8 L345.0,213.3 L346.0,214.1 L347.0,214.5 L348.0,214.8 L349.0,215.5 L350.0,215.5 L351.0,216.2 L352.0,216.7 L353.0,216.4 L354.0,217.2 L355.0,218.4 L356.0,218.0 L357.0,218.9 L358.0,218.7 L359.0,219.4 L360.0,219.3 L361.0,219.9 L362.0,220.5 L363.0,221.1 L364.0,222.2 L365.0,222.8 L366.0,223.2 L367.0,223.5 L368.0,224.5 L369.0,224.8 L370.0,224.7 L371.0,224.7 L372.0,225.8 L373.0,226.4 L374.0,226.7 L375.0,227.4 L376.0,227.9 L377.0,228.0 L378.0,228.8 L379.0,229.3 L380.0,229.7 L381.0,229.9 L382.0,230.4 L383.0,231.3 L384.0,232.6 L385.0,233.4 L386.0,232.7 L387.0,232.7 L388.0,233.5 L389.0,233.9 L390.0,234.7 L391.0,235.5 L392.0,235.7 L393.0,236.8 L394.0,237.6 L395.0,238.6 L396.0,239.2 L397.0,239.6 L398.0,240.3 L399.0,239.8 L400.0,240.4 L401.0,241.0 L402.0,241.8 L403.0,242.5 L404.0,242.7 L405.0,244.0 L406.0,244.5 L407.0,244.6 L408.0,245.0 L409.0,244.8 L410.0,244.7 L411.0,246.3 L412.0,247.3 L413.0,247.8 L414.0,247.8 L415.0,248.8 L416.0,250.4 L417.0,250.8 L418.0,251.2 L419.0,251.4 L420.0,252.5 L421.0,253.4 L422.0,253.8 L423.0,253.9 L424.0,254.6 L425.0,254.8 L426.0,255.6 L427.0,256.6 L428.0,256.8 L429.0,257.6 L430.0,258.8 L431.0,258.9 L432.0,259.7 L433.0,259.8 L434.0,260.0 L435.0,261.0 L436.0,261.4 L437.0,261.3 L438.0,262.2 L439.0,263.4 L440.0,264.8 L441.0,264.8 L442.0,265.5 L443.0,266.5 L444.0,267.0 L445.0,267.6 L446.0,269.1 L447.0,269.5 L448.0,268.7 L449.0,270.6 L450.0,271.6 L451.0,272.5 L452.0,273.0 L453.0,274.3 L454.0,275.9 L455.0,277.0 L456.0,278.1 L457.0,279.0 L458.0,280.0 L459.0,281.0 L460.0,281.5 L461.0,283.7 L462.0,284.1 L463.0,284.8 L464.0,285.5 L465.0,286.2 L466.0,286.0 L467.0,287.6 L468.0,288.2 L469.0,289.2 L470.0,290.0 L471.0,291.4 L472.0,293.7 L473.0,294.7 L474.0,296.1 L475.0,297.3 L476.0,298.3 L477.0,299.7 L478.0,301.0 L479.0,302.8 L480.0,303.7 L481.0,306.1 L482.0,308.4 L483.0,310.1 L484.0,311.4 L485.0,312.3 L486.0,313.1 L487.0,315.3 L488.0,316.7 L489.0,317.9 L490.0,318.9 L491.0,321.1 L492.0,323.3 L493.0,324.5 L494.0,325.8 L495.0,327.8 L496.0,329.8 L497.0,331.9 L498.0,334.2 L499.0,336.0 L500.0,337.6 L501.0,338.9 L502.0,339.3 L503.0,340.2 L504.0,341.5 L505.0,342.0 L506.0,342.8 L507.0,342.6 L508.0,344.1 L509.0,344.3 L510.0,344.9 L511.0,343.5 L512.0,344.0 L513.0,345.7 L514.0,345.7 L515.0,345.6 L516.0,345.8 L517.0,346.0 L518.0,346.1 L519.0,346.1 L520.0,346.2 L520.4,346.3" stroke="#8CC168"/><path d="M71.9,346.6 L75.9,346.6 L79.9,346.6 L83.9,346.6 L87.9,346.6 L89.0,346.6 L89.2,346.6 L89.4,346.1 L89.6,344.7 L89.8,342.6 L90.0,340.1 L90.2,337.4 L90.4,334.5 L90.6,330.5 L90.8,325.8 L91.0,320.5 L91.2,315.0 L91.4,308.9 L91.6,302.1 L91.8,295.2 L92.0,288.8 L92.2,282.5 L92.4,276.3 L92.6,270.4 L92.8,265.0 L93.0,260.0 L93.2,255.3 L93.4,250.9 L93.6,246.9 L93.8,243.2 L94.0,239.7 L94.2,236.3 L94.4,233.1 L94.6,230.2 L94.8,227.5 L95.0,225.0 L95.2,222.8 L95.4,220.8 L95.6,218.9 L95.8,217.2 L96.0,215.5 L96.2,213.9 L96.4,212.3 L96.6,210.7 L96.8,208.9 L97.0,207.0 L97.2,205.0 L97.4,202.7 L97.6,200.1 L97.8,197.5 L98.0,194.8 L98.2,192.3 L98.4,190.0 L98.6,188.0 L98.8,186.1 L99.0,184.3 L99.2,182.6 L99.4,181.0 L99.6,179.5 L99.8,178.0 L100.0,176.3 L101.0,170.6 L102.0,166.6 L103.0,163.3 L104.0,161.0 L105.0,159.6 L106.0,158.5 L107.0,157.6 L108.0,157.3 L109.0,157.3 L110.0,156.4 L111.0,156.3 L112.0,155.6 L113.0,155.1 L114.0,154.5 L115.0,153.8 L116.0,153.7 L117.0,153.2 L118.0,152.4 L119.0,152.9 L120.0,152.7 L121.0,152.3 L122.0,151.3 L123.0,150.4 L124.0,151.8 L125.0,151.2 L126.0,150.2 L127.0,151.2 L128.0,151.0 L129.0,151.4 L130.0,151.3 L131.0,151.6 L132.0,151.3 L133.0,151.2 L134.0,151.3 L135.0,151.5 L136.0,150.6 L137.0,151.5 L138.0,151.4 L139.0,150.8 L140.0,150.9 L141.0,150.7 L142.0,151.0 L143.0,151.3 L144.0,150.8 L145.0,151.3 L146.0,151.5 L147.0,151.4 L148.0,151.7 L149.0,151.1 L150.0,151.4 L151.0,152.1 L152.0,151.1 L153.0,150.8 L154.0,150.9 L155.0,151.0 L156.0,150.6 L157.0,150.5 L158.0,149.9 L159.0,150.0 L160.0,150.1 L161.0,150.1 L162.0,150.6 L163.0,151.1 L164.0,150.6 L165.0,150.2 L166.0,150.8 L167.0,150.8 L168.0,150.2 L169.0,150.6 L170.0,150.2 L171.0,150.3 L172.0,150.5 L173.0,151.0 L174.0,150.5 L175.0,150.6 L176.0,151.0 L177.0,151.4 L178.0,151.4 L179.0,150.6 L180.0,151.3 L181.0,151.2 L182.0,151.6 L183.0,151.4 L184.0,150.8 L185.0,150.8 L186.0,150.8 L187.0,151.2 L188.0,151.8 L189.0,151.1 L190.0,150.9 L191.0,152.0 L192.0,150.8 L193.0,150.9 L194.0,150.9 L195.0,150.6 L196.0,151.4 L197.0,151.6 L198.0,151.0 L199.0,150.9 L200.0,150.6 L201.0,150.0 L202.0,150.6 L203.0,150.1 L204.0,150.2 L205.0,150.9 L206.0,151.2 L207.0,150.6 L208.0,151.4 L209.0,151.8 L210.0,151.1 L211.0,150.9 L212.0,151.0 L213.0,150.8 L214.0,150.7 L215.0,151.4 L216.0,151.5 L217.0,151.0 L218.0,151.0 L219.0,151.1 L220.0,151.2 L221.0,151.2 L222.0,151.4 L223.0,152.5 L224.0,152.4 L225.0,152.9 L226.0,153.8 L227.0,153.2 L228.0,153.5 L229.0,153.0 L230.0,153.5 L231.0,154.4 L232.0,154.2 L233.0,153.8 L234.0,154.0 L235.0,155.0 L236.0,155.0 L237.0,155.9 L238.0,156.1 L239.0,156.0 L240.0,156.4 L241.0,157.1 L242.0,157.0 L243.0,156.9 L244.0,157.6 L245.0,157.7 L246.0,158.1 L247.0,158.7 L248.0,159.1 L249.0,159.6 L250.0,159.4 L251.0,159.5 L252.0,160.0 L253.0,160.6 L254.0,160.5 L255.0,161.0 L256.0,161.2 L257.0,161.6 L258.0,162.5 L259.0,163.9 L260.0,163.3 L261.0,163.7 L262.0,164.1 L263.0,164.4 L264.0,165.1 L265.0,166.2 L266.0,166.0 L267.0,167.0 L268.0,167.1 L269.0,166.8 L270.0,167.2 L271.0,167.7 L272.0,168.2 L273.0,169.6 L274.0,170.0 L275.0,170.3 L276.0,170.2 L277.0,171.2 L278.0,171.7 L279.0,173.2 L280.0,172.9 L281.0,173.3 L282.0,173.9 L283.0,174.0 L284.0,174.4 L285.0,175.1 L286.0,176.0 L287.0,175.9 L288.0,176.5 L289.0,177.1 L290.0,177.2 L291.0,177.2 L292.0,177.7 L293.0,178.4 L294.0,178.9 L295.0,180.1 L296.0,180.3 L297.0,180.5 L298.0,180.7 L299.0,181.6 L300.0,181.8 L301.0,181.9 L302.0,182.7 L303.0,184.3 L304.0,183.6 L305.0,183.9 L306.0,185.2 L307.0,185.6 L308.0,185.7 L309.0,186.5 L310.0,185.9 L311.0,186.4 L312.0,186.7 L313.0,188.3 L314.0,188.7 L315.0,190.0 L316.0,189.7 L317.0,189.8 L318.0,189.5 L319.0,189.8 L320.0,190.7 L321.0,191.7 L322.0,191.3 L323.0,191.2 L324.0,193.0 L325.0,193.6 L326.0,193.4 L327.0,194.3 L328.0,195.2 L329.0,195.5 L330.0,194.8 L331.0,195.7 L332.0,196.1 L333.0,197.1 L334.0,197.2 L335.0,197.1 L336.0,198.1 L337.0,198.7 L338.0,198.2 L339.0,198.6 L340.0,199.4 L341.0,200.1 L342.0,200.3 L343.0,200.2 L344.0,200.8 L345.0,202.0 L346.0,202.7 L347.0,202.7 L348.0,203.7 L349.0,204.8 L350.0,204.5 L351.0,204.6 L352.0,205.0 L353.0,206.0 L354.0,206.4 L355.0,206.8 L356.0,207.1 L357.0,207.9 L358.0,208.3 L359.0,208.7 L360.0,209.4 L361.0,209.0 L362.0,210.2 L363.0,210.6 L364.0,211.6 L365.0,212.5 L366.0,212.2 L367.0,212.5 L368.0,213.2 L369.0,214.3 L370.0,214.9 L371.0,214.9 L372.0,215.6 L373.0,216.5 L374.0,216.4 L375.0,215.9 L376.0,216.6 L377.0,217.4 L378.0,218.3 L379.0,218.6 L380.0,219.8 L381.0,219.9 L382.0,220.9 L383.0,220.9 L384.0,222.0 L385.0,222.3 L386.0,223.4 L387.0,224.3 L388.0,224.7 L389.0,224.7 L390.0,224.4 L391.0,224.5 L392.0,224.3 L393.0,226.8 L394.0,227.6 L395.0,227.8 L396.0,227.7 L397.0,229.5 L398.0,229.0 L399.0,229.7 L400.0,229.3 L401.0,230.2 L402.0,231.7 L403.0,232.2 L404.0,231.8 L405.0,232.7 L406.0,233.6 L407.0,233.2 L408.0,234.4 L409.0,234.4 L410.0,235.7 L411.0,236.1 L412.0,237.0 L413.0,237.0 L414.0,237.5 L415.0,238.0 L416.0,238.4 L417.0,239.1 L418.0,239.5 L419.0,240.3 L420.0,241.4 L421.0,241.8 L422.0,242.9 L423.0,243.4 L424.0,243.8 L425.0,243.7 L426.0,244.8 L427.0,245.9 L428.0,246.3 L429.0,247.0 L430.0,247.4 L431.0,246.8 L432.0,248.0 L433.0,248.7 L434.0,248.8 L435.0,248.9 L436.0,250.0 L437.0,250.8 L438.0,252.3 L439.0,252.7 L440.0,252.3 L441.0,252.6 L442.0,253.4 L443.0,254.4 L444.0,255.2 L445.0,256.8 L446.0,256.5 L447.0,257.4 L448.0,258.5 L449.0,259.3 L450.0,259.6 L451.0,260.7 L452.0,261.8 L453.0,262.7 L454.0,263.2 L455.0,264.2 L456.0,265.6 L457.0,267.1 L458.0,267.0 L459.0,268.7 L460.0,270.2 L461.0,270.4 L462.0,272.7 L463.0,274.2 L464.0,274.9 L465.0,276.6 L466.0,278.0 L467.0,278.4 L468.0,279.3 L469.0,279.8 L470.0,281.0 L471.0,282.5 L472.0,283.8 L473.0,285.6 L474.0,286.0 L475.0,286.8 L476.0,288.8 L477.0,290.0 L478.0,290.8 L479.0,291.9 L480.0,293.6 L481.0,296.4 L482.0,299.1 L483.0,300.3 L484.0,301.2 L485.0,302.5 L486.0,303.4 L487.0,304.4 L488.0,305.9 L489.0,307.2 L490.0,307.9 L491.0,309.2 L492.0,310.8 L493.0,313.1 L494.0,315.3 L495.0,316.3 L496.0,318.0 L497.0,319.7 L498.0,322.1 L499.0,323.9 L500.0,325.9 L501.0,328.1 L502.0,331.4 L503.0,332.5 L504.0,333.9 L505.0,335.6 L506.0,337.4 L507.0,338.6 L508.0,338.9 L509.0,338.9 L510.0,340.7 L511.0,341.5 L512.0,341.8 L513.0,342.0 L514.0,342.2 L515.0,342.8 L516.0,342.6 L517.0,343.2 L518.0,342.9 L519.0,343.0 L520.0,343.1 L520.4,343.2" stroke="#325AA0"/><path d="M71.9,346.6 L75.9,346.6 L79.9,346.6 L83.9,346.6 L87.9,346.6 L89.0,346.6 L89.2,346.6 L89.4,346.1 L89.6,344.7 L89.8,342.6 L90.0,340.1 L90.2,337.4 L90.4,334.5 L90.6,330.5 L90.8,325.8 L91.0,320.5 L91.2,315.0 L91.4,309.0 L91.6,302.3 L91.8,295.4 L92.0,288.6 L92.2,281.6 L92.4,274.6 L92.6,268.0 L92.8,262.2 L93.0,256.8 L93.2,251.8 L93.4,247.2 L93.6,242.9 L93.8,238.9 L94.0,235.1 L94.2,231.5 L94.4,228.1 L94.6,225.0 L94.8,222.1 L95.0,219.5 L95.2,217.1 L95.4,214.7 L95.6,212.4 L95.8,210.1 L96.0,207.6 L96.2,205.0 L96.4,202.1 L96.6,198.9 L96.8,195.7 L97.0,192.7 L97.2,190.0 L97.4,187.7 L97.6,185.7 L97.8,183.7 L98.0,181.9 L98.2,180.0 L98.4,178.1 L98.6,176.2 L98.8,174.4 L99.0,172.6 L99.2,171.0 L99.4,169.4 L99.6,167.9 L99.8,166.5 L100.0,165.3 L101.0,160.6 L102.0,156.9 L103.0,154.0 L104.0,152.9 L105.0,151.6 L106.0,150.4 L107.0,147.9 L108.0,146.4 L109.0,145.0 L110.0,143.4 L111.0,144.0 L112.0,144.5 L113.0,143.5 L114.0,142.5 L115.0,143.5 L116.0,143.0 L117.0,142.7 L118.0,142.5 L119.0,142.5 L120.0,142.4 L121.0,141.5 L122.0,141.8 L123.0,141.8 L124.0,142.2 L125.0,141.6 L126.0,142.4 L127.0,142.3 L128.0,142.4 L129.0,141.5 L130.0,141.9 L131.0,141.6 L132.0,140.7 L133.0,141.1 L134.0,141.0 L135.0,140.8 L136.0,140.7 L137.0,140.5 L138.0,140.9 L139.0,141.2 L140.0,140.7 L141.0,140.4 L142.0,141.4 L143.0,141.0 L144.0,141.0 L145.0,140.9 L146.0,140.8 L147.0,141.1 L148.0,140.8 L149.0,140.7 L150.0,140.1 L151.0,139.9 L152.0,140.7 L153.0,141.7 L154.0,141.3 L155.0,141.8 L156.0,141.3 L157.0,141.0 L158.0,140.5 L159.0,140.9 L160.0,141.7 L161.0,141.4 L162.0,140.5 L163.0,140.6 L164.0,141.3 L165.0,140.7 L166.0,141.0 L167.0,140.4 L168.0,141.1 L169.0,141.6 L170.0,141.3 L171.0,140.9 L172.0,140.8 L173.0,140.7 L174.0,140.8 L175.0,141.4 L176.0,141.4 L177.0,140.9 L178.0,140.1 L179.0,140.4 L180.0,140.8 L181.0,140.6 L182.0,140.1 L183.0,141.2 L184.0,141.9 L185.0,140.4 L186.0,140.8 L187.0,141.5 L188.0,140.7 L189.0,140.5 L190.0,140.8 L191.0,141.0 L192.0,140.7 L193.0,141.0 L194.0,140.0 L195.0,140.9 L196.0,140.9 L197.0,140.6 L198.0,140.7 L199.0,140.7 L200.0,141.0 L201.0,140.3 L202.0,140.1 L203.0,139.6 L204.0,139.6 L205.0,139.9 L206.0,139.5 L207.0,139.6 L208.0,139.6 L209.0,140.0 L210.0,140.5 L211.0,140.7 L212.0,139.6 L213.0,140.3 L214.0,141.1 L215.0,141.5 L216.0,141.3 L217.0,140.1 L218.0,140.5 L219.0,141.3 L220.0,141.7 L221.0,141.6 L222.0,141.7 L223.0,141.8 L224.0,141.7 L225.0,142.3 L226.0,142.8 L227.0,142.7 L228.0,143.2 L229.0,141.9 L230.0,143.1 L231.0,144.5 L232.0,144.6 L233.0,144.9 L234.0,144.5 L235.0,144.1 L236.0,144.7 L237.0,145.7 L238.0,144.7 L239.0,145.0 L240.0,145.1 L241.0,145.9 L242.0,146.5 L243.0,147.2 L244.0,147.2 L245.0,148.4 L246.0,148.4 L247.0,148.0 L248.0,148.0 L249.0,148.2 L250.0,149.5 L251.0,150.7 L252.0,150.2 L253.0,150.1 L254.0,150.8 L255.0,151.0 L256.0,151.1 L257.0,151.2 L258.0,152.5 L259.0,153.8 L260.0,154.3 L261.0,154.5 L262.0,154.5 L263.0,155.1 L264.0,155.7 L265.0,155.7 L266.0,156.2 L267.0,156.5 L268.0,157.4 L269.0,157.3 L270.0,158.3 L271.0,159.1 L272.0,159.5 L273.0,159.9 L274.0,159.8 L275.0,160.2 L276.0,160.7 L277.0,161.2 L278.0,161.4 L279.0,162.2 L280.0,162.7 L281.0,163.1 L282.0,164.1 L283.0,164.4 L284.0,165.4 L285.0,166.6 L286.0,167.1 L287.0,166.9 L288.0,167.6 L289.0,168.0 L290.0,169.3 L291.0,169.6 L292.0,169.6 L293.0,169.4 L294.0,169.8 L295.0,170.5 L296.0,170.8 L297.0,171.2 L298.0,171.9 L299.0,171.4 L300.0,171.4 L301.0,172.3 L302.0,172.9 L303.0,173.8 L304.0,174.0 L305.0,174.5 L306.0,174.6 L307.0,176.4 L308.0,176.6 L309.0,176.4 L310.0,177.4 L311.0,178.4 L312.0,178.7 L313.0,178.7 L314.0,179.5 L315.0,179.9 L316.0,179.4 L317.0,179.6 L318.0,180.6 L319.0,181.9 L320.0,182.6 L321.0,182.6 L322.0,183.5 L323.0,183.8 L324.0,183.6 L325.0,183.6 L326.0,184.1 L327.0,185.0 L328.0,186.1 L329.0,186.2 L330.0,185.5 L331.0,186.0 L332.0,187.4 L333.0,187.6 L334.0,187.6 L335.0,188.7 L336.0,189.6 L337.0,189.8 L338.0,189.9 L339.0,190.7 L340.0,190.4 L341.0,190.6 L342.0,191.1 L343.0,192.9 L344.0,193.5 L345.0,193.0 L346.0,193.5 L347.0,194.0 L348.0,194.7 L349.0,195.3 L350.0,195.4 L351.0,195.4 L352.0,195.6 L353.0,195.6 L354.0,195.5 L355.0,196.9 L356.0,197.4 L357.0,198.2 L358.0,198.6 L359.0,198.7 L360.0,199.4 L361.0,200.3 L362.0,200.7 L363.0,200.7 L364.0,201.3 L365.0,202.4 L366.0,202.9 L367.0,203.4 L368.0,203.8 L369.0,204.6 L370.0,205.2 L371.0,206.5 L372.0,205.8 L373.0,206.2 L374.0,207.6 L375.0,207.5 L376.0,207.7 L377.0,208.4 L378.0,208.1 L379.0,209.6 L380.0,210.3 L381.0,210.8 L382.0,211.1 L383.0,212.4 L384.0,212.7 L385.0,213.0 L386.0,213.6 L387.0,213.7 L388.0,214.3 L389.0,214.3 L390.0,215.1 L391.0,216.3 L392.0,217.0 L393.0,217.7 L394.0,217.7 L395.0,218.3 L396.0,218.7 L397.0,219.7 L398.0,220.6 L399.0,221.3 L400.0,221.5 L401.0,221.5 L402.0,222.3 L403.0,222.2 L404.0,222.5 L405.0,224.0 L406.0,224.8 L407.0,225.7 L408.0,226.2 L409.0,225.8 L410.0,226.4 L411.0,227.5 L412.0,228.3 L413.0,228.9 L414.0,228.8 L415.0,229.8 L416.0,231.1 L417.0,232.1 L418.0,231.6 L419.0,233.1 L420.0,233.0 L421.0,233.1 L422.0,234.7 L423.0,234.5 L424.0,235.0 L425.0,236.6 L426.0,237.4 L427.0,237.5 L428.0,237.5 L429.0,237.8 L430.0,238.9 L431.0,238.6 L432.0,239.6 L433.0,241.5 L434.0,242.2 L435.0,243.0 L436.0,243.1 L437.0,243.1 L438.0,244.2 L439.0,244.2 L440.0,245.9 L441.0,246.9 L442.0,246.8 L443.0,248.2 L444.0,248.7 L445.0,249.1 L446.0,249.2 L447.0,250.8 L448.0,252.0 L449.0,251.9 L450.0,253.0 L451.0,253.8 L452.0,254.5 L453.0,256.5 L454.0,257.2 L455.0,258.1 L456.0,259.3 L457.0,260.0 L458.0,262.3 L459.0,261.9 L460.0,262.5 L461.0,264.3 L462.0,265.3 L463.0,265.8 L464.0,267.0 L465.0,268.9 L466.0,270.0 L467.0,271.2 L468.0,272.5 L469.0,273.3 L470.0,275.1 L471.0,276.0 L472.0,277.1 L473.0,277.7 L474.0,279.3 L475.0,280.5 L476.0,282.4 L477.0,282.7 L478.0,284.3 L479.0,285.4 L480.0,286.9 L481.0,287.7 L482.0,288.9 L483.0,289.6 L484.0,292.0 L485.0,295.1 L486.0,296.7 L487.0,298.1 L488.0,299.2 L489.0,300.8 L490.0,301.7 L491.0,303.4 L492.0,305.5 L493.0,307.1 L494.0,308.1 L495.0,309.9 L496.0,311.7 L497.0,313.4 L498.0,315.2 L499.0,317.0 L500.0,319.5 L501.0,321.0 L502.0,323.1 L503.0,326.2 L504.0,328.6 L505.0,330.4 L506.0,331.4 L507.0,332.8 L508.0,335.2 L509.0,337.2 L510.0,337.9 L511.0,338.2 L512.0,338.3 L513.0,339.1 L514.0,340.9 L515.0,340.3 L516.0,340.9 L517.0,341.6 L518.0,342.2 L519.0,342.0 L520.0,343.1 L520.4,343.3" stroke="#D26012"/><path d="M71.9,346.6 L75.9,346.6 L79.9,346.6 L83.9,346.6 L87.9,346.6 L89.0,346.6 L89.2,346.6 L89.4,346.1 L89.6,344.7 L89.8,342.6 L90.0,340.1 L90.2,337.4 L90.4,334.5 L90.6,330.5 L90.8,325.8 L91.0,320.5 L91.2,315.0 L91.4,309.1 L91.6,302.5 L91.8,295.5 L92.0,288.3 L92.2,280.3 L92.4,272.3 L92.6,265.0 L92.8,258.7 L93.0,252.8 L93.2,247.5 L93.4,242.7 L93.6,238.3 L93.8,234.3 L94.0,230.5 L94.2,226.8 L94.4,223.2 L94.6,219.7 L94.8,216.3 L95.0,213.0 L95.2,209.8 L95.4,206.6 L95.6,203.4 L95.8,200.2 L96.0,197.0 L96.2,193.9 L96.4,190.9 L96.6,188.0 L96.8,185.2 L97.0,182.4 L97.2,179.8 L97.4,177.2 L97.6,174.8 L97.8,172.4 L98.0,170.1 L98.2,167.9 L98.4,165.9 L98.6,164.1 L98.8,162.5 L99.0,161.0 L99.2,159.6 L99.4,158.2 L99.6,157.0 L99.8,155.8 L100.0,154.0 L101.0,149.4 L102.0,147.1 L103.0,144.1 L104.0,141.6 L105.0,139.8 L106.0,138.5 L107.0,137.0 L108.0,136.2 L109.0,135.2 L110.0,134.8 L111.0,134.1 L112.0,133.6 L113.0,132.2 L114.0,131.9 L115.0,131.7 L116.0,132.4 L117.0,131.4 L118.0,131.0 L119.0,130.0 L120.0,129.9 L121.0,129.5 L122.0,129.8 L123.0,129.6 L124.0,130.3 L125.0,129.4 L126.0,129.9 L127.0,129.6 L128.0,129.6 L129.0,129.1 L130.0,129.3 L131.0,129.3 L132.0,129.1 L133.0,129.4 L134.0,128.7 L135.0,129.1 L136.0,129.2 L137.0,129.2 L138.0,128.8 L139.0,129.4 L140.0,128.9 L141.0,128.8 L142.0,128.7 L143.0,129.0 L144.0,129.7 L145.0,130.4 L146.0,128.4 L147.0,129.5 L148.0,129.9 L149.0,130.0 L150.0,129.5 L151.0,129.6 L152.0,130.1 L153.0,129.4 L154.0,129.3 L155.0,129.3 L156.0,129.6 L157.0,130.0 L158.0,129.1 L159.0,129.4 L160.0,128.2 L161.0,129.1 L162.0,129.1 L163.0,129.8 L164.0,129.8 L165.0,129.7 L166.0,129.5 L167.0,129.2 L168.0,128.3 L169.0,129.0 L170.0,128.7 L171.0,129.4 L172.0,128.9 L173.0,129.0 L174.0,128.9 L175.0,129.2 L176.0,129.3 L177.0,129.3 L178.0,128.8 L179.0,129.6 L180.0,128.8 L181.0,128.7 L182.0,127.9 L183.0,129.1 L184.0,129.8 L185.0,129.9 L186.0,129.6 L187.0,129.4 L188.0,128.9 L189.0,128.9 L190.0,129.0 L191.0,129.1 L192.0,128.6 L193.0,128.9 L194.0,129.4 L195.0,129.3 L196.0,129.1 L197.0,128.8 L198.0,129.3 L199.0,129.5 L200.0,129.9 L201.0,129.5 L202.0,129.6 L203.0,129.0 L204.0,129.9 L205.0,128.9 L206.0,129.3 L207.0,129.3 L208.0,129.3 L209.0,129.5 L210.0,129.6 L211.0,130.0 L212.0,130.3 L213.0,130.9 L214.0,131.2 L215.0,131.4 L216.0,130.8 L217.0,130.6 L218.0,131.9 L219.0,131.2 L220.0,130.1 L221.0,131.5 L222.0,131.5 L223.0,131.4 L224.0,131.7 L225.0,132.1 L226.0,132.1 L227.0,132.7 L228.0,132.9 L229.0,133.1 L230.0,133.6 L231.0,134.0 L232.0,134.7 L233.0,134.4 L234.0,134.0 L235.0,134.7 L236.0,135.8 L237.0,136.0 L238.0,135.2 L239.0,135.8 L240.0,135.7 L241.0,135.8 L242.0,135.5 L243.0,135.7 L244.0,136.7 L245.0,137.4 L246.0,137.7 L247.0,137.4 L248.0,137.9 L249.0,138.4 L250.0,138.3 L251.0,137.5 L252.0,138.5 L253.0,139.6 L254.0,140.1 L255.0,139.9 L256.0,140.6 L257.0,139.7 L258.0,141.4 L259.0,141.3 L260.0,141.7 L261.0,141.7 L262.0,141.9 L263.0,142.8 L264.0,143.3 L265.0,143.4 L266.0,144.5 L267.0,144.6 L268.0,145.0 L269.0,145.2 L270.0,145.6 L271.0,146.3 L272.0,146.4 L273.0,147.5 L274.0,147.4 L275.0,148.4 L276.0,148.4 L277.0,149.1 L278.0,149.7 L279.0,151.1 L280.0,151.8 L281.0,151.4 L282.0,152.1 L283.0,152.7 L284.0,153.4 L285.0,154.2 L286.0,154.9 L287.0,154.5 L288.0,154.2 L289.0,155.5 L290.0,155.8 L291.0,156.4 L292.0,157.6 L293.0,158.2 L294.0,158.2 L295.0,159.0 L296.0,159.2 L297.0,159.7 L298.0,160.0 L299.0,160.9 L300.0,160.6 L301.0,161.3 L302.0,162.1 L303.0,161.9 L304.0,162.9 L305.0,163.6 L306.0,164.4 L307.0,164.9 L308.0,164.0 L309.0,165.5 L310.0,166.1 L311.0,166.9 L312.0,167.1 L313.0,166.9 L314.0,167.2 L315.0,167.8 L316.0,169.1 L317.0,169.0 L318.0,169.7 L319.0,169.8 L320.0,169.5 L321.0,170.6 L322.0,171.5 L323.0,172.5 L324.0,172.3 L325.0,172.2 L326.0,173.0 L327.0,174.1 L328.0,174.6 L329.0,175.0 L330.0,175.3 L331.0,175.3 L332.0,176.3 L333.0,176.4 L334.0,175.8 L335.0,176.9 L336.0,178.2 L337.0,177.9 L338.0,178.3 L339.0,179.0 L340.0,179.5 L341.0,179.9 L342.0,180.5 L343.0,180.3 L344.0,180.4 L345.0,181.5 L346.0,182.2 L347.0,183.2 L348.0,184.2 L349.0,184.0 L350.0,184.6 L351.0,185.4 L352.0,185.5 L353.0,185.7 L354.0,185.4 L355.0,186.0 L356.0,186.3 L357.0,187.1 L358.0,188.2 L359.0,188.6 L360.0,188.5 L361.0,188.2 L362.0,189.8 L363.0,190.4 L364.0,190.2 L365.0,191.1 L366.0,191.7 L367.0,192.3 L368.0,191.7 L369.0,192.6 L370.0,194.2 L371.0,193.9 L372.0,194.3 L373.0,195.1 L374.0,196.1 L375.0,197.1 L376.0,197.1 L377.0,198.0 L378.0,198.3 L379.0,198.5 L380.0,200.0 L381.0,200.3 L382.0,200.2 L383.0,200.6 L384.0,200.7 L385.0,200.9 L386.0,202.3 L387.0,203.2 L388.0,202.2 L389.0,203.8 L390.0,205.8 L391.0,206.1 L392.0,205.5 L393.0,206.1 L394.0,207.4 L395.0,207.1 L396.0,207.8 L397.0,208.2 L398.0,209.2 L399.0,210.0 L400.0,211.0 L401.0,210.3 L402.0,210.4 L403.0,211.6 L404.0,212.6 L405.0,213.2 L406.0,214.8 L407.0,214.2 L408.0,214.8 L409.0,216.0 L410.0,217.0 L411.0,217.0 L412.0,217.5 L413.0,217.2 L414.0,217.9 L415.0,219.2 L416.0,220.2 L417.0,220.8 L418.0,221.4 L419.0,222.1 L420.0,222.4 L421.0,222.8 L422.0,223.3 L423.0,223.6 L424.0,224.4 L425.0,225.2 L426.0,226.7 L427.0,228.2 L428.0,228.3 L429.0,229.1 L430.0,228.5 L431.0,229.1 L432.0,230.0 L433.0,231.4 L434.0,232.5 L435.0,232.7 L436.0,233.0 L437.0,233.4 L438.0,233.8 L439.0,234.9 L440.0,235.6 L441.0,236.1 L442.0,236.5 L443.0,237.6 L444.0,238.3 L445.0,238.9 L446.0,240.5 L447.0,240.9 L448.0,241.8 L449.0,241.9 L450.0,242.9 L451.0,243.6 L452.0,244.4 L453.0,245.8 L454.0,246.5 L455.0,247.0 L456.0,248.1 L457.0,249.4 L458.0,250.6 L459.0,252.0 L460.0,251.5 L461.0,253.6 L462.0,254.9 L463.0,255.7 L464.0,256.2 L465.0,257.0 L466.0,257.9 L467.0,260.1 L468.0,261.1 L469.0,262.6 L470.0,264.7 L471.0,265.2 L472.0,266.8 L473.0,268.6 L474.0,269.7 L475.0,271.3 L476.0,272.8 L477.0,274.0 L478.0,274.8 L479.0,276.3 L480.0,278.8 L481.0,280.2 L482.0,281.2 L483.0,282.6 L484.0,284.8 L485.0,285.6 L486.0,286.8 L487.0,289.0 L488.0,289.8 L489.0,291.5 L490.0,293.2 L491.0,294.4 L492.0,296.5 L493.0,298.2 L494.0,299.8 L495.0,301.2 L496.0,303.4 L497.0,304.4 L498.0,305.8 L499.0,307.8 L500.0,309.0 L501.0,310.1 L502.0,313.1 L503.0,313.9 L504.0,315.7 L505.0,318.5 L506.0,320.2 L507.0,322.7 L508.0,324.7 L509.0,326.3 L510.0,327.5 L511.0,329.1 L512.0,330.2 L513.0,332.4 L514.0,333.7 L515.0,335.0 L516.0,336.4 L517.0,337.4 L518.0,338.5 L519.0,339.3 L520.0,339.5 L520.4,339.4" stroke="#848484"/><path d="M71.9,346.6 L75.9,346.6 L79.9,346.6 L83.9,346.6 L87.9,346.6 L89.0,346.6 L89.2,346.6 L89.4,346.1 L89.6,344.7 L89.8,342.6 L90.0,340.1 L90.2,337.4 L90.4,334.5 L90.6,330.5 L90.8,325.8 L91.0,320.5 L91.2,315.0 L91.4,309.2 L91.6,302.8 L91.8,295.7 L92.0,287.9 L92.2,278.5 L92.4,269.1 L92.6,261.3 L92.8,254.3 L93.0,247.9 L93.2,242.2 L93.4,236.9 L93.6,231.9 L93.8,227.3 L94.0,222.8 L94.2,218.8 L94.4,215.0 L94.6,211.2 L94.8,207.2 L95.0,202.6 L95.2,197.4 L95.4,191.9 L95.6,186.6 L95.8,182.0 L96.0,178.0 L96.2,174.4 L96.4,171.1 L96.6,168.0 L96.8,165.2 L97.0,162.6 L97.2,160.2 L97.4,158.0 L97.6,156.0 L97.8,154.0 L98.0,152.2 L98.2,150.6 L98.4,149.0 L98.6,147.5 L98.8,146.1 L99.0,144.8 L99.2,143.6 L99.4,142.5 L99.6,141.5 L99.8,140.6 L100.0,139.5 L101.0,136.0 L102.0,132.1 L103.0,129.7 L104.0,127.8 L105.0,126.8 L106.0,124.9 L107.0,123.7 L108.0,123.6 L109.0,122.6 L110.0,121.7 L111.0,121.3 L112.0,121.5 L113.0,120.7 L114.0,120.1 L115.0,121.1 L116.0,120.2 L117.0,120.3 L118.0,119.8 L119.0,119.5 L120.0,118.3 L121.0,118.2 L122.0,118.6 L123.0,118.2 L124.0,118.2 L125.0,118.3 L126.0,117.0 L127.0,117.7 L128.0,118.6 L129.0,117.9 L130.0,118.0 L131.0,118.1 L132.0,118.1 L133.0,118.0 L134.0,117.5 L135.0,117.9 L136.0,117.8 L137.0,118.5 L138.0,117.8 L139.0,117.9 L140.0,117.9 L141.0,118.4 L142.0,118.1 L143.0,118.1 L144.0,117.6 L145.0,117.5 L146.0,117.3 L147.0,117.6 L148.0,117.5 L149.0,117.1 L150.0,117.1 L151.0,117.7 L152.0,117.7 L153.0,117.3 L154.0,117.2 L155.0,117.2 L156.0,117.7 L157.0,117.5 L158.0,117.4 L159.0,117.4 L160.0,117.4 L161.0,117.6 L162.0,117.6 L163.0,116.9 L164.0,117.3 L165.0,117.1 L166.0,117.6 L167.0,118.1 L168.0,116.8 L169.0,116.9 L170.0,117.1 L171.0,116.8 L172.0,118.5 L173.0,117.8 L174.0,118.4 L175.0,117.9 L176.0,118.3 L177.0,118.1 L178.0,117.6 L179.0,117.7 L180.0,117.3 L181.0,117.4 L182.0,118.1 L183.0,117.2 L184.0,117.3 L185.0,118.6 L186.0,117.6 L187.0,117.8 L188.0,118.2 L189.0,117.3 L190.0,117.3 L191.0,118.3 L192.0,117.6 L193.0,117.5 L194.0,117.3 L195.0,117.5 L196.0,116.7 L197.0,117.4 L198.0,118.0 L199.0,117.9 L200.0,117.3 L201.0,117.9 L202.0,118.5 L203.0,117.8 L204.0,117.8 L205.0,117.3 L206.0,116.9 L207.0,117.8 L208.0,117.3 L209.0,117.5 L210.0,117.9 L211.0,118.1 L212.0,118.2 L213.0,118.8 L214.0,118.6 L215.0,118.4 L216.0,118.2 L217.0,118.9 L218.0,118.2 L219.0,117.8 L220.0,118.7 L221.0,119.7 L222.0,120.0 L223.0,120.6 L224.0,120.5 L225.0,120.6 L226.0,120.7 L227.0,120.5 L228.0,120.7 L229.0,121.0 L230.0,121.4 L231.0,121.3 L232.0,121.7 L233.0,122.3 L234.0,122.4 L235.0,122.5 L236.0,122.7 L237.0,122.4 L238.0,122.6 L239.0,123.3 L240.0,124.4 L241.0,124.7 L242.0,124.7 L243.0,125.1 L244.0,125.2 L245.0,124.2 L246.0,125.2 L247.0,126.4 L248.0,127.1 L249.0,126.9 L250.0,127.7 L251.0,127.8 L252.0,127.4 L253.0,127.1 L254.0,127.4 L255.0,128.2 L256.0,128.7 L257.0,129.0 L258.0,129.6 L259.0,130.0 L260.0,130.1 L261.0,130.6 L262.0,130.7 L263.0,130.1 L264.0,130.8 L265.0,132.0 L266.0,132.7 L267.0,132.9 L268.0,133.1 L269.0,133.8 L270.0,134.4 L271.0,134.5 L272.0,134.2 L273.0,135.6 L274.0,136.4 L275.0,136.9 L276.0,137.9 L277.0,136.9 L278.0,137.4 L279.0,139.8 L280.0,138.6 L281.0,138.2 L282.0,139.6 L283.0,140.8 L284.0,140.7 L285.0,141.3 L286.0,142.5 L287.0,143.6 L288.0,143.6 L289.0,143.7 L290.0,143.9 L291.0,145.1 L292.0,146.2 L293.0,145.1 L294.0,145.3 L295.0,146.2 L296.0,147.3 L297.0,147.8 L298.0,147.8 L299.0,148.3 L300.0,149.5 L301.0,149.9 L302.0,150.6 L303.0,150.5 L304.0,151.3 L305.0,151.3 L306.0,152.8 L307.0,152.4 L308.0,152.8 L309.0,153.6 L310.0,153.8 L311.0,154.2 L312.0,155.0 L313.0,155.4 L314.0,156.7 L315.0,156.4 L316.0,157.2 L317.0,157.0 L318.0,156.8 L319.0,157.1 L320.0,158.5 L321.0,158.7 L322.0,159.7 L323.0,160.0 L324.0,160.7 L325.0,161.5 L326.0,162.7 L327.0,162.3 L328.0,161.9 L329.0,162.1 L330.0,164.0 L331.0,164.5 L332.0,165.3 L333.0,164.6 L334.0,165.4 L335.0,165.8 L336.0,166.8 L337.0,167.2 L338.0,168.2 L339.0,168.1 L340.0,168.4 L341.0,168.8 L342.0,169.9 L343.0,170.7 L344.0,170.9 L345.0,170.7 L346.0,170.9 L347.0,171.5 L348.0,172.5 L349.0,172.8 L350.0,173.5 L351.0,174.6 L352.0,174.8 L353.0,175.1 L354.0,175.2 L355.0,175.8 L356.0,176.3 L357.0,176.9 L358.0,177.3 L359.0,177.9 L360.0,178.2 L361.0,179.5 L362.0,179.7 L363.0,180.2 L364.0,180.8 L365.0,180.4 L366.0,180.6 L367.0,181.1 L368.0,182.1 L369.0,183.3 L370.0,183.9 L371.0,184.7 L372.0,184.2 L373.0,185.1 L374.0,185.0 L375.0,185.4 L376.0,186.2 L377.0,187.8 L378.0,188.2 L379.0,189.1 L380.0,189.3 L381.0,190.0 L382.0,190.7 L383.0,191.1 L384.0,191.6 L385.0,192.5 L386.0,192.8 L387.0,193.2 L388.0,193.7 L389.0,194.0 L390.0,194.1 L391.0,195.2 L392.0,196.9 L393.0,196.9 L394.0,196.8 L395.0,197.8 L396.0,199.1 L397.0,199.9 L398.0,198.8 L399.0,199.1 L400.0,199.7 L401.0,200.9 L402.0,201.7 L403.0,203.2 L404.0,203.7 L405.0,204.0 L406.0,205.5 L407.0,205.1 L408.0,205.9 L409.0,206.7 L410.0,206.6 L411.0,207.6 L412.0,208.4 L413.0,208.9 L414.0,209.8 L415.0,210.0 L416.0,210.4 L417.0,211.6 L418.0,211.8 L419.0,212.6 L420.0,213.0 L421.0,214.0 L422.0,214.4 L423.0,214.5 L424.0,215.6 L425.0,216.2 L426.0,217.5 L427.0,217.4 L428.0,218.0 L429.0,217.5 L430.0,218.4 L431.0,218.8 L432.0,220.0 L433.0,220.6 L434.0,222.1 L435.0,222.7 L436.0,223.4 L437.0,222.8 L438.0,222.8 L439.0,224.5 L440.0,226.0 L441.0,226.5 L442.0,227.7 L443.0,227.5 L444.0,228.0 L445.0,229.4 L446.0,230.4 L447.0,230.5 L448.0,231.1 L449.0,232.1 L450.0,233.8 L451.0,233.3 L452.0,235.2 L453.0,235.9 L454.0,237.4 L455.0,237.9 L456.0,238.0 L457.0,239.3 L458.0,240.1 L459.0,240.8 L460.0,241.7 L461.0,243.6 L462.0,243.6 L463.0,245.5 L464.0,247.5 L465.0,248.1 L466.0,249.5 L467.0,250.4 L468.0,251.4 L469.0,251.6 L470.0,253.2 L471.0,255.0 L472.0,256.5 L473.0,257.7 L474.0,259.6 L475.0,262.1 L476.0,264.3 L477.0,265.8 L478.0,266.7 L479.0,268.6 L480.0,270.4 L481.0,272.2 L482.0,273.3 L483.0,275.0 L484.0,276.1 L485.0,278.0 L486.0,280.1 L487.0,281.6 L488.0,282.4 L489.0,284.3 L490.0,285.9 L491.0,288.5 L492.0,289.7 L493.0,291.2 L494.0,293.2 L495.0,293.0 L496.0,295.1 L497.0,297.4 L498.0,298.6 L499.0,300.1 L500.0,301.3 L501.0,303.2 L502.0,305.6 L503.0,308.4 L504.0,310.7 L505.0,311.4 L506.0,313.4 L507.0,314.1 L508.0,316.3 L509.0,318.4 L510.0,319.6 L511.0,321.7 L512.0,323.5 L513.0,326.0 L514.0,327.0 L515.0,328.0 L516.0,328.9 L517.0,330.8 L518.0,332.9 L519.0,334.6 L520.0,334.6 L520.4,334.5" stroke="#CC9A00"/>
</g>
<text x="59.0" y="351.4" text-anchor="end">0</text><text x="59.0" y="304.6" text-anchor="end">50</text><text x="59.0" y="257.8" text-anchor="end">100</text><text x="59.0" y="210.9" text-anchor="end">150</text><text x="59.0" y="164.1" text-anchor="end">200</text><text x="59.0" y="117.3" text-anchor="end">250</text>
<text x="71.9" y="369.6" text-anchor="middle">0</text><text x="112.7" y="369.6" text-anchor="middle">1</text><text x="153.4" y="369.6" text-anchor="middle">2</text><text x="194.2" y="369.6" text-anchor="middle">3</text><text x="235.0" y="369.6" text-anchor="middle">4</text><text x="275.8" y="369.6" text-anchor="middle">5</text><text x="316.5" y="369.6" text-anchor="middle">6</text><text x="357.3" y="369.6" text-anchor="middle">7</text><text x="398.1" y="369.6" text-anchor="middle">8</text><text x="438.8" y="369.6" text-anchor="middle">9</text><text x="479.6" y="369.6" text-anchor="middle">10</text><text x="520.4" y="369.6" text-anchor="middle">11</text>
<text x="297" y="390" text-anchor="middle">Time (s)</text>
<text transform="translate(26.3,229.1) rotate(-90)" text-anchor="middle">Cavity Pressure (bar)</text>
<text x="384.8" y="134.2">Material: 6331-8</text>
<text x="469.3" y="179.8">25 bar</text>
<text x="473.8" y="239.8">4 bar</text>
<path d="M491.2,223V193" stroke="#808080" stroke-width="1.5"/>
<path d="M491.2,187.6L494.8,194L487.6,194Z" fill="#000"/>
</svg>
</body></html>
